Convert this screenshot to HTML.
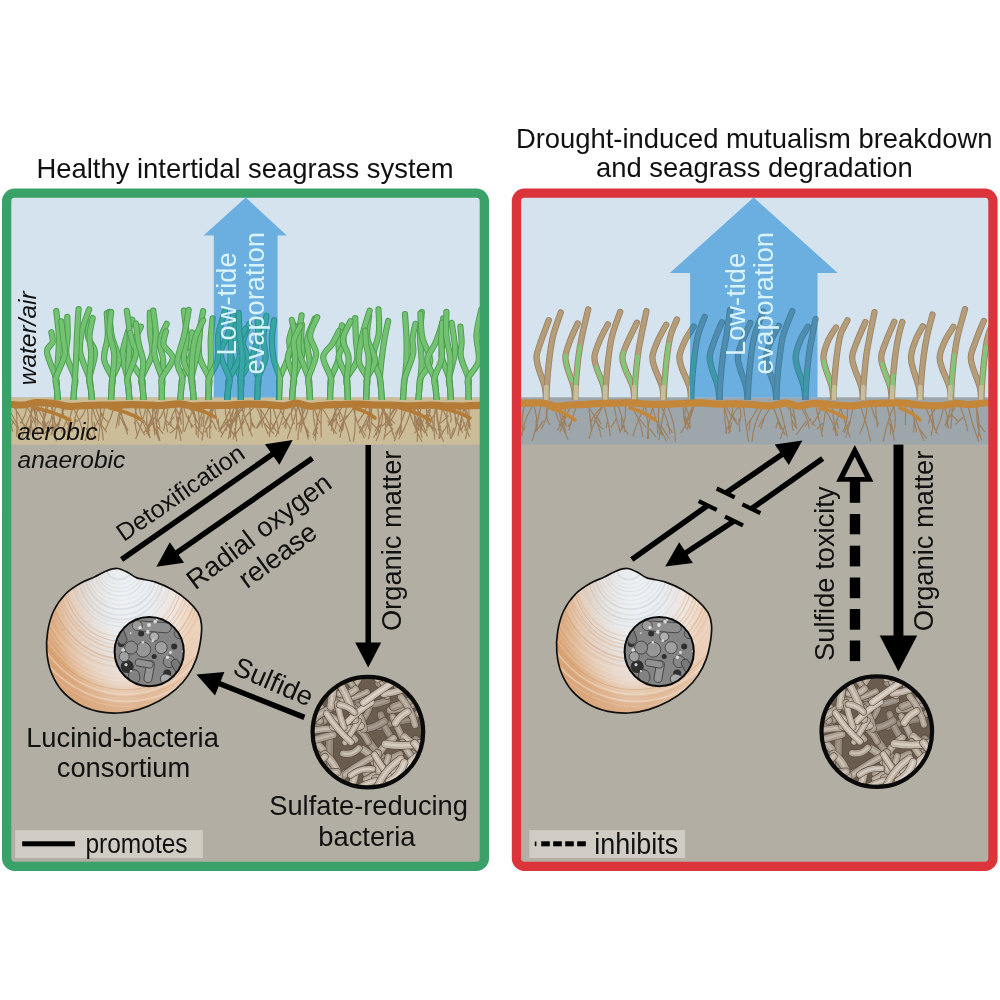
<!DOCTYPE html><html><head><meta charset="utf-8"><style>html,body{margin:0;padding:0;background:#fff;width:1000px;height:1000px;overflow:hidden}svg{display:block;will-change:transform}text{font-family:"Liberation Sans",sans-serif}</style></head><body>
<svg width="1000" height="1000" viewBox="0 0 1000 1000">
<defs>
<clipPath id="clipL"><rect x="6.65" y="193.15" width="477.7" height="673.2" rx="6"/></clipPath>
<clipPath id="clipR"><rect x="516.45" y="193.15" width="476.5" height="673.2" rx="6"/></clipPath>
</defs>
<text x="36.50" y="177.7" style="font-size:27.4px;" fill="#111">Healthy intertidal seagrass system</text>
<text x="515.90" y="147.7" style="font-size:27.4px;" fill="#111">Drought-induced mutualism breakdown</text>
<text x="596.05" y="177.3" style="font-size:27.4px;" fill="#111">and seagrass degradation</text>
<g clip-path="url(#clipL)">
<rect x="2.0" y="188.5" width="487.0" height="682.5" fill="#d5e3ef"/>
<rect x="2.0" y="397.5" width="487.0" height="473.5" fill="#b2aea3"/>
<rect x="2.0" y="397.5" width="487.0" height="47.0" fill="#cbbd97"/>
</g>
<g clip-path="url(#clipR)">
<rect x="511.8" y="188.5" width="485.8" height="682.5" fill="#d5e3ef"/>
<rect x="511.8" y="397.5" width="485.8" height="473.5" fill="#b2aea3"/>
<rect x="511.8" y="397.5" width="485.8" height="47.0" fill="#9ca6ab"/>
</g>
<polygon points="245.7,197.5 286.8,235.5 277.6,235.5 277.6,397.5 213.8,397.5 213.8,235.5 203.6,235.5" fill="#6aafdf"/>
<polygon points="753.6,197.5 837.7,272.9 817.5,272.9 817.5,397.5 690.1,397.5 690.1,272.9 669.9,272.9" fill="#6aafdf"/>
<clipPath id="lout"><rect x="0" y="190" width="213.8" height="210"/><rect x="277.6" y="190" width="220" height="210"/></clipPath>
<clipPath id="lin"><rect x="213.8" y="190" width="63.8" height="210"/></clipPath>
<g clip-path="url(#clipL)"><g clip-path="url(#lout)">
<path d="M310.1,402.0 C310.0,399.7 309.6,392.0 309.3,388.0 C309.1,384.0 308.5,382.4 308.5,378.0 C308.6,373.6 309.9,367.7 309.6,361.3 C309.4,355.0 306.3,347.0 307.2,339.8 C308.1,332.7 313.6,321.9 314.9,318.4" fill="none" stroke="#4c9d4f" stroke-width="6.199999999999999" stroke-linecap="round"/>
<path d="M310.1,402.0 C310.0,399.7 309.6,392.0 309.3,388.0 C309.1,384.0 308.5,382.4 308.5,378.0 C308.6,373.6 309.9,367.7 309.6,361.3 C309.4,355.0 306.3,347.0 307.2,339.8 C308.1,332.7 313.6,321.9 314.9,318.4" fill="none" stroke="#78c676" stroke-width="4.3" stroke-linecap="round" opacity="0.9"/>
<path d="M279.0,402.0 C279.0,399.7 279.2,392.0 279.4,388.0 C279.5,384.0 278.1,383.7 279.8,378.0 C281.5,372.3 288.0,360.4 289.6,354.0 C291.2,347.6 288.6,344.2 289.3,339.4 C290.0,334.5 293.0,327.2 293.8,324.7" fill="none" stroke="#4c9d4f" stroke-width="6.199999999999999" stroke-linecap="round"/>
<path d="M279.0,402.0 C279.0,399.7 279.2,392.0 279.4,388.0 C279.5,384.0 278.1,383.7 279.8,378.0 C281.5,372.3 288.0,360.4 289.6,354.0 C291.2,347.6 288.6,344.2 289.3,339.4 C290.0,334.5 293.0,327.2 293.8,324.7" fill="none" stroke="#78c676" stroke-width="4.3" stroke-linecap="round" opacity="0.9"/>
<path d="M291.9,402.0 C292.0,399.7 292.5,392.0 292.9,388.0 C293.2,384.0 294.8,383.1 293.9,378.0 C293.1,372.9 287.6,364.1 287.8,357.5 C287.9,350.9 294.1,344.9 294.7,338.7 C295.4,332.4 292.3,323.0 291.8,319.8" fill="none" stroke="#4c9d4f" stroke-width="6.199999999999999" stroke-linecap="round"/>
<path d="M291.9,402.0 C292.0,399.7 292.5,392.0 292.9,388.0 C293.2,384.0 294.8,383.1 293.9,378.0 C293.1,372.9 287.6,364.1 287.8,357.5 C287.9,350.9 294.1,344.9 294.7,338.7 C295.4,332.4 292.3,323.0 291.8,319.8" fill="none" stroke="#78c676" stroke-width="4.3" stroke-linecap="round" opacity="0.9"/>
<path d="M291.9,402.0 C292.0,399.7 292.5,392.0 292.9,388.0 C293.2,384.0 292.4,383.5 293.9,378.0 C295.5,372.5 300.8,361.6 302.0,355.3 C303.2,348.9 301.2,345.1 301.1,340.0 C301.1,334.9 301.8,327.2 301.9,324.7" fill="none" stroke="#4c9d4f" stroke-width="6.199999999999999" stroke-linecap="round"/>
<path d="M291.9,402.0 C292.0,399.7 292.5,392.0 292.9,388.0 C293.2,384.0 292.4,383.5 293.9,378.0 C295.5,372.5 300.8,361.6 302.0,355.3 C303.2,348.9 301.2,345.1 301.1,340.0 C301.1,334.9 301.8,327.2 301.9,324.7" fill="none" stroke="#78c676" stroke-width="4.3" stroke-linecap="round" opacity="0.9"/>
<path d="M240.9,402.0 C240.9,399.7 240.9,392.0 240.9,388.0 C240.9,384.0 239.6,382.4 240.9,378.0 C242.2,373.6 248.5,367.7 248.9,361.8 C249.2,356.0 243.0,349.2 243.0,342.9 C243.1,336.6 248.2,327.2 249.3,324.0" fill="none" stroke="#4c9d4f" stroke-width="6.199999999999999" stroke-linecap="round"/>
<path d="M240.9,402.0 C240.9,399.7 240.9,392.0 240.9,388.0 C240.9,384.0 239.6,382.4 240.9,378.0 C242.2,373.6 248.5,367.7 248.9,361.8 C249.2,356.0 243.0,349.2 243.0,342.9 C243.1,336.6 248.2,327.2 249.3,324.0" fill="none" stroke="#78c676" stroke-width="4.3" stroke-linecap="round" opacity="0.9"/>
<path d="M402.8,402.0 C403.0,399.7 403.5,392.0 403.8,388.0 C404.1,384.0 404.3,382.5 404.8,378.0 C405.2,373.5 406.1,367.9 406.4,361.1 C406.7,354.4 406.7,345.5 406.5,337.7 C406.2,329.8 405.2,318.1 405.0,314.2" fill="none" stroke="#4c9d4f" stroke-width="6.199999999999999" stroke-linecap="round"/>
<path d="M402.8,402.0 C403.0,399.7 403.5,392.0 403.8,388.0 C404.1,384.0 404.3,382.5 404.8,378.0 C405.2,373.5 406.1,367.9 406.4,361.1 C406.7,354.4 406.7,345.5 406.5,337.7 C406.2,329.8 405.2,318.1 405.0,314.2" fill="none" stroke="#78c676" stroke-width="4.3" stroke-linecap="round" opacity="0.9"/>
<path d="M180.1,402.0 C180.3,399.7 180.9,392.0 181.3,388.0 C181.6,384.0 180.7,383.8 182.4,378.0 C184.1,372.2 190.3,359.2 191.4,353.4 C192.4,347.6 188.7,346.4 188.8,343.0 C189.0,339.5 191.7,334.3 192.2,332.5" fill="none" stroke="#4c9d4f" stroke-width="6.199999999999999" stroke-linecap="round"/>
<path d="M180.1,402.0 C180.3,399.7 180.9,392.0 181.3,388.0 C181.6,384.0 180.7,383.8 182.4,378.0 C184.1,372.2 190.3,359.2 191.4,353.4 C192.4,347.6 188.7,346.4 188.8,343.0 C189.0,339.5 191.7,334.3 192.2,332.5" fill="none" stroke="#78c676" stroke-width="4.3" stroke-linecap="round" opacity="0.9"/>
<path d="M310.1,402.0 C310.0,399.7 309.6,392.0 309.3,388.0 C309.1,384.0 310.2,383.9 308.5,378.0 C306.9,372.1 300.8,359.7 299.2,352.4 C297.6,345.0 298.6,340.0 299.0,333.8 C299.4,327.6 301.2,318.4 301.6,315.3" fill="none" stroke="#4c9d4f" stroke-width="6.199999999999999" stroke-linecap="round"/>
<path d="M310.1,402.0 C310.0,399.7 309.6,392.0 309.3,388.0 C309.1,384.0 310.2,383.9 308.5,378.0 C306.9,372.1 300.8,359.7 299.2,352.4 C297.6,345.0 298.6,340.0 299.0,333.8 C299.4,327.6 301.2,318.4 301.6,315.3" fill="none" stroke="#78c676" stroke-width="4.3" stroke-linecap="round" opacity="0.9"/>
<path d="M347.9,402.0 C347.9,399.7 347.6,392.0 347.4,388.0 C347.2,384.0 345.2,382.6 346.8,378.0 C348.4,373.4 355.4,367.0 356.9,360.5 C358.4,354.1 356.2,346.4 355.9,339.3 C355.6,332.3 355.3,321.7 355.2,318.1" fill="none" stroke="#4c9d4f" stroke-width="6.199999999999999" stroke-linecap="round"/>
<path d="M347.9,402.0 C347.9,399.7 347.6,392.0 347.4,388.0 C347.2,384.0 345.2,382.6 346.8,378.0 C348.4,373.4 355.4,367.0 356.9,360.5 C358.4,354.1 356.2,346.4 355.9,339.3 C355.6,332.3 355.3,321.7 355.2,318.1" fill="none" stroke="#78c676" stroke-width="4.3" stroke-linecap="round" opacity="0.9"/>
<path d="M240.9,402.0 C240.9,399.7 240.9,392.0 240.9,388.0 C240.9,384.0 242.6,383.5 240.9,378.0 C239.2,372.5 231.3,360.8 230.8,354.8 C230.3,348.8 235.5,346.2 238.0,341.9 C240.4,337.6 244.2,331.2 245.4,329.1" fill="none" stroke="#4c9d4f" stroke-width="6.199999999999999" stroke-linecap="round"/>
<path d="M240.9,402.0 C240.9,399.7 240.9,392.0 240.9,388.0 C240.9,384.0 242.6,383.5 240.9,378.0 C239.2,372.5 231.3,360.8 230.8,354.8 C230.3,348.8 235.5,346.2 238.0,341.9 C240.4,337.6 244.2,331.2 245.4,329.1" fill="none" stroke="#78c676" stroke-width="4.3" stroke-linecap="round" opacity="0.9"/>
<path d="M57.8,402.0 C57.7,399.7 57.2,392.0 56.9,388.0 C56.5,384.0 55.7,382.4 55.9,378.0 C56.1,373.6 57.4,368.7 57.9,361.8 C58.4,354.9 59.1,344.9 58.8,336.5 C58.6,328.1 56.7,315.4 56.3,311.2" fill="none" stroke="#4c9d4f" stroke-width="6.199999999999999" stroke-linecap="round"/>
<path d="M57.8,402.0 C57.7,399.7 57.2,392.0 56.9,388.0 C56.5,384.0 55.7,382.4 55.9,378.0 C56.1,373.6 57.4,368.7 57.9,361.8 C58.4,354.9 59.1,344.9 58.8,336.5 C58.6,328.1 56.7,315.4 56.3,311.2" fill="none" stroke="#78c676" stroke-width="4.3" stroke-linecap="round" opacity="0.9"/>
<path d="M382.0,402.0 C381.8,399.7 381.3,392.0 381.0,388.0 C380.6,384.0 379.8,382.8 379.9,378.0 C380.1,373.2 380.9,365.5 381.6,359.2 C382.4,352.9 383.2,346.4 384.3,340.1 C385.4,333.7 387.5,324.2 388.2,321.0" fill="none" stroke="#4c9d4f" stroke-width="6.199999999999999" stroke-linecap="round"/>
<path d="M382.0,402.0 C381.8,399.7 381.3,392.0 381.0,388.0 C380.6,384.0 379.8,382.8 379.9,378.0 C380.1,373.2 380.9,365.5 381.6,359.2 C382.4,352.9 383.2,346.4 384.3,340.1 C385.4,333.7 387.5,324.2 388.2,321.0" fill="none" stroke="#78c676" stroke-width="4.3" stroke-linecap="round" opacity="0.9"/>
<path d="M227.0,402.0 C227.2,399.7 227.8,392.0 228.2,388.0 C228.6,384.0 229.0,382.7 229.4,378.0 C229.8,373.3 230.3,366.1 230.5,359.5 C230.8,353.0 230.5,345.6 231.1,338.7 C231.6,331.7 233.3,321.3 233.8,317.8" fill="none" stroke="#4c9d4f" stroke-width="6.199999999999999" stroke-linecap="round"/>
<path d="M227.0,402.0 C227.2,399.7 227.8,392.0 228.2,388.0 C228.6,384.0 229.0,382.7 229.4,378.0 C229.8,373.3 230.3,366.1 230.5,359.5 C230.8,353.0 230.5,345.6 231.1,338.7 C231.6,331.7 233.3,321.3 233.8,317.8" fill="none" stroke="#78c676" stroke-width="4.3" stroke-linecap="round" opacity="0.9"/>
<path d="M329.9,402.0 C330.0,399.7 330.2,392.0 330.4,388.0 C330.6,384.0 329.6,382.9 331.0,378.0 C332.4,373.1 337.4,364.9 338.6,358.9 C339.9,352.9 338.1,347.7 338.6,342.1 C339.2,336.5 341.4,328.1 342.0,325.3" fill="none" stroke="#4c9d4f" stroke-width="6.199999999999999" stroke-linecap="round"/>
<path d="M329.9,402.0 C330.0,399.7 330.2,392.0 330.4,388.0 C330.6,384.0 329.6,382.9 331.0,378.0 C332.4,373.1 337.4,364.9 338.6,358.9 C339.9,352.9 338.1,347.7 338.6,342.1 C339.2,336.5 341.4,328.1 342.0,325.3" fill="none" stroke="#78c676" stroke-width="4.3" stroke-linecap="round" opacity="0.9"/>
<path d="M451.0,402.0 C450.9,399.7 450.4,392.0 450.1,388.0 C449.8,384.0 448.3,383.8 449.1,378.0 C450.0,372.2 454.2,359.6 455.0,353.0 C455.7,346.3 454.4,342.9 453.9,337.9 C453.3,332.9 452.1,325.4 451.7,322.9" fill="none" stroke="#4c9d4f" stroke-width="6.199999999999999" stroke-linecap="round"/>
<path d="M451.0,402.0 C450.9,399.7 450.4,392.0 450.1,388.0 C449.8,384.0 448.3,383.8 449.1,378.0 C450.0,372.2 454.2,359.6 455.0,353.0 C455.7,346.3 454.4,342.9 453.9,337.9 C453.3,332.9 452.1,325.4 451.7,322.9" fill="none" stroke="#78c676" stroke-width="4.3" stroke-linecap="round" opacity="0.9"/>
<path d="M451.0,402.0 C450.9,399.7 450.4,392.0 450.1,388.0 C449.8,384.0 450.6,383.4 449.1,378.0 C447.7,372.6 442.5,362.6 441.6,355.7 C440.7,348.9 443.6,343.3 443.9,337.1 C444.2,330.8 443.3,321.5 443.2,318.4" fill="none" stroke="#4c9d4f" stroke-width="6.199999999999999" stroke-linecap="round"/>
<path d="M451.0,402.0 C450.9,399.7 450.4,392.0 450.1,388.0 C449.8,384.0 450.6,383.4 449.1,378.0 C447.7,372.6 442.5,362.6 441.6,355.7 C440.7,348.9 443.6,343.3 443.9,337.1 C444.2,330.8 443.3,321.5 443.2,318.4" fill="none" stroke="#78c676" stroke-width="4.3" stroke-linecap="round" opacity="0.9"/>
<path d="M208.3,402.0 C208.4,399.7 208.5,392.0 208.7,388.0 C208.8,384.0 208.6,382.6 209.0,378.0 C209.3,373.4 210.6,366.8 210.9,360.4 C211.2,353.9 210.4,346.4 210.7,339.4 C211.0,332.3 212.3,321.8 212.6,318.3" fill="none" stroke="#4c9d4f" stroke-width="6.199999999999999" stroke-linecap="round"/>
<path d="M208.3,402.0 C208.4,399.7 208.5,392.0 208.7,388.0 C208.8,384.0 208.6,382.6 209.0,378.0 C209.3,373.4 210.6,366.8 210.9,360.4 C211.2,353.9 210.4,346.4 210.7,339.4 C211.0,332.3 212.3,321.8 212.6,318.3" fill="none" stroke="#78c676" stroke-width="4.3" stroke-linecap="round" opacity="0.9"/>
<path d="M143.6,402.0 C143.5,399.7 143.0,392.0 142.7,388.0 C142.3,384.0 143.6,382.5 141.7,378.0 C139.8,373.5 132.5,366.5 131.1,360.8 C129.7,355.1 131.7,349.5 133.4,343.8 C135.0,338.1 139.6,329.6 140.8,326.7" fill="none" stroke="#4c9d4f" stroke-width="6.199999999999999" stroke-linecap="round"/>
<path d="M143.6,402.0 C143.5,399.7 143.0,392.0 142.7,388.0 C142.3,384.0 143.6,382.5 141.7,378.0 C139.8,373.5 132.5,366.5 131.1,360.8 C129.7,355.1 131.7,349.5 133.4,343.8 C135.0,338.1 139.6,329.6 140.8,326.7" fill="none" stroke="#78c676" stroke-width="4.3" stroke-linecap="round" opacity="0.9"/>
<path d="M418.2,402.0 C418.4,399.7 419.0,392.0 419.4,388.0 C419.8,384.0 420.2,382.4 420.5,378.0 C420.9,373.6 421.7,368.3 421.7,361.4 C421.6,354.5 420.0,345.0 420.0,336.8 C420.0,328.6 421.5,316.3 421.8,312.2" fill="none" stroke="#4c9d4f" stroke-width="6.199999999999999" stroke-linecap="round"/>
<path d="M418.2,402.0 C418.4,399.7 419.0,392.0 419.4,388.0 C419.8,384.0 420.2,382.4 420.5,378.0 C420.9,373.6 421.7,368.3 421.7,361.4 C421.6,354.5 420.0,345.0 420.0,336.8 C420.0,328.6 421.5,316.3 421.8,312.2" fill="none" stroke="#78c676" stroke-width="4.3" stroke-linecap="round" opacity="0.9"/>
<path d="M468.6,402.0 C468.6,399.7 468.5,392.0 468.5,388.0 C468.4,384.0 469.6,383.1 468.3,378.0 C467.1,372.9 462.0,363.1 460.9,357.1 C459.8,351.1 461.7,347.0 461.6,341.9 C461.5,336.9 460.6,329.3 460.4,326.7" fill="none" stroke="#4c9d4f" stroke-width="6.199999999999999" stroke-linecap="round"/>
<path d="M468.6,402.0 C468.6,399.7 468.5,392.0 468.5,388.0 C468.4,384.0 469.6,383.1 468.3,378.0 C467.1,372.9 462.0,363.1 460.9,357.1 C459.8,351.1 461.7,347.0 461.6,341.9 C461.5,336.9 460.6,329.3 460.4,326.7" fill="none" stroke="#78c676" stroke-width="4.3" stroke-linecap="round" opacity="0.9"/>
<path d="M57.8,402.0 C57.7,399.7 57.2,392.0 56.9,388.0 C56.5,384.0 57.6,384.0 55.9,378.0 C54.3,372.0 47.5,358.1 47.0,352.2 C46.4,346.2 51.9,345.5 52.6,342.2 C53.3,338.8 51.6,333.8 51.3,332.2" fill="none" stroke="#4c9d4f" stroke-width="6.199999999999999" stroke-linecap="round"/>
<path d="M57.8,402.0 C57.7,399.7 57.2,392.0 56.9,388.0 C56.5,384.0 57.6,384.0 55.9,378.0 C54.3,372.0 47.5,358.1 47.0,352.2 C46.4,346.2 51.9,345.5 52.6,342.2 C53.3,338.8 51.6,333.8 51.3,332.2" fill="none" stroke="#78c676" stroke-width="4.3" stroke-linecap="round" opacity="0.9"/>
<path d="M418.2,402.0 C418.4,399.7 419.0,392.0 419.4,388.0 C419.8,384.0 418.7,382.5 420.5,378.0 C422.4,373.5 429.9,367.7 430.2,360.9 C430.5,354.1 424.0,345.2 422.3,337.3 C420.7,329.4 420.7,317.6 420.4,313.7" fill="none" stroke="#4c9d4f" stroke-width="6.199999999999999" stroke-linecap="round"/>
<path d="M418.2,402.0 C418.4,399.7 419.0,392.0 419.4,388.0 C419.8,384.0 418.7,382.5 420.5,378.0 C422.4,373.5 429.9,367.7 430.2,360.9 C430.5,354.1 424.0,345.2 422.3,337.3 C420.7,329.4 420.7,317.6 420.4,313.7" fill="none" stroke="#78c676" stroke-width="4.3" stroke-linecap="round" opacity="0.9"/>
<path d="M92.2,402.0 C91.9,399.7 91.2,392.0 90.8,388.0 C90.3,384.0 88.6,383.9 89.4,378.0 C90.1,372.1 95.2,359.4 95.0,352.7 C94.8,345.9 89.3,342.6 88.3,337.6 C87.2,332.6 88.4,325.0 88.5,322.5" fill="none" stroke="#4c9d4f" stroke-width="6.199999999999999" stroke-linecap="round"/>
<path d="M92.2,402.0 C91.9,399.7 91.2,392.0 90.8,388.0 C90.3,384.0 88.6,383.9 89.4,378.0 C90.1,372.1 95.2,359.4 95.0,352.7 C94.8,345.9 89.3,342.6 88.3,337.6 C87.2,332.6 88.4,325.0 88.5,322.5" fill="none" stroke="#78c676" stroke-width="4.3" stroke-linecap="round" opacity="0.9"/>
<path d="M161.9,402.0 C161.9,399.7 161.9,392.0 161.9,388.0 C162.0,384.0 161.8,382.8 162.0,378.0 C162.2,373.2 163.5,365.6 163.1,359.5 C162.7,353.4 159.1,347.6 159.7,341.6 C160.3,335.7 165.6,326.8 166.7,323.8" fill="none" stroke="#4c9d4f" stroke-width="6.199999999999999" stroke-linecap="round"/>
<path d="M161.9,402.0 C161.9,399.7 161.9,392.0 161.9,388.0 C162.0,384.0 161.8,382.8 162.0,378.0 C162.2,373.2 163.5,365.6 163.1,359.5 C162.7,353.4 159.1,347.6 159.7,341.6 C160.3,335.7 165.6,326.8 166.7,323.8" fill="none" stroke="#78c676" stroke-width="4.3" stroke-linecap="round" opacity="0.9"/>
<path d="M129.5,402.0 C129.3,399.7 128.9,392.0 128.6,388.0 C128.3,384.0 128.6,383.4 127.6,378.0 C126.6,372.6 122.8,362.6 122.6,355.9 C122.3,349.1 124.6,343.8 126.2,337.7 C127.8,331.7 131.3,322.6 132.3,319.6" fill="none" stroke="#4c9d4f" stroke-width="6.199999999999999" stroke-linecap="round"/>
<path d="M129.5,402.0 C129.3,399.7 128.9,392.0 128.6,388.0 C128.3,384.0 128.6,383.4 127.6,378.0 C126.6,372.6 122.8,362.6 122.6,355.9 C122.3,349.1 124.6,343.8 126.2,337.7 C127.8,331.7 131.3,322.6 132.3,319.6" fill="none" stroke="#78c676" stroke-width="4.3" stroke-linecap="round" opacity="0.9"/>
<path d="M227.0,402.0 C227.2,399.7 227.8,392.0 228.2,388.0 C228.6,384.0 227.4,383.3 229.4,378.0 C231.3,372.7 239.1,362.9 239.9,356.0 C240.8,349.2 235.6,343.1 234.6,336.6 C233.7,330.2 234.4,320.5 234.3,317.2" fill="none" stroke="#4c9d4f" stroke-width="6.199999999999999" stroke-linecap="round"/>
<path d="M227.0,402.0 C227.2,399.7 227.8,392.0 228.2,388.0 C228.6,384.0 227.4,383.3 229.4,378.0 C231.3,372.7 239.1,362.9 239.9,356.0 C240.8,349.2 235.6,343.1 234.6,336.6 C233.7,330.2 234.4,320.5 234.3,317.2" fill="none" stroke="#78c676" stroke-width="4.3" stroke-linecap="round" opacity="0.9"/>
<path d="M257.2,402.0 C257.2,399.7 257.5,392.0 257.7,388.0 C257.9,384.0 259.2,382.7 258.2,378.0 C257.3,373.3 252.1,366.2 252.1,359.8 C252.0,353.3 256.9,346.1 257.8,339.3 C258.8,332.4 257.8,322.1 257.8,318.7" fill="none" stroke="#4c9d4f" stroke-width="6.199999999999999" stroke-linecap="round"/>
<path d="M257.2,402.0 C257.2,399.7 257.5,392.0 257.7,388.0 C257.9,384.0 259.2,382.7 258.2,378.0 C257.3,373.3 252.1,366.2 252.1,359.8 C252.0,353.3 256.9,346.1 257.8,339.3 C258.8,332.4 257.8,322.1 257.8,318.7" fill="none" stroke="#78c676" stroke-width="4.3" stroke-linecap="round" opacity="0.9"/>
<path d="M436.8,402.0 C436.6,399.7 436.0,392.0 435.6,388.0 C435.2,384.0 435.8,382.7 434.4,378.0 C433.0,373.3 427.1,366.0 427.3,360.0 C427.6,354.1 433.4,348.1 435.8,342.1 C438.3,336.2 441.0,327.2 442.0,324.2" fill="none" stroke="#4c9d4f" stroke-width="6.199999999999999" stroke-linecap="round"/>
<path d="M436.8,402.0 C436.6,399.7 436.0,392.0 435.6,388.0 C435.2,384.0 435.8,382.7 434.4,378.0 C433.0,373.3 427.1,366.0 427.3,360.0 C427.6,354.1 433.4,348.1 435.8,342.1 C438.3,336.2 441.0,327.2 442.0,324.2" fill="none" stroke="#78c676" stroke-width="4.3" stroke-linecap="round" opacity="0.9"/>
<path d="M110.9,402.0 C111.0,399.7 111.4,392.0 111.7,388.0 C111.9,384.0 113.7,382.8 112.4,378.0 C111.2,373.2 104.9,366.3 104.1,359.3 C103.3,352.4 107.3,344.0 107.7,336.3 C108.2,328.6 107.0,317.1 106.8,313.3" fill="none" stroke="#4c9d4f" stroke-width="6.199999999999999" stroke-linecap="round"/>
<path d="M110.9,402.0 C111.0,399.7 111.4,392.0 111.7,388.0 C111.9,384.0 113.7,382.8 112.4,378.0 C111.2,373.2 104.9,366.3 104.1,359.3 C103.3,352.4 107.3,344.0 107.7,336.3 C108.2,328.6 107.0,317.1 106.8,313.3" fill="none" stroke="#78c676" stroke-width="4.3" stroke-linecap="round" opacity="0.9"/>
<path d="M291.9,402.0 C292.0,399.7 292.5,392.0 292.9,388.0 C293.2,384.0 293.6,383.4 293.9,378.0 C294.3,372.6 295.3,362.1 295.2,355.9 C295.2,349.7 292.8,345.9 293.7,340.8 C294.6,335.8 299.4,328.3 300.5,325.8" fill="none" stroke="#4c9d4f" stroke-width="6.199999999999999" stroke-linecap="round"/>
<path d="M291.9,402.0 C292.0,399.7 292.5,392.0 292.9,388.0 C293.2,384.0 293.6,383.4 293.9,378.0 C294.3,372.6 295.3,362.1 295.2,355.9 C295.2,349.7 292.8,345.9 293.7,340.8 C294.6,335.8 299.4,328.3 300.5,325.8" fill="none" stroke="#78c676" stroke-width="4.3" stroke-linecap="round" opacity="0.9"/>
<path d="M382.0,402.0 C381.8,399.7 381.3,392.0 381.0,388.0 C380.6,384.0 381.2,383.2 379.9,378.0 C378.7,372.8 373.4,364.5 373.2,357.0 C373.1,349.5 378.0,341.1 378.8,333.1 C379.7,325.2 378.6,313.3 378.5,309.3" fill="none" stroke="#4c9d4f" stroke-width="6.199999999999999" stroke-linecap="round"/>
<path d="M382.0,402.0 C381.8,399.7 381.3,392.0 381.0,388.0 C380.6,384.0 381.2,383.2 379.9,378.0 C378.7,372.8 373.4,364.5 373.2,357.0 C373.1,349.5 378.0,341.1 378.8,333.1 C379.7,325.2 378.6,313.3 378.5,309.3" fill="none" stroke="#78c676" stroke-width="4.3" stroke-linecap="round" opacity="0.9"/>
<path d="M143.6,402.0 C143.5,399.7 143.0,392.0 142.7,388.0 C142.3,384.0 140.1,383.7 141.7,378.0 C143.3,372.3 150.8,361.3 152.2,353.9 C153.6,346.4 150.5,340.2 150.1,333.3 C149.7,326.4 149.9,316.1 149.9,312.7" fill="none" stroke="#4c9d4f" stroke-width="6.199999999999999" stroke-linecap="round"/>
<path d="M143.6,402.0 C143.5,399.7 143.0,392.0 142.7,388.0 C142.3,384.0 140.1,383.7 141.7,378.0 C143.3,372.3 150.8,361.3 152.2,353.9 C153.6,346.4 150.5,340.2 150.1,333.3 C149.7,326.4 149.9,316.1 149.9,312.7" fill="none" stroke="#78c676" stroke-width="4.3" stroke-linecap="round" opacity="0.9"/>
<path d="M73.4,402.0 C73.5,399.7 73.9,392.0 74.2,388.0 C74.5,384.0 76.3,383.5 75.0,378.0 C73.7,372.5 67.7,362.0 66.5,354.9 C65.3,347.9 67.6,342.2 67.7,335.9 C67.8,329.5 67.3,320.0 67.3,316.8" fill="none" stroke="#4c9d4f" stroke-width="6.199999999999999" stroke-linecap="round"/>
<path d="M73.4,402.0 C73.5,399.7 73.9,392.0 74.2,388.0 C74.5,384.0 76.3,383.5 75.0,378.0 C73.7,372.5 67.7,362.0 66.5,354.9 C65.3,347.9 67.6,342.2 67.7,335.9 C67.8,329.5 67.3,320.0 67.3,316.8" fill="none" stroke="#78c676" stroke-width="4.3" stroke-linecap="round" opacity="0.9"/>
<path d="M193.8,402.0 C193.6,399.7 193.1,392.0 192.7,388.0 C192.4,384.0 193.1,382.4 191.6,378.0 C190.2,373.6 184.8,368.4 183.9,361.4 C183.1,354.4 186.4,344.5 186.5,336.1 C186.5,327.6 184.4,315.0 183.9,310.7" fill="none" stroke="#4c9d4f" stroke-width="6.199999999999999" stroke-linecap="round"/>
<path d="M193.8,402.0 C193.6,399.7 193.1,392.0 192.7,388.0 C192.4,384.0 193.1,382.4 191.6,378.0 C190.2,373.6 184.8,368.4 183.9,361.4 C183.1,354.4 186.4,344.5 186.5,336.1 C186.5,327.6 184.4,315.0 183.9,310.7" fill="none" stroke="#78c676" stroke-width="4.3" stroke-linecap="round" opacity="0.9"/>
<path d="M57.8,402.0 C57.7,399.7 57.2,392.0 56.9,388.0 C56.5,384.0 54.6,383.5 55.9,378.0 C57.2,372.5 63.5,361.7 64.7,355.0 C65.9,348.4 63.8,343.8 63.2,338.2 C62.7,332.5 61.6,324.1 61.3,321.3" fill="none" stroke="#4c9d4f" stroke-width="6.199999999999999" stroke-linecap="round"/>
<path d="M57.8,402.0 C57.7,399.7 57.2,392.0 56.9,388.0 C56.5,384.0 54.6,383.5 55.9,378.0 C57.2,372.5 63.5,361.7 64.7,355.0 C65.9,348.4 63.8,343.8 63.2,338.2 C62.7,332.5 61.6,324.1 61.3,321.3" fill="none" stroke="#78c676" stroke-width="4.3" stroke-linecap="round" opacity="0.9"/>
<path d="M92.2,402.0 C91.9,399.7 91.2,392.0 90.8,388.0 C90.3,384.0 91.1,383.9 89.4,378.0 C87.6,372.1 81.5,360.4 80.2,352.5 C79.0,344.7 80.5,338.2 81.9,331.0 C83.4,323.8 87.9,313.0 89.1,309.4" fill="none" stroke="#4c9d4f" stroke-width="6.199999999999999" stroke-linecap="round"/>
<path d="M92.2,402.0 C91.9,399.7 91.2,392.0 90.8,388.0 C90.3,384.0 91.1,383.9 89.4,378.0 C87.6,372.1 81.5,360.4 80.2,352.5 C79.0,344.7 80.5,338.2 81.9,331.0 C83.4,323.8 87.9,313.0 89.1,309.4" fill="none" stroke="#78c676" stroke-width="4.3" stroke-linecap="round" opacity="0.9"/>
<path d="M227.0,402.0 C227.2,399.7 227.8,392.0 228.2,388.0 C228.6,384.0 230.6,383.7 229.4,378.0 C228.1,372.3 220.8,361.3 220.6,354.0 C220.3,346.8 225.9,341.0 228.0,334.5 C230.1,328.0 232.4,318.3 233.3,315.0" fill="none" stroke="#4c9d4f" stroke-width="6.199999999999999" stroke-linecap="round"/>
<path d="M227.0,402.0 C227.2,399.7 227.8,392.0 228.2,388.0 C228.6,384.0 230.6,383.7 229.4,378.0 C228.1,372.3 220.8,361.3 220.6,354.0 C220.3,346.8 225.9,341.0 228.0,334.5 C230.1,328.0 232.4,318.3 233.3,315.0" fill="none" stroke="#78c676" stroke-width="4.3" stroke-linecap="round" opacity="0.9"/>
<path d="M161.9,402.0 C161.9,399.7 161.9,392.0 161.9,388.0 C162.0,384.0 163.2,383.5 162.0,378.0 C160.8,372.5 155.6,362.4 154.5,354.8 C153.5,347.3 156.0,340.1 155.8,332.7 C155.5,325.4 153.7,314.3 153.3,310.7" fill="none" stroke="#4c9d4f" stroke-width="6.199999999999999" stroke-linecap="round"/>
<path d="M161.9,402.0 C161.9,399.7 161.9,392.0 161.9,388.0 C162.0,384.0 163.2,383.5 162.0,378.0 C160.8,372.5 155.6,362.4 154.5,354.8 C153.5,347.3 156.0,340.1 155.8,332.7 C155.5,325.4 153.7,314.3 153.3,310.7" fill="none" stroke="#78c676" stroke-width="4.3" stroke-linecap="round" opacity="0.9"/>
<path d="M436.8,402.0 C436.6,399.7 436.0,392.0 435.6,388.0 C435.2,384.0 433.4,382.8 434.4,378.0 C435.4,373.2 440.4,365.2 441.5,359.0 C442.7,352.9 441.1,346.9 441.2,340.9 C441.3,334.8 442.0,325.7 442.1,322.7" fill="none" stroke="#4c9d4f" stroke-width="6.199999999999999" stroke-linecap="round"/>
<path d="M436.8,402.0 C436.6,399.7 436.0,392.0 435.6,388.0 C435.2,384.0 433.4,382.8 434.4,378.0 C435.4,373.2 440.4,365.2 441.5,359.0 C442.7,352.9 441.1,346.9 441.2,340.9 C441.3,334.8 442.0,325.7 442.1,322.7" fill="none" stroke="#78c676" stroke-width="4.3" stroke-linecap="round" opacity="0.9"/>
<path d="M73.4,402.0 C73.5,399.7 73.9,392.0 74.2,388.0 C74.5,384.0 74.7,383.1 75.0,378.0 C75.3,372.9 75.8,365.0 76.1,357.5 C76.5,350.1 76.7,341.4 77.1,333.3 C77.5,325.2 78.3,313.1 78.6,309.1" fill="none" stroke="#4c9d4f" stroke-width="6.199999999999999" stroke-linecap="round"/>
<path d="M73.4,402.0 C73.5,399.7 73.9,392.0 74.2,388.0 C74.5,384.0 74.7,383.1 75.0,378.0 C75.3,372.9 75.8,365.0 76.1,357.5 C76.5,350.1 76.7,341.4 77.1,333.3 C77.5,325.2 78.3,313.1 78.6,309.1" fill="none" stroke="#78c676" stroke-width="4.3" stroke-linecap="round" opacity="0.9"/>
<path d="M310.1,402.0 C310.0,399.7 309.6,392.0 309.3,388.0 C309.1,384.0 307.4,383.6 308.5,378.0 C309.7,372.4 315.8,361.2 316.1,354.2 C316.3,347.1 309.9,341.9 310.1,335.7 C310.2,329.5 316.0,320.3 317.2,317.2" fill="none" stroke="#4c9d4f" stroke-width="6.199999999999999" stroke-linecap="round"/>
<path d="M310.1,402.0 C310.0,399.7 309.6,392.0 309.3,388.0 C309.1,384.0 307.4,383.6 308.5,378.0 C309.7,372.4 315.8,361.2 316.1,354.2 C316.3,347.1 309.9,341.9 310.1,335.7 C310.2,329.5 316.0,320.3 317.2,317.2" fill="none" stroke="#78c676" stroke-width="4.3" stroke-linecap="round" opacity="0.9"/>
<path d="M129.5,402.0 C129.3,399.7 128.9,392.0 128.6,388.0 C128.3,384.0 127.6,383.4 127.6,378.0 C127.7,372.6 128.5,363.1 128.9,355.7 C129.2,348.2 130.0,340.7 129.6,333.2 C129.3,325.8 127.3,314.5 126.8,310.8" fill="none" stroke="#4c9d4f" stroke-width="6.199999999999999" stroke-linecap="round"/>
<path d="M129.5,402.0 C129.3,399.7 128.9,392.0 128.6,388.0 C128.3,384.0 127.6,383.4 127.6,378.0 C127.7,372.6 128.5,363.1 128.9,355.7 C129.2,348.2 130.0,340.7 129.6,333.2 C129.3,325.8 127.3,314.5 126.8,310.8" fill="none" stroke="#78c676" stroke-width="4.3" stroke-linecap="round" opacity="0.9"/>
<path d="M366.0,402.0 C366.1,399.7 366.4,392.0 366.6,388.0 C366.8,384.0 365.7,382.6 367.1,378.0 C368.5,373.4 375.0,366.9 375.0,360.2 C375.0,353.5 368.3,345.3 367.3,337.8 C366.4,330.4 368.8,319.2 369.1,315.5" fill="none" stroke="#4c9d4f" stroke-width="6.199999999999999" stroke-linecap="round"/>
<path d="M366.0,402.0 C366.1,399.7 366.4,392.0 366.6,388.0 C366.8,384.0 365.7,382.6 367.1,378.0 C368.5,373.4 375.0,366.9 375.0,360.2 C375.0,353.5 368.3,345.3 367.3,337.8 C366.4,330.4 368.8,319.2 369.1,315.5" fill="none" stroke="#78c676" stroke-width="4.3" stroke-linecap="round" opacity="0.9"/>
<path d="M129.5,402.0 C129.3,399.7 128.9,392.0 128.6,388.0 C128.3,384.0 126.3,383.8 127.6,378.0 C128.9,372.2 135.4,359.3 136.2,353.5 C137.1,347.7 133.7,346.6 132.7,343.2 C131.7,339.8 130.6,334.6 130.2,332.9" fill="none" stroke="#4c9d4f" stroke-width="6.199999999999999" stroke-linecap="round"/>
<path d="M129.5,402.0 C129.3,399.7 128.9,392.0 128.6,388.0 C128.3,384.0 126.3,383.8 127.6,378.0 C128.9,372.2 135.4,359.3 136.2,353.5 C137.1,347.7 133.7,346.6 132.7,343.2 C131.7,339.8 130.6,334.6 130.2,332.9" fill="none" stroke="#78c676" stroke-width="4.3" stroke-linecap="round" opacity="0.9"/>
<path d="M208.3,402.0 C208.4,399.7 208.5,392.0 208.7,388.0 C208.8,384.0 210.5,383.2 209.0,378.0 C207.5,372.8 201.1,364.2 199.5,356.8 C197.9,349.5 198.9,341.5 199.5,333.9 C200.1,326.3 202.5,314.8 203.1,311.0" fill="none" stroke="#4c9d4f" stroke-width="6.199999999999999" stroke-linecap="round"/>
<path d="M208.3,402.0 C208.4,399.7 208.5,392.0 208.7,388.0 C208.8,384.0 210.5,383.2 209.0,378.0 C207.5,372.8 201.1,364.2 199.5,356.8 C197.9,349.5 198.9,341.5 199.5,333.9 C200.1,326.3 202.5,314.8 203.1,311.0" fill="none" stroke="#78c676" stroke-width="4.3" stroke-linecap="round" opacity="0.9"/>
<path d="M193.8,402.0 C193.6,399.7 193.1,392.0 192.7,388.0 C192.4,384.0 190.9,383.9 191.6,378.0 C192.4,372.1 196.2,359.2 197.4,352.8 C198.7,346.5 198.7,344.1 199.2,339.8 C199.6,335.4 199.8,328.9 199.9,326.7" fill="none" stroke="#4c9d4f" stroke-width="6.199999999999999" stroke-linecap="round"/>
<path d="M193.8,402.0 C193.6,399.7 193.1,392.0 192.7,388.0 C192.4,384.0 190.9,383.9 191.6,378.0 C192.4,372.1 196.2,359.2 197.4,352.8 C198.7,346.5 198.7,344.1 199.2,339.8 C199.6,335.4 199.8,328.9 199.9,326.7" fill="none" stroke="#78c676" stroke-width="4.3" stroke-linecap="round" opacity="0.9"/>
<path d="M329.9,402.0 C330.0,399.7 330.2,392.0 330.4,388.0 C330.6,384.0 332.2,383.1 331.0,378.0 C329.8,372.9 323.0,362.8 323.2,357.2 C323.4,351.5 329.4,348.4 332.1,344.1 C334.7,339.7 337.8,333.2 339.0,331.0" fill="none" stroke="#4c9d4f" stroke-width="6.199999999999999" stroke-linecap="round"/>
<path d="M329.9,402.0 C330.0,399.7 330.2,392.0 330.4,388.0 C330.6,384.0 332.2,383.1 331.0,378.0 C329.8,372.9 323.0,362.8 323.2,357.2 C323.4,351.5 329.4,348.4 332.1,344.1 C334.7,339.7 337.8,333.2 339.0,331.0" fill="none" stroke="#78c676" stroke-width="4.3" stroke-linecap="round" opacity="0.9"/>
<path d="M257.2,402.0 C257.2,399.7 257.5,392.0 257.7,388.0 C257.9,384.0 256.9,382.9 258.2,378.0 C259.5,373.1 264.5,365.2 265.4,358.4 C266.2,351.6 263.1,344.2 263.3,337.1 C263.5,330.0 266.0,319.3 266.5,315.7" fill="none" stroke="#4c9d4f" stroke-width="6.199999999999999" stroke-linecap="round"/>
<path d="M257.2,402.0 C257.2,399.7 257.5,392.0 257.7,388.0 C257.9,384.0 256.9,382.9 258.2,378.0 C259.5,373.1 264.5,365.2 265.4,358.4 C266.2,351.6 263.1,344.2 263.3,337.1 C263.5,330.0 266.0,319.3 266.5,315.7" fill="none" stroke="#78c676" stroke-width="4.3" stroke-linecap="round" opacity="0.9"/>
<path d="M451.0,402.0 C450.9,399.7 450.4,392.0 450.1,388.0 C449.8,384.0 449.1,382.9 449.1,378.0 C449.2,373.1 450.8,365.9 450.4,358.7 C449.9,351.6 447.0,343.1 446.3,335.2 C445.7,327.4 446.4,315.7 446.4,311.8" fill="none" stroke="#4c9d4f" stroke-width="6.199999999999999" stroke-linecap="round"/>
<path d="M451.0,402.0 C450.9,399.7 450.4,392.0 450.1,388.0 C449.8,384.0 449.1,382.9 449.1,378.0 C449.2,373.1 450.8,365.9 450.4,358.7 C449.9,351.6 447.0,343.1 446.3,335.2 C445.7,327.4 446.4,315.7 446.4,311.8" fill="none" stroke="#78c676" stroke-width="4.3" stroke-linecap="round" opacity="0.9"/>
<path d="M110.9,402.0 C111.0,399.7 111.4,392.0 111.7,388.0 C111.9,384.0 111.2,382.7 112.4,378.0 C113.6,373.3 119.0,367.0 118.9,360.0 C118.8,353.0 113.3,343.9 111.7,335.9 C110.1,327.9 109.7,315.8 109.3,311.8" fill="none" stroke="#4c9d4f" stroke-width="6.199999999999999" stroke-linecap="round"/>
<path d="M110.9,402.0 C111.0,399.7 111.4,392.0 111.7,388.0 C111.9,384.0 111.2,382.7 112.4,378.0 C113.6,373.3 119.0,367.0 118.9,360.0 C118.8,353.0 113.3,343.9 111.7,335.9 C110.1,327.9 109.7,315.8 109.3,311.8" fill="none" stroke="#78c676" stroke-width="4.3" stroke-linecap="round" opacity="0.9"/>
<path d="M208.3,402.0 C208.4,399.7 208.5,392.0 208.7,388.0 C208.8,384.0 207.5,382.8 209.0,378.0 C210.5,373.2 216.3,366.4 217.8,359.3 C219.4,352.1 217.1,343.2 218.3,335.1 C219.5,327.0 223.9,315.0 225.0,310.9" fill="none" stroke="#4c9d4f" stroke-width="6.199999999999999" stroke-linecap="round"/>
<path d="M208.3,402.0 C208.4,399.7 208.5,392.0 208.7,388.0 C208.8,384.0 207.5,382.8 209.0,378.0 C210.5,373.2 216.3,366.4 217.8,359.3 C219.4,352.1 217.1,343.2 218.3,335.1 C219.5,327.0 223.9,315.0 225.0,310.9" fill="none" stroke="#78c676" stroke-width="4.3" stroke-linecap="round" opacity="0.9"/>
<path d="M110.9,402.0 C111.0,399.7 111.4,392.0 111.7,388.0 C111.9,384.0 112.0,383.6 112.4,378.0 C112.9,372.4 114.7,361.6 114.2,354.1 C113.7,346.7 110.0,340.1 109.5,333.1 C109.0,326.1 110.8,315.6 111.1,312.1" fill="none" stroke="#4c9d4f" stroke-width="6.199999999999999" stroke-linecap="round"/>
<path d="M110.9,402.0 C111.0,399.7 111.4,392.0 111.7,388.0 C111.9,384.0 112.0,383.6 112.4,378.0 C112.9,372.4 114.7,361.6 114.2,354.1 C113.7,346.7 110.0,340.1 109.5,333.1 C109.0,326.1 110.8,315.6 111.1,312.1" fill="none" stroke="#78c676" stroke-width="4.3" stroke-linecap="round" opacity="0.9"/>
<path d="M366.0,402.0 C366.1,399.7 366.4,392.0 366.6,388.0 C366.8,384.0 368.4,382.5 367.1,378.0 C365.9,373.5 359.7,368.2 358.9,361.2 C358.1,354.2 360.4,344.3 362.2,335.9 C364.0,327.5 368.4,314.8 369.7,310.6" fill="none" stroke="#4c9d4f" stroke-width="6.199999999999999" stroke-linecap="round"/>
<path d="M366.0,402.0 C366.1,399.7 366.4,392.0 366.6,388.0 C366.8,384.0 368.4,382.5 367.1,378.0 C365.9,373.5 359.7,368.2 358.9,361.2 C358.1,354.2 360.4,344.3 362.2,335.9 C364.0,327.5 368.4,314.8 369.7,310.6" fill="none" stroke="#78c676" stroke-width="4.3" stroke-linecap="round" opacity="0.9"/>
<path d="M402.8,402.0 C403.0,399.7 403.5,392.0 403.8,388.0 C404.1,384.0 403.2,383.6 404.8,378.0 C406.3,372.4 411.7,360.7 413.0,354.2 C414.3,347.7 412.1,344.0 412.5,339.0 C412.9,333.9 414.9,326.3 415.4,323.8" fill="none" stroke="#4c9d4f" stroke-width="6.199999999999999" stroke-linecap="round"/>
<path d="M402.8,402.0 C403.0,399.7 403.5,392.0 403.8,388.0 C404.1,384.0 403.2,383.6 404.8,378.0 C406.3,372.4 411.7,360.7 413.0,354.2 C414.3,347.7 412.1,344.0 412.5,339.0 C412.9,333.9 414.9,326.3 415.4,323.8" fill="none" stroke="#78c676" stroke-width="4.3" stroke-linecap="round" opacity="0.9"/>
<path d="M347.9,402.0 C347.9,399.7 347.6,392.0 347.4,388.0 C347.2,384.0 348.3,383.1 346.8,378.0 C345.4,372.9 339.2,362.9 338.7,357.4 C338.1,351.8 342.8,349.0 343.5,344.8 C344.1,340.6 342.8,334.3 342.7,332.2" fill="none" stroke="#4c9d4f" stroke-width="6.199999999999999" stroke-linecap="round"/>
<path d="M347.9,402.0 C347.9,399.7 347.6,392.0 347.4,388.0 C347.2,384.0 348.3,383.1 346.8,378.0 C345.4,372.9 339.2,362.9 338.7,357.4 C338.1,351.8 342.8,349.0 343.5,344.8 C344.1,340.6 342.8,334.3 342.7,332.2" fill="none" stroke="#78c676" stroke-width="4.3" stroke-linecap="round" opacity="0.9"/>
<path d="M92.2,402.0 C91.9,399.7 91.2,392.0 90.8,388.0 C90.3,384.0 89.3,383.7 89.4,378.0 C89.4,372.3 91.2,361.0 91.2,354.0 C91.2,347.0 89.2,342.0 89.5,336.0 C89.7,330.0 92.2,321.0 92.7,318.0" fill="none" stroke="#4c9d4f" stroke-width="6.199999999999999" stroke-linecap="round"/>
<path d="M92.2,402.0 C91.9,399.7 91.2,392.0 90.8,388.0 C90.3,384.0 89.3,383.7 89.4,378.0 C89.4,372.3 91.2,361.0 91.2,354.0 C91.2,347.0 89.2,342.0 89.5,336.0 C89.7,330.0 92.2,321.0 92.7,318.0" fill="none" stroke="#78c676" stroke-width="4.3" stroke-linecap="round" opacity="0.9"/>
<path d="M161.9,402.0 C161.9,399.7 161.9,392.0 161.9,388.0 C162.0,384.0 160.2,382.9 162.0,378.0 C163.8,373.1 172.6,364.0 172.9,358.5 C173.1,353.0 164.8,349.5 163.7,344.9 C162.5,340.4 165.6,333.6 166.0,331.3" fill="none" stroke="#4c9d4f" stroke-width="6.199999999999999" stroke-linecap="round"/>
<path d="M161.9,402.0 C161.9,399.7 161.9,392.0 161.9,388.0 C162.0,384.0 160.2,382.9 162.0,378.0 C163.8,373.1 172.6,364.0 172.9,358.5 C173.1,353.0 164.8,349.5 163.7,344.9 C162.5,340.4 165.6,333.6 166.0,331.3" fill="none" stroke="#78c676" stroke-width="4.3" stroke-linecap="round" opacity="0.9"/>
<path d="M143.6,402.0 C143.5,399.7 143.0,392.0 142.7,388.0 C142.3,384.0 141.6,382.4 141.7,378.0 C141.8,373.6 143.8,367.5 143.2,361.6 C142.7,355.7 139.7,348.9 138.5,342.6 C137.3,336.2 136.4,326.7 135.9,323.5" fill="none" stroke="#4c9d4f" stroke-width="6.199999999999999" stroke-linecap="round"/>
<path d="M143.6,402.0 C143.5,399.7 143.0,392.0 142.7,388.0 C142.3,384.0 141.6,382.4 141.7,378.0 C141.8,373.6 143.8,367.5 143.2,361.6 C142.7,355.7 139.7,348.9 138.5,342.6 C137.3,336.2 136.4,326.7 135.9,323.5" fill="none" stroke="#78c676" stroke-width="4.3" stroke-linecap="round" opacity="0.9"/>
<path d="M347.9,402.0 C347.9,399.7 347.6,392.0 347.4,388.0 C347.2,384.0 346.6,383.1 346.8,378.0 C347.0,372.9 349.2,363.6 348.5,357.2 C347.9,350.7 342.6,345.1 343.0,339.1 C343.3,333.1 349.3,324.1 350.6,321.1" fill="none" stroke="#4c9d4f" stroke-width="6.199999999999999" stroke-linecap="round"/>
<path d="M347.9,402.0 C347.9,399.7 347.6,392.0 347.4,388.0 C347.2,384.0 346.6,383.1 346.8,378.0 C347.0,372.9 349.2,363.6 348.5,357.2 C347.9,350.7 342.6,345.1 343.0,339.1 C343.3,333.1 349.3,324.1 350.6,321.1" fill="none" stroke="#78c676" stroke-width="4.3" stroke-linecap="round" opacity="0.9"/>
<path d="M468.6,402.0 C468.6,399.7 468.5,392.0 468.5,388.0 C468.4,384.0 466.6,382.6 468.3,378.0 C470.0,373.4 477.3,367.8 478.7,360.6 C480.1,353.4 476.1,343.5 476.5,335.0 C477.0,326.4 480.5,313.6 481.3,309.4" fill="none" stroke="#4c9d4f" stroke-width="6.199999999999999" stroke-linecap="round"/>
<path d="M468.6,402.0 C468.6,399.7 468.5,392.0 468.5,388.0 C468.4,384.0 466.6,382.6 468.3,378.0 C470.0,373.4 477.3,367.8 478.7,360.6 C480.1,353.4 476.1,343.5 476.5,335.0 C477.0,326.4 480.5,313.6 481.3,309.4" fill="none" stroke="#78c676" stroke-width="4.3" stroke-linecap="round" opacity="0.9"/>
<path d="M180.1,402.0 C180.3,399.7 180.9,392.0 181.3,388.0 C181.6,384.0 183.1,382.4 182.4,378.0 C181.8,373.6 177.1,368.7 177.3,361.6 C177.6,354.6 182.1,344.4 184.0,335.7 C185.9,327.1 187.9,314.2 188.7,309.8" fill="none" stroke="#4c9d4f" stroke-width="6.199999999999999" stroke-linecap="round"/>
<path d="M180.1,402.0 C180.3,399.7 180.9,392.0 181.3,388.0 C181.6,384.0 183.1,382.4 182.4,378.0 C181.8,373.6 177.1,368.7 177.3,361.6 C177.6,354.6 182.1,344.4 184.0,335.7 C185.9,327.1 187.9,314.2 188.7,309.8" fill="none" stroke="#78c676" stroke-width="4.3" stroke-linecap="round" opacity="0.9"/>
<path d="M279.0,402.0 C279.0,399.7 279.2,392.0 279.4,388.0 C279.5,384.0 280.7,382.8 279.8,378.0 C278.8,373.2 275.0,365.5 273.7,359.1 C272.4,352.8 271.8,346.2 271.8,339.8 C271.9,333.3 273.7,323.6 274.0,320.4" fill="none" stroke="#4c9d4f" stroke-width="6.199999999999999" stroke-linecap="round"/>
<path d="M279.0,402.0 C279.0,399.7 279.2,392.0 279.4,388.0 C279.5,384.0 280.7,382.8 279.8,378.0 C278.8,373.2 275.0,365.5 273.7,359.1 C272.4,352.8 271.8,346.2 271.8,339.8 C271.9,333.3 273.7,323.6 274.0,320.4" fill="none" stroke="#78c676" stroke-width="4.3" stroke-linecap="round" opacity="0.9"/>
<path d="M240.9,402.0 C240.9,399.7 240.9,392.0 240.9,388.0 C240.9,384.0 240.6,383.3 240.9,378.0 C241.2,372.7 242.7,363.4 242.4,356.1 C242.2,348.9 240.0,341.8 239.4,334.6 C238.8,327.4 238.9,316.6 238.8,313.1" fill="none" stroke="#4c9d4f" stroke-width="6.199999999999999" stroke-linecap="round"/>
<path d="M240.9,402.0 C240.9,399.7 240.9,392.0 240.9,388.0 C240.9,384.0 240.6,383.3 240.9,378.0 C241.2,372.7 242.7,363.4 242.4,356.1 C242.2,348.9 240.0,341.8 239.4,334.6 C238.8,327.4 238.9,316.6 238.8,313.1" fill="none" stroke="#78c676" stroke-width="4.3" stroke-linecap="round" opacity="0.9"/>
<path d="M193.8,402.0 C193.6,399.7 193.1,392.0 192.7,388.0 C192.4,384.0 191.6,383.9 191.6,378.0 C191.6,372.1 192.0,359.2 192.7,352.3 C193.4,345.4 194.0,341.7 195.8,336.3 C197.5,331.0 201.9,323.0 203.1,320.4" fill="none" stroke="#4c9d4f" stroke-width="6.199999999999999" stroke-linecap="round"/>
<path d="M193.8,402.0 C193.6,399.7 193.1,392.0 192.7,388.0 C192.4,384.0 191.6,383.9 191.6,378.0 C191.6,372.1 192.0,359.2 192.7,352.3 C193.4,345.4 194.0,341.7 195.8,336.3 C197.5,331.0 201.9,323.0 203.1,320.4" fill="none" stroke="#78c676" stroke-width="4.3" stroke-linecap="round" opacity="0.9"/>
<path d="M366.0,402.0 C366.1,399.7 366.4,392.0 366.6,388.0 C366.8,384.0 366.8,383.0 367.1,378.0 C367.5,373.0 368.9,363.8 368.7,358.2 C368.5,352.6 366.7,349.0 366.1,344.4 C365.5,339.8 365.4,332.9 365.2,330.6" fill="none" stroke="#4c9d4f" stroke-width="6.199999999999999" stroke-linecap="round"/>
<path d="M366.0,402.0 C366.1,399.7 366.4,392.0 366.6,388.0 C366.8,384.0 366.8,383.0 367.1,378.0 C367.5,373.0 368.9,363.8 368.7,358.2 C368.5,352.6 366.7,349.0 366.1,344.4 C365.5,339.8 365.4,332.9 365.2,330.6" fill="none" stroke="#78c676" stroke-width="4.3" stroke-linecap="round" opacity="0.9"/>
</g>
<g clip-path="url(#lin)">
<path d="M310.1,402.0 C310.0,399.7 309.6,392.0 309.3,388.0 C309.1,384.0 308.5,382.4 308.5,378.0 C308.6,373.6 309.9,367.7 309.6,361.3 C309.4,355.0 306.3,347.0 307.2,339.8 C308.1,332.7 313.6,321.9 314.9,318.4" fill="none" stroke="#2a8b92" stroke-width="6.199999999999999" stroke-linecap="round"/>
<path d="M310.1,402.0 C310.0,399.7 309.6,392.0 309.3,388.0 C309.1,384.0 308.5,382.4 308.5,378.0 C308.6,373.6 309.9,367.7 309.6,361.3 C309.4,355.0 306.3,347.0 307.2,339.8 C308.1,332.7 313.6,321.9 314.9,318.4" fill="none" stroke="#3aa8a4" stroke-width="4.3" stroke-linecap="round" opacity="0.9"/>
<path d="M279.0,402.0 C279.0,399.7 279.2,392.0 279.4,388.0 C279.5,384.0 278.1,383.7 279.8,378.0 C281.5,372.3 288.0,360.4 289.6,354.0 C291.2,347.6 288.6,344.2 289.3,339.4 C290.0,334.5 293.0,327.2 293.8,324.7" fill="none" stroke="#2a8b92" stroke-width="6.199999999999999" stroke-linecap="round"/>
<path d="M279.0,402.0 C279.0,399.7 279.2,392.0 279.4,388.0 C279.5,384.0 278.1,383.7 279.8,378.0 C281.5,372.3 288.0,360.4 289.6,354.0 C291.2,347.6 288.6,344.2 289.3,339.4 C290.0,334.5 293.0,327.2 293.8,324.7" fill="none" stroke="#3aa8a4" stroke-width="4.3" stroke-linecap="round" opacity="0.9"/>
<path d="M291.9,402.0 C292.0,399.7 292.5,392.0 292.9,388.0 C293.2,384.0 294.8,383.1 293.9,378.0 C293.1,372.9 287.6,364.1 287.8,357.5 C287.9,350.9 294.1,344.9 294.7,338.7 C295.4,332.4 292.3,323.0 291.8,319.8" fill="none" stroke="#2a8b92" stroke-width="6.199999999999999" stroke-linecap="round"/>
<path d="M291.9,402.0 C292.0,399.7 292.5,392.0 292.9,388.0 C293.2,384.0 294.8,383.1 293.9,378.0 C293.1,372.9 287.6,364.1 287.8,357.5 C287.9,350.9 294.1,344.9 294.7,338.7 C295.4,332.4 292.3,323.0 291.8,319.8" fill="none" stroke="#3aa8a4" stroke-width="4.3" stroke-linecap="round" opacity="0.9"/>
<path d="M291.9,402.0 C292.0,399.7 292.5,392.0 292.9,388.0 C293.2,384.0 292.4,383.5 293.9,378.0 C295.5,372.5 300.8,361.6 302.0,355.3 C303.2,348.9 301.2,345.1 301.1,340.0 C301.1,334.9 301.8,327.2 301.9,324.7" fill="none" stroke="#2a8b92" stroke-width="6.199999999999999" stroke-linecap="round"/>
<path d="M291.9,402.0 C292.0,399.7 292.5,392.0 292.9,388.0 C293.2,384.0 292.4,383.5 293.9,378.0 C295.5,372.5 300.8,361.6 302.0,355.3 C303.2,348.9 301.2,345.1 301.1,340.0 C301.1,334.9 301.8,327.2 301.9,324.7" fill="none" stroke="#3aa8a4" stroke-width="4.3" stroke-linecap="round" opacity="0.9"/>
<path d="M240.9,402.0 C240.9,399.7 240.9,392.0 240.9,388.0 C240.9,384.0 239.6,382.4 240.9,378.0 C242.2,373.6 248.5,367.7 248.9,361.8 C249.2,356.0 243.0,349.2 243.0,342.9 C243.1,336.6 248.2,327.2 249.3,324.0" fill="none" stroke="#2a8b92" stroke-width="6.199999999999999" stroke-linecap="round"/>
<path d="M240.9,402.0 C240.9,399.7 240.9,392.0 240.9,388.0 C240.9,384.0 239.6,382.4 240.9,378.0 C242.2,373.6 248.5,367.7 248.9,361.8 C249.2,356.0 243.0,349.2 243.0,342.9 C243.1,336.6 248.2,327.2 249.3,324.0" fill="none" stroke="#3aa8a4" stroke-width="4.3" stroke-linecap="round" opacity="0.9"/>
<path d="M402.8,402.0 C403.0,399.7 403.5,392.0 403.8,388.0 C404.1,384.0 404.3,382.5 404.8,378.0 C405.2,373.5 406.1,367.9 406.4,361.1 C406.7,354.4 406.7,345.5 406.5,337.7 C406.2,329.8 405.2,318.1 405.0,314.2" fill="none" stroke="#2a8b92" stroke-width="6.199999999999999" stroke-linecap="round"/>
<path d="M402.8,402.0 C403.0,399.7 403.5,392.0 403.8,388.0 C404.1,384.0 404.3,382.5 404.8,378.0 C405.2,373.5 406.1,367.9 406.4,361.1 C406.7,354.4 406.7,345.5 406.5,337.7 C406.2,329.8 405.2,318.1 405.0,314.2" fill="none" stroke="#3aa8a4" stroke-width="4.3" stroke-linecap="round" opacity="0.9"/>
<path d="M180.1,402.0 C180.3,399.7 180.9,392.0 181.3,388.0 C181.6,384.0 180.7,383.8 182.4,378.0 C184.1,372.2 190.3,359.2 191.4,353.4 C192.4,347.6 188.7,346.4 188.8,343.0 C189.0,339.5 191.7,334.3 192.2,332.5" fill="none" stroke="#2a8b92" stroke-width="6.199999999999999" stroke-linecap="round"/>
<path d="M180.1,402.0 C180.3,399.7 180.9,392.0 181.3,388.0 C181.6,384.0 180.7,383.8 182.4,378.0 C184.1,372.2 190.3,359.2 191.4,353.4 C192.4,347.6 188.7,346.4 188.8,343.0 C189.0,339.5 191.7,334.3 192.2,332.5" fill="none" stroke="#3aa8a4" stroke-width="4.3" stroke-linecap="round" opacity="0.9"/>
<path d="M310.1,402.0 C310.0,399.7 309.6,392.0 309.3,388.0 C309.1,384.0 310.2,383.9 308.5,378.0 C306.9,372.1 300.8,359.7 299.2,352.4 C297.6,345.0 298.6,340.0 299.0,333.8 C299.4,327.6 301.2,318.4 301.6,315.3" fill="none" stroke="#2a8b92" stroke-width="6.199999999999999" stroke-linecap="round"/>
<path d="M310.1,402.0 C310.0,399.7 309.6,392.0 309.3,388.0 C309.1,384.0 310.2,383.9 308.5,378.0 C306.9,372.1 300.8,359.7 299.2,352.4 C297.6,345.0 298.6,340.0 299.0,333.8 C299.4,327.6 301.2,318.4 301.6,315.3" fill="none" stroke="#3aa8a4" stroke-width="4.3" stroke-linecap="round" opacity="0.9"/>
<path d="M347.9,402.0 C347.9,399.7 347.6,392.0 347.4,388.0 C347.2,384.0 345.2,382.6 346.8,378.0 C348.4,373.4 355.4,367.0 356.9,360.5 C358.4,354.1 356.2,346.4 355.9,339.3 C355.6,332.3 355.3,321.7 355.2,318.1" fill="none" stroke="#2a8b92" stroke-width="6.199999999999999" stroke-linecap="round"/>
<path d="M347.9,402.0 C347.9,399.7 347.6,392.0 347.4,388.0 C347.2,384.0 345.2,382.6 346.8,378.0 C348.4,373.4 355.4,367.0 356.9,360.5 C358.4,354.1 356.2,346.4 355.9,339.3 C355.6,332.3 355.3,321.7 355.2,318.1" fill="none" stroke="#3aa8a4" stroke-width="4.3" stroke-linecap="round" opacity="0.9"/>
<path d="M240.9,402.0 C240.9,399.7 240.9,392.0 240.9,388.0 C240.9,384.0 242.6,383.5 240.9,378.0 C239.2,372.5 231.3,360.8 230.8,354.8 C230.3,348.8 235.5,346.2 238.0,341.9 C240.4,337.6 244.2,331.2 245.4,329.1" fill="none" stroke="#2a8b92" stroke-width="6.199999999999999" stroke-linecap="round"/>
<path d="M240.9,402.0 C240.9,399.7 240.9,392.0 240.9,388.0 C240.9,384.0 242.6,383.5 240.9,378.0 C239.2,372.5 231.3,360.8 230.8,354.8 C230.3,348.8 235.5,346.2 238.0,341.9 C240.4,337.6 244.2,331.2 245.4,329.1" fill="none" stroke="#3aa8a4" stroke-width="4.3" stroke-linecap="round" opacity="0.9"/>
<path d="M57.8,402.0 C57.7,399.7 57.2,392.0 56.9,388.0 C56.5,384.0 55.7,382.4 55.9,378.0 C56.1,373.6 57.4,368.7 57.9,361.8 C58.4,354.9 59.1,344.9 58.8,336.5 C58.6,328.1 56.7,315.4 56.3,311.2" fill="none" stroke="#2a8b92" stroke-width="6.199999999999999" stroke-linecap="round"/>
<path d="M57.8,402.0 C57.7,399.7 57.2,392.0 56.9,388.0 C56.5,384.0 55.7,382.4 55.9,378.0 C56.1,373.6 57.4,368.7 57.9,361.8 C58.4,354.9 59.1,344.9 58.8,336.5 C58.6,328.1 56.7,315.4 56.3,311.2" fill="none" stroke="#3aa8a4" stroke-width="4.3" stroke-linecap="round" opacity="0.9"/>
<path d="M382.0,402.0 C381.8,399.7 381.3,392.0 381.0,388.0 C380.6,384.0 379.8,382.8 379.9,378.0 C380.1,373.2 380.9,365.5 381.6,359.2 C382.4,352.9 383.2,346.4 384.3,340.1 C385.4,333.7 387.5,324.2 388.2,321.0" fill="none" stroke="#2a8b92" stroke-width="6.199999999999999" stroke-linecap="round"/>
<path d="M382.0,402.0 C381.8,399.7 381.3,392.0 381.0,388.0 C380.6,384.0 379.8,382.8 379.9,378.0 C380.1,373.2 380.9,365.5 381.6,359.2 C382.4,352.9 383.2,346.4 384.3,340.1 C385.4,333.7 387.5,324.2 388.2,321.0" fill="none" stroke="#3aa8a4" stroke-width="4.3" stroke-linecap="round" opacity="0.9"/>
<path d="M227.0,402.0 C227.2,399.7 227.8,392.0 228.2,388.0 C228.6,384.0 229.0,382.7 229.4,378.0 C229.8,373.3 230.3,366.1 230.5,359.5 C230.8,353.0 230.5,345.6 231.1,338.7 C231.6,331.7 233.3,321.3 233.8,317.8" fill="none" stroke="#2a8b92" stroke-width="6.199999999999999" stroke-linecap="round"/>
<path d="M227.0,402.0 C227.2,399.7 227.8,392.0 228.2,388.0 C228.6,384.0 229.0,382.7 229.4,378.0 C229.8,373.3 230.3,366.1 230.5,359.5 C230.8,353.0 230.5,345.6 231.1,338.7 C231.6,331.7 233.3,321.3 233.8,317.8" fill="none" stroke="#3aa8a4" stroke-width="4.3" stroke-linecap="round" opacity="0.9"/>
<path d="M329.9,402.0 C330.0,399.7 330.2,392.0 330.4,388.0 C330.6,384.0 329.6,382.9 331.0,378.0 C332.4,373.1 337.4,364.9 338.6,358.9 C339.9,352.9 338.1,347.7 338.6,342.1 C339.2,336.5 341.4,328.1 342.0,325.3" fill="none" stroke="#2a8b92" stroke-width="6.199999999999999" stroke-linecap="round"/>
<path d="M329.9,402.0 C330.0,399.7 330.2,392.0 330.4,388.0 C330.6,384.0 329.6,382.9 331.0,378.0 C332.4,373.1 337.4,364.9 338.6,358.9 C339.9,352.9 338.1,347.7 338.6,342.1 C339.2,336.5 341.4,328.1 342.0,325.3" fill="none" stroke="#3aa8a4" stroke-width="4.3" stroke-linecap="round" opacity="0.9"/>
<path d="M451.0,402.0 C450.9,399.7 450.4,392.0 450.1,388.0 C449.8,384.0 448.3,383.8 449.1,378.0 C450.0,372.2 454.2,359.6 455.0,353.0 C455.7,346.3 454.4,342.9 453.9,337.9 C453.3,332.9 452.1,325.4 451.7,322.9" fill="none" stroke="#2a8b92" stroke-width="6.199999999999999" stroke-linecap="round"/>
<path d="M451.0,402.0 C450.9,399.7 450.4,392.0 450.1,388.0 C449.8,384.0 448.3,383.8 449.1,378.0 C450.0,372.2 454.2,359.6 455.0,353.0 C455.7,346.3 454.4,342.9 453.9,337.9 C453.3,332.9 452.1,325.4 451.7,322.9" fill="none" stroke="#3aa8a4" stroke-width="4.3" stroke-linecap="round" opacity="0.9"/>
<path d="M451.0,402.0 C450.9,399.7 450.4,392.0 450.1,388.0 C449.8,384.0 450.6,383.4 449.1,378.0 C447.7,372.6 442.5,362.6 441.6,355.7 C440.7,348.9 443.6,343.3 443.9,337.1 C444.2,330.8 443.3,321.5 443.2,318.4" fill="none" stroke="#2a8b92" stroke-width="6.199999999999999" stroke-linecap="round"/>
<path d="M451.0,402.0 C450.9,399.7 450.4,392.0 450.1,388.0 C449.8,384.0 450.6,383.4 449.1,378.0 C447.7,372.6 442.5,362.6 441.6,355.7 C440.7,348.9 443.6,343.3 443.9,337.1 C444.2,330.8 443.3,321.5 443.2,318.4" fill="none" stroke="#3aa8a4" stroke-width="4.3" stroke-linecap="round" opacity="0.9"/>
<path d="M208.3,402.0 C208.4,399.7 208.5,392.0 208.7,388.0 C208.8,384.0 208.6,382.6 209.0,378.0 C209.3,373.4 210.6,366.8 210.9,360.4 C211.2,353.9 210.4,346.4 210.7,339.4 C211.0,332.3 212.3,321.8 212.6,318.3" fill="none" stroke="#2a8b92" stroke-width="6.199999999999999" stroke-linecap="round"/>
<path d="M208.3,402.0 C208.4,399.7 208.5,392.0 208.7,388.0 C208.8,384.0 208.6,382.6 209.0,378.0 C209.3,373.4 210.6,366.8 210.9,360.4 C211.2,353.9 210.4,346.4 210.7,339.4 C211.0,332.3 212.3,321.8 212.6,318.3" fill="none" stroke="#3aa8a4" stroke-width="4.3" stroke-linecap="round" opacity="0.9"/>
<path d="M143.6,402.0 C143.5,399.7 143.0,392.0 142.7,388.0 C142.3,384.0 143.6,382.5 141.7,378.0 C139.8,373.5 132.5,366.5 131.1,360.8 C129.7,355.1 131.7,349.5 133.4,343.8 C135.0,338.1 139.6,329.6 140.8,326.7" fill="none" stroke="#2a8b92" stroke-width="6.199999999999999" stroke-linecap="round"/>
<path d="M143.6,402.0 C143.5,399.7 143.0,392.0 142.7,388.0 C142.3,384.0 143.6,382.5 141.7,378.0 C139.8,373.5 132.5,366.5 131.1,360.8 C129.7,355.1 131.7,349.5 133.4,343.8 C135.0,338.1 139.6,329.6 140.8,326.7" fill="none" stroke="#3aa8a4" stroke-width="4.3" stroke-linecap="round" opacity="0.9"/>
<path d="M418.2,402.0 C418.4,399.7 419.0,392.0 419.4,388.0 C419.8,384.0 420.2,382.4 420.5,378.0 C420.9,373.6 421.7,368.3 421.7,361.4 C421.6,354.5 420.0,345.0 420.0,336.8 C420.0,328.6 421.5,316.3 421.8,312.2" fill="none" stroke="#2a8b92" stroke-width="6.199999999999999" stroke-linecap="round"/>
<path d="M418.2,402.0 C418.4,399.7 419.0,392.0 419.4,388.0 C419.8,384.0 420.2,382.4 420.5,378.0 C420.9,373.6 421.7,368.3 421.7,361.4 C421.6,354.5 420.0,345.0 420.0,336.8 C420.0,328.6 421.5,316.3 421.8,312.2" fill="none" stroke="#3aa8a4" stroke-width="4.3" stroke-linecap="round" opacity="0.9"/>
<path d="M468.6,402.0 C468.6,399.7 468.5,392.0 468.5,388.0 C468.4,384.0 469.6,383.1 468.3,378.0 C467.1,372.9 462.0,363.1 460.9,357.1 C459.8,351.1 461.7,347.0 461.6,341.9 C461.5,336.9 460.6,329.3 460.4,326.7" fill="none" stroke="#2a8b92" stroke-width="6.199999999999999" stroke-linecap="round"/>
<path d="M468.6,402.0 C468.6,399.7 468.5,392.0 468.5,388.0 C468.4,384.0 469.6,383.1 468.3,378.0 C467.1,372.9 462.0,363.1 460.9,357.1 C459.8,351.1 461.7,347.0 461.6,341.9 C461.5,336.9 460.6,329.3 460.4,326.7" fill="none" stroke="#3aa8a4" stroke-width="4.3" stroke-linecap="round" opacity="0.9"/>
<path d="M57.8,402.0 C57.7,399.7 57.2,392.0 56.9,388.0 C56.5,384.0 57.6,384.0 55.9,378.0 C54.3,372.0 47.5,358.1 47.0,352.2 C46.4,346.2 51.9,345.5 52.6,342.2 C53.3,338.8 51.6,333.8 51.3,332.2" fill="none" stroke="#2a8b92" stroke-width="6.199999999999999" stroke-linecap="round"/>
<path d="M57.8,402.0 C57.7,399.7 57.2,392.0 56.9,388.0 C56.5,384.0 57.6,384.0 55.9,378.0 C54.3,372.0 47.5,358.1 47.0,352.2 C46.4,346.2 51.9,345.5 52.6,342.2 C53.3,338.8 51.6,333.8 51.3,332.2" fill="none" stroke="#3aa8a4" stroke-width="4.3" stroke-linecap="round" opacity="0.9"/>
<path d="M418.2,402.0 C418.4,399.7 419.0,392.0 419.4,388.0 C419.8,384.0 418.7,382.5 420.5,378.0 C422.4,373.5 429.9,367.7 430.2,360.9 C430.5,354.1 424.0,345.2 422.3,337.3 C420.7,329.4 420.7,317.6 420.4,313.7" fill="none" stroke="#2a8b92" stroke-width="6.199999999999999" stroke-linecap="round"/>
<path d="M418.2,402.0 C418.4,399.7 419.0,392.0 419.4,388.0 C419.8,384.0 418.7,382.5 420.5,378.0 C422.4,373.5 429.9,367.7 430.2,360.9 C430.5,354.1 424.0,345.2 422.3,337.3 C420.7,329.4 420.7,317.6 420.4,313.7" fill="none" stroke="#3aa8a4" stroke-width="4.3" stroke-linecap="round" opacity="0.9"/>
<path d="M92.2,402.0 C91.9,399.7 91.2,392.0 90.8,388.0 C90.3,384.0 88.6,383.9 89.4,378.0 C90.1,372.1 95.2,359.4 95.0,352.7 C94.8,345.9 89.3,342.6 88.3,337.6 C87.2,332.6 88.4,325.0 88.5,322.5" fill="none" stroke="#2a8b92" stroke-width="6.199999999999999" stroke-linecap="round"/>
<path d="M92.2,402.0 C91.9,399.7 91.2,392.0 90.8,388.0 C90.3,384.0 88.6,383.9 89.4,378.0 C90.1,372.1 95.2,359.4 95.0,352.7 C94.8,345.9 89.3,342.6 88.3,337.6 C87.2,332.6 88.4,325.0 88.5,322.5" fill="none" stroke="#3aa8a4" stroke-width="4.3" stroke-linecap="round" opacity="0.9"/>
<path d="M161.9,402.0 C161.9,399.7 161.9,392.0 161.9,388.0 C162.0,384.0 161.8,382.8 162.0,378.0 C162.2,373.2 163.5,365.6 163.1,359.5 C162.7,353.4 159.1,347.6 159.7,341.6 C160.3,335.7 165.6,326.8 166.7,323.8" fill="none" stroke="#2a8b92" stroke-width="6.199999999999999" stroke-linecap="round"/>
<path d="M161.9,402.0 C161.9,399.7 161.9,392.0 161.9,388.0 C162.0,384.0 161.8,382.8 162.0,378.0 C162.2,373.2 163.5,365.6 163.1,359.5 C162.7,353.4 159.1,347.6 159.7,341.6 C160.3,335.7 165.6,326.8 166.7,323.8" fill="none" stroke="#3aa8a4" stroke-width="4.3" stroke-linecap="round" opacity="0.9"/>
<path d="M129.5,402.0 C129.3,399.7 128.9,392.0 128.6,388.0 C128.3,384.0 128.6,383.4 127.6,378.0 C126.6,372.6 122.8,362.6 122.6,355.9 C122.3,349.1 124.6,343.8 126.2,337.7 C127.8,331.7 131.3,322.6 132.3,319.6" fill="none" stroke="#2a8b92" stroke-width="6.199999999999999" stroke-linecap="round"/>
<path d="M129.5,402.0 C129.3,399.7 128.9,392.0 128.6,388.0 C128.3,384.0 128.6,383.4 127.6,378.0 C126.6,372.6 122.8,362.6 122.6,355.9 C122.3,349.1 124.6,343.8 126.2,337.7 C127.8,331.7 131.3,322.6 132.3,319.6" fill="none" stroke="#3aa8a4" stroke-width="4.3" stroke-linecap="round" opacity="0.9"/>
<path d="M227.0,402.0 C227.2,399.7 227.8,392.0 228.2,388.0 C228.6,384.0 227.4,383.3 229.4,378.0 C231.3,372.7 239.1,362.9 239.9,356.0 C240.8,349.2 235.6,343.1 234.6,336.6 C233.7,330.2 234.4,320.5 234.3,317.2" fill="none" stroke="#2a8b92" stroke-width="6.199999999999999" stroke-linecap="round"/>
<path d="M227.0,402.0 C227.2,399.7 227.8,392.0 228.2,388.0 C228.6,384.0 227.4,383.3 229.4,378.0 C231.3,372.7 239.1,362.9 239.9,356.0 C240.8,349.2 235.6,343.1 234.6,336.6 C233.7,330.2 234.4,320.5 234.3,317.2" fill="none" stroke="#3aa8a4" stroke-width="4.3" stroke-linecap="round" opacity="0.9"/>
<path d="M257.2,402.0 C257.2,399.7 257.5,392.0 257.7,388.0 C257.9,384.0 259.2,382.7 258.2,378.0 C257.3,373.3 252.1,366.2 252.1,359.8 C252.0,353.3 256.9,346.1 257.8,339.3 C258.8,332.4 257.8,322.1 257.8,318.7" fill="none" stroke="#2a8b92" stroke-width="6.199999999999999" stroke-linecap="round"/>
<path d="M257.2,402.0 C257.2,399.7 257.5,392.0 257.7,388.0 C257.9,384.0 259.2,382.7 258.2,378.0 C257.3,373.3 252.1,366.2 252.1,359.8 C252.0,353.3 256.9,346.1 257.8,339.3 C258.8,332.4 257.8,322.1 257.8,318.7" fill="none" stroke="#3aa8a4" stroke-width="4.3" stroke-linecap="round" opacity="0.9"/>
<path d="M436.8,402.0 C436.6,399.7 436.0,392.0 435.6,388.0 C435.2,384.0 435.8,382.7 434.4,378.0 C433.0,373.3 427.1,366.0 427.3,360.0 C427.6,354.1 433.4,348.1 435.8,342.1 C438.3,336.2 441.0,327.2 442.0,324.2" fill="none" stroke="#2a8b92" stroke-width="6.199999999999999" stroke-linecap="round"/>
<path d="M436.8,402.0 C436.6,399.7 436.0,392.0 435.6,388.0 C435.2,384.0 435.8,382.7 434.4,378.0 C433.0,373.3 427.1,366.0 427.3,360.0 C427.6,354.1 433.4,348.1 435.8,342.1 C438.3,336.2 441.0,327.2 442.0,324.2" fill="none" stroke="#3aa8a4" stroke-width="4.3" stroke-linecap="round" opacity="0.9"/>
<path d="M110.9,402.0 C111.0,399.7 111.4,392.0 111.7,388.0 C111.9,384.0 113.7,382.8 112.4,378.0 C111.2,373.2 104.9,366.3 104.1,359.3 C103.3,352.4 107.3,344.0 107.7,336.3 C108.2,328.6 107.0,317.1 106.8,313.3" fill="none" stroke="#2a8b92" stroke-width="6.199999999999999" stroke-linecap="round"/>
<path d="M110.9,402.0 C111.0,399.7 111.4,392.0 111.7,388.0 C111.9,384.0 113.7,382.8 112.4,378.0 C111.2,373.2 104.9,366.3 104.1,359.3 C103.3,352.4 107.3,344.0 107.7,336.3 C108.2,328.6 107.0,317.1 106.8,313.3" fill="none" stroke="#3aa8a4" stroke-width="4.3" stroke-linecap="round" opacity="0.9"/>
<path d="M291.9,402.0 C292.0,399.7 292.5,392.0 292.9,388.0 C293.2,384.0 293.6,383.4 293.9,378.0 C294.3,372.6 295.3,362.1 295.2,355.9 C295.2,349.7 292.8,345.9 293.7,340.8 C294.6,335.8 299.4,328.3 300.5,325.8" fill="none" stroke="#2a8b92" stroke-width="6.199999999999999" stroke-linecap="round"/>
<path d="M291.9,402.0 C292.0,399.7 292.5,392.0 292.9,388.0 C293.2,384.0 293.6,383.4 293.9,378.0 C294.3,372.6 295.3,362.1 295.2,355.9 C295.2,349.7 292.8,345.9 293.7,340.8 C294.6,335.8 299.4,328.3 300.5,325.8" fill="none" stroke="#3aa8a4" stroke-width="4.3" stroke-linecap="round" opacity="0.9"/>
<path d="M382.0,402.0 C381.8,399.7 381.3,392.0 381.0,388.0 C380.6,384.0 381.2,383.2 379.9,378.0 C378.7,372.8 373.4,364.5 373.2,357.0 C373.1,349.5 378.0,341.1 378.8,333.1 C379.7,325.2 378.6,313.3 378.5,309.3" fill="none" stroke="#2a8b92" stroke-width="6.199999999999999" stroke-linecap="round"/>
<path d="M382.0,402.0 C381.8,399.7 381.3,392.0 381.0,388.0 C380.6,384.0 381.2,383.2 379.9,378.0 C378.7,372.8 373.4,364.5 373.2,357.0 C373.1,349.5 378.0,341.1 378.8,333.1 C379.7,325.2 378.6,313.3 378.5,309.3" fill="none" stroke="#3aa8a4" stroke-width="4.3" stroke-linecap="round" opacity="0.9"/>
<path d="M143.6,402.0 C143.5,399.7 143.0,392.0 142.7,388.0 C142.3,384.0 140.1,383.7 141.7,378.0 C143.3,372.3 150.8,361.3 152.2,353.9 C153.6,346.4 150.5,340.2 150.1,333.3 C149.7,326.4 149.9,316.1 149.9,312.7" fill="none" stroke="#2a8b92" stroke-width="6.199999999999999" stroke-linecap="round"/>
<path d="M143.6,402.0 C143.5,399.7 143.0,392.0 142.7,388.0 C142.3,384.0 140.1,383.7 141.7,378.0 C143.3,372.3 150.8,361.3 152.2,353.9 C153.6,346.4 150.5,340.2 150.1,333.3 C149.7,326.4 149.9,316.1 149.9,312.7" fill="none" stroke="#3aa8a4" stroke-width="4.3" stroke-linecap="round" opacity="0.9"/>
<path d="M73.4,402.0 C73.5,399.7 73.9,392.0 74.2,388.0 C74.5,384.0 76.3,383.5 75.0,378.0 C73.7,372.5 67.7,362.0 66.5,354.9 C65.3,347.9 67.6,342.2 67.7,335.9 C67.8,329.5 67.3,320.0 67.3,316.8" fill="none" stroke="#2a8b92" stroke-width="6.199999999999999" stroke-linecap="round"/>
<path d="M73.4,402.0 C73.5,399.7 73.9,392.0 74.2,388.0 C74.5,384.0 76.3,383.5 75.0,378.0 C73.7,372.5 67.7,362.0 66.5,354.9 C65.3,347.9 67.6,342.2 67.7,335.9 C67.8,329.5 67.3,320.0 67.3,316.8" fill="none" stroke="#3aa8a4" stroke-width="4.3" stroke-linecap="round" opacity="0.9"/>
<path d="M193.8,402.0 C193.6,399.7 193.1,392.0 192.7,388.0 C192.4,384.0 193.1,382.4 191.6,378.0 C190.2,373.6 184.8,368.4 183.9,361.4 C183.1,354.4 186.4,344.5 186.5,336.1 C186.5,327.6 184.4,315.0 183.9,310.7" fill="none" stroke="#2a8b92" stroke-width="6.199999999999999" stroke-linecap="round"/>
<path d="M193.8,402.0 C193.6,399.7 193.1,392.0 192.7,388.0 C192.4,384.0 193.1,382.4 191.6,378.0 C190.2,373.6 184.8,368.4 183.9,361.4 C183.1,354.4 186.4,344.5 186.5,336.1 C186.5,327.6 184.4,315.0 183.9,310.7" fill="none" stroke="#3aa8a4" stroke-width="4.3" stroke-linecap="round" opacity="0.9"/>
<path d="M57.8,402.0 C57.7,399.7 57.2,392.0 56.9,388.0 C56.5,384.0 54.6,383.5 55.9,378.0 C57.2,372.5 63.5,361.7 64.7,355.0 C65.9,348.4 63.8,343.8 63.2,338.2 C62.7,332.5 61.6,324.1 61.3,321.3" fill="none" stroke="#2a8b92" stroke-width="6.199999999999999" stroke-linecap="round"/>
<path d="M57.8,402.0 C57.7,399.7 57.2,392.0 56.9,388.0 C56.5,384.0 54.6,383.5 55.9,378.0 C57.2,372.5 63.5,361.7 64.7,355.0 C65.9,348.4 63.8,343.8 63.2,338.2 C62.7,332.5 61.6,324.1 61.3,321.3" fill="none" stroke="#3aa8a4" stroke-width="4.3" stroke-linecap="round" opacity="0.9"/>
<path d="M92.2,402.0 C91.9,399.7 91.2,392.0 90.8,388.0 C90.3,384.0 91.1,383.9 89.4,378.0 C87.6,372.1 81.5,360.4 80.2,352.5 C79.0,344.7 80.5,338.2 81.9,331.0 C83.4,323.8 87.9,313.0 89.1,309.4" fill="none" stroke="#2a8b92" stroke-width="6.199999999999999" stroke-linecap="round"/>
<path d="M92.2,402.0 C91.9,399.7 91.2,392.0 90.8,388.0 C90.3,384.0 91.1,383.9 89.4,378.0 C87.6,372.1 81.5,360.4 80.2,352.5 C79.0,344.7 80.5,338.2 81.9,331.0 C83.4,323.8 87.9,313.0 89.1,309.4" fill="none" stroke="#3aa8a4" stroke-width="4.3" stroke-linecap="round" opacity="0.9"/>
<path d="M227.0,402.0 C227.2,399.7 227.8,392.0 228.2,388.0 C228.6,384.0 230.6,383.7 229.4,378.0 C228.1,372.3 220.8,361.3 220.6,354.0 C220.3,346.8 225.9,341.0 228.0,334.5 C230.1,328.0 232.4,318.3 233.3,315.0" fill="none" stroke="#2a8b92" stroke-width="6.199999999999999" stroke-linecap="round"/>
<path d="M227.0,402.0 C227.2,399.7 227.8,392.0 228.2,388.0 C228.6,384.0 230.6,383.7 229.4,378.0 C228.1,372.3 220.8,361.3 220.6,354.0 C220.3,346.8 225.9,341.0 228.0,334.5 C230.1,328.0 232.4,318.3 233.3,315.0" fill="none" stroke="#3aa8a4" stroke-width="4.3" stroke-linecap="round" opacity="0.9"/>
<path d="M161.9,402.0 C161.9,399.7 161.9,392.0 161.9,388.0 C162.0,384.0 163.2,383.5 162.0,378.0 C160.8,372.5 155.6,362.4 154.5,354.8 C153.5,347.3 156.0,340.1 155.8,332.7 C155.5,325.4 153.7,314.3 153.3,310.7" fill="none" stroke="#2a8b92" stroke-width="6.199999999999999" stroke-linecap="round"/>
<path d="M161.9,402.0 C161.9,399.7 161.9,392.0 161.9,388.0 C162.0,384.0 163.2,383.5 162.0,378.0 C160.8,372.5 155.6,362.4 154.5,354.8 C153.5,347.3 156.0,340.1 155.8,332.7 C155.5,325.4 153.7,314.3 153.3,310.7" fill="none" stroke="#3aa8a4" stroke-width="4.3" stroke-linecap="round" opacity="0.9"/>
<path d="M436.8,402.0 C436.6,399.7 436.0,392.0 435.6,388.0 C435.2,384.0 433.4,382.8 434.4,378.0 C435.4,373.2 440.4,365.2 441.5,359.0 C442.7,352.9 441.1,346.9 441.2,340.9 C441.3,334.8 442.0,325.7 442.1,322.7" fill="none" stroke="#2a8b92" stroke-width="6.199999999999999" stroke-linecap="round"/>
<path d="M436.8,402.0 C436.6,399.7 436.0,392.0 435.6,388.0 C435.2,384.0 433.4,382.8 434.4,378.0 C435.4,373.2 440.4,365.2 441.5,359.0 C442.7,352.9 441.1,346.9 441.2,340.9 C441.3,334.8 442.0,325.7 442.1,322.7" fill="none" stroke="#3aa8a4" stroke-width="4.3" stroke-linecap="round" opacity="0.9"/>
<path d="M73.4,402.0 C73.5,399.7 73.9,392.0 74.2,388.0 C74.5,384.0 74.7,383.1 75.0,378.0 C75.3,372.9 75.8,365.0 76.1,357.5 C76.5,350.1 76.7,341.4 77.1,333.3 C77.5,325.2 78.3,313.1 78.6,309.1" fill="none" stroke="#2a8b92" stroke-width="6.199999999999999" stroke-linecap="round"/>
<path d="M73.4,402.0 C73.5,399.7 73.9,392.0 74.2,388.0 C74.5,384.0 74.7,383.1 75.0,378.0 C75.3,372.9 75.8,365.0 76.1,357.5 C76.5,350.1 76.7,341.4 77.1,333.3 C77.5,325.2 78.3,313.1 78.6,309.1" fill="none" stroke="#3aa8a4" stroke-width="4.3" stroke-linecap="round" opacity="0.9"/>
<path d="M310.1,402.0 C310.0,399.7 309.6,392.0 309.3,388.0 C309.1,384.0 307.4,383.6 308.5,378.0 C309.7,372.4 315.8,361.2 316.1,354.2 C316.3,347.1 309.9,341.9 310.1,335.7 C310.2,329.5 316.0,320.3 317.2,317.2" fill="none" stroke="#2a8b92" stroke-width="6.199999999999999" stroke-linecap="round"/>
<path d="M310.1,402.0 C310.0,399.7 309.6,392.0 309.3,388.0 C309.1,384.0 307.4,383.6 308.5,378.0 C309.7,372.4 315.8,361.2 316.1,354.2 C316.3,347.1 309.9,341.9 310.1,335.7 C310.2,329.5 316.0,320.3 317.2,317.2" fill="none" stroke="#3aa8a4" stroke-width="4.3" stroke-linecap="round" opacity="0.9"/>
<path d="M129.5,402.0 C129.3,399.7 128.9,392.0 128.6,388.0 C128.3,384.0 127.6,383.4 127.6,378.0 C127.7,372.6 128.5,363.1 128.9,355.7 C129.2,348.2 130.0,340.7 129.6,333.2 C129.3,325.8 127.3,314.5 126.8,310.8" fill="none" stroke="#2a8b92" stroke-width="6.199999999999999" stroke-linecap="round"/>
<path d="M129.5,402.0 C129.3,399.7 128.9,392.0 128.6,388.0 C128.3,384.0 127.6,383.4 127.6,378.0 C127.7,372.6 128.5,363.1 128.9,355.7 C129.2,348.2 130.0,340.7 129.6,333.2 C129.3,325.8 127.3,314.5 126.8,310.8" fill="none" stroke="#3aa8a4" stroke-width="4.3" stroke-linecap="round" opacity="0.9"/>
<path d="M366.0,402.0 C366.1,399.7 366.4,392.0 366.6,388.0 C366.8,384.0 365.7,382.6 367.1,378.0 C368.5,373.4 375.0,366.9 375.0,360.2 C375.0,353.5 368.3,345.3 367.3,337.8 C366.4,330.4 368.8,319.2 369.1,315.5" fill="none" stroke="#2a8b92" stroke-width="6.199999999999999" stroke-linecap="round"/>
<path d="M366.0,402.0 C366.1,399.7 366.4,392.0 366.6,388.0 C366.8,384.0 365.7,382.6 367.1,378.0 C368.5,373.4 375.0,366.9 375.0,360.2 C375.0,353.5 368.3,345.3 367.3,337.8 C366.4,330.4 368.8,319.2 369.1,315.5" fill="none" stroke="#3aa8a4" stroke-width="4.3" stroke-linecap="round" opacity="0.9"/>
<path d="M129.5,402.0 C129.3,399.7 128.9,392.0 128.6,388.0 C128.3,384.0 126.3,383.8 127.6,378.0 C128.9,372.2 135.4,359.3 136.2,353.5 C137.1,347.7 133.7,346.6 132.7,343.2 C131.7,339.8 130.6,334.6 130.2,332.9" fill="none" stroke="#2a8b92" stroke-width="6.199999999999999" stroke-linecap="round"/>
<path d="M129.5,402.0 C129.3,399.7 128.9,392.0 128.6,388.0 C128.3,384.0 126.3,383.8 127.6,378.0 C128.9,372.2 135.4,359.3 136.2,353.5 C137.1,347.7 133.7,346.6 132.7,343.2 C131.7,339.8 130.6,334.6 130.2,332.9" fill="none" stroke="#3aa8a4" stroke-width="4.3" stroke-linecap="round" opacity="0.9"/>
<path d="M208.3,402.0 C208.4,399.7 208.5,392.0 208.7,388.0 C208.8,384.0 210.5,383.2 209.0,378.0 C207.5,372.8 201.1,364.2 199.5,356.8 C197.9,349.5 198.9,341.5 199.5,333.9 C200.1,326.3 202.5,314.8 203.1,311.0" fill="none" stroke="#2a8b92" stroke-width="6.199999999999999" stroke-linecap="round"/>
<path d="M208.3,402.0 C208.4,399.7 208.5,392.0 208.7,388.0 C208.8,384.0 210.5,383.2 209.0,378.0 C207.5,372.8 201.1,364.2 199.5,356.8 C197.9,349.5 198.9,341.5 199.5,333.9 C200.1,326.3 202.5,314.8 203.1,311.0" fill="none" stroke="#3aa8a4" stroke-width="4.3" stroke-linecap="round" opacity="0.9"/>
<path d="M193.8,402.0 C193.6,399.7 193.1,392.0 192.7,388.0 C192.4,384.0 190.9,383.9 191.6,378.0 C192.4,372.1 196.2,359.2 197.4,352.8 C198.7,346.5 198.7,344.1 199.2,339.8 C199.6,335.4 199.8,328.9 199.9,326.7" fill="none" stroke="#2a8b92" stroke-width="6.199999999999999" stroke-linecap="round"/>
<path d="M193.8,402.0 C193.6,399.7 193.1,392.0 192.7,388.0 C192.4,384.0 190.9,383.9 191.6,378.0 C192.4,372.1 196.2,359.2 197.4,352.8 C198.7,346.5 198.7,344.1 199.2,339.8 C199.6,335.4 199.8,328.9 199.9,326.7" fill="none" stroke="#3aa8a4" stroke-width="4.3" stroke-linecap="round" opacity="0.9"/>
<path d="M329.9,402.0 C330.0,399.7 330.2,392.0 330.4,388.0 C330.6,384.0 332.2,383.1 331.0,378.0 C329.8,372.9 323.0,362.8 323.2,357.2 C323.4,351.5 329.4,348.4 332.1,344.1 C334.7,339.7 337.8,333.2 339.0,331.0" fill="none" stroke="#2a8b92" stroke-width="6.199999999999999" stroke-linecap="round"/>
<path d="M329.9,402.0 C330.0,399.7 330.2,392.0 330.4,388.0 C330.6,384.0 332.2,383.1 331.0,378.0 C329.8,372.9 323.0,362.8 323.2,357.2 C323.4,351.5 329.4,348.4 332.1,344.1 C334.7,339.7 337.8,333.2 339.0,331.0" fill="none" stroke="#3aa8a4" stroke-width="4.3" stroke-linecap="round" opacity="0.9"/>
<path d="M257.2,402.0 C257.2,399.7 257.5,392.0 257.7,388.0 C257.9,384.0 256.9,382.9 258.2,378.0 C259.5,373.1 264.5,365.2 265.4,358.4 C266.2,351.6 263.1,344.2 263.3,337.1 C263.5,330.0 266.0,319.3 266.5,315.7" fill="none" stroke="#2a8b92" stroke-width="6.199999999999999" stroke-linecap="round"/>
<path d="M257.2,402.0 C257.2,399.7 257.5,392.0 257.7,388.0 C257.9,384.0 256.9,382.9 258.2,378.0 C259.5,373.1 264.5,365.2 265.4,358.4 C266.2,351.6 263.1,344.2 263.3,337.1 C263.5,330.0 266.0,319.3 266.5,315.7" fill="none" stroke="#3aa8a4" stroke-width="4.3" stroke-linecap="round" opacity="0.9"/>
<path d="M451.0,402.0 C450.9,399.7 450.4,392.0 450.1,388.0 C449.8,384.0 449.1,382.9 449.1,378.0 C449.2,373.1 450.8,365.9 450.4,358.7 C449.9,351.6 447.0,343.1 446.3,335.2 C445.7,327.4 446.4,315.7 446.4,311.8" fill="none" stroke="#2a8b92" stroke-width="6.199999999999999" stroke-linecap="round"/>
<path d="M451.0,402.0 C450.9,399.7 450.4,392.0 450.1,388.0 C449.8,384.0 449.1,382.9 449.1,378.0 C449.2,373.1 450.8,365.9 450.4,358.7 C449.9,351.6 447.0,343.1 446.3,335.2 C445.7,327.4 446.4,315.7 446.4,311.8" fill="none" stroke="#3aa8a4" stroke-width="4.3" stroke-linecap="round" opacity="0.9"/>
<path d="M110.9,402.0 C111.0,399.7 111.4,392.0 111.7,388.0 C111.9,384.0 111.2,382.7 112.4,378.0 C113.6,373.3 119.0,367.0 118.9,360.0 C118.8,353.0 113.3,343.9 111.7,335.9 C110.1,327.9 109.7,315.8 109.3,311.8" fill="none" stroke="#2a8b92" stroke-width="6.199999999999999" stroke-linecap="round"/>
<path d="M110.9,402.0 C111.0,399.7 111.4,392.0 111.7,388.0 C111.9,384.0 111.2,382.7 112.4,378.0 C113.6,373.3 119.0,367.0 118.9,360.0 C118.8,353.0 113.3,343.9 111.7,335.9 C110.1,327.9 109.7,315.8 109.3,311.8" fill="none" stroke="#3aa8a4" stroke-width="4.3" stroke-linecap="round" opacity="0.9"/>
<path d="M208.3,402.0 C208.4,399.7 208.5,392.0 208.7,388.0 C208.8,384.0 207.5,382.8 209.0,378.0 C210.5,373.2 216.3,366.4 217.8,359.3 C219.4,352.1 217.1,343.2 218.3,335.1 C219.5,327.0 223.9,315.0 225.0,310.9" fill="none" stroke="#2a8b92" stroke-width="6.199999999999999" stroke-linecap="round"/>
<path d="M208.3,402.0 C208.4,399.7 208.5,392.0 208.7,388.0 C208.8,384.0 207.5,382.8 209.0,378.0 C210.5,373.2 216.3,366.4 217.8,359.3 C219.4,352.1 217.1,343.2 218.3,335.1 C219.5,327.0 223.9,315.0 225.0,310.9" fill="none" stroke="#3aa8a4" stroke-width="4.3" stroke-linecap="round" opacity="0.9"/>
<path d="M110.9,402.0 C111.0,399.7 111.4,392.0 111.7,388.0 C111.9,384.0 112.0,383.6 112.4,378.0 C112.9,372.4 114.7,361.6 114.2,354.1 C113.7,346.7 110.0,340.1 109.5,333.1 C109.0,326.1 110.8,315.6 111.1,312.1" fill="none" stroke="#2a8b92" stroke-width="6.199999999999999" stroke-linecap="round"/>
<path d="M110.9,402.0 C111.0,399.7 111.4,392.0 111.7,388.0 C111.9,384.0 112.0,383.6 112.4,378.0 C112.9,372.4 114.7,361.6 114.2,354.1 C113.7,346.7 110.0,340.1 109.5,333.1 C109.0,326.1 110.8,315.6 111.1,312.1" fill="none" stroke="#3aa8a4" stroke-width="4.3" stroke-linecap="round" opacity="0.9"/>
<path d="M366.0,402.0 C366.1,399.7 366.4,392.0 366.6,388.0 C366.8,384.0 368.4,382.5 367.1,378.0 C365.9,373.5 359.7,368.2 358.9,361.2 C358.1,354.2 360.4,344.3 362.2,335.9 C364.0,327.5 368.4,314.8 369.7,310.6" fill="none" stroke="#2a8b92" stroke-width="6.199999999999999" stroke-linecap="round"/>
<path d="M366.0,402.0 C366.1,399.7 366.4,392.0 366.6,388.0 C366.8,384.0 368.4,382.5 367.1,378.0 C365.9,373.5 359.7,368.2 358.9,361.2 C358.1,354.2 360.4,344.3 362.2,335.9 C364.0,327.5 368.4,314.8 369.7,310.6" fill="none" stroke="#3aa8a4" stroke-width="4.3" stroke-linecap="round" opacity="0.9"/>
<path d="M402.8,402.0 C403.0,399.7 403.5,392.0 403.8,388.0 C404.1,384.0 403.2,383.6 404.8,378.0 C406.3,372.4 411.7,360.7 413.0,354.2 C414.3,347.7 412.1,344.0 412.5,339.0 C412.9,333.9 414.9,326.3 415.4,323.8" fill="none" stroke="#2a8b92" stroke-width="6.199999999999999" stroke-linecap="round"/>
<path d="M402.8,402.0 C403.0,399.7 403.5,392.0 403.8,388.0 C404.1,384.0 403.2,383.6 404.8,378.0 C406.3,372.4 411.7,360.7 413.0,354.2 C414.3,347.7 412.1,344.0 412.5,339.0 C412.9,333.9 414.9,326.3 415.4,323.8" fill="none" stroke="#3aa8a4" stroke-width="4.3" stroke-linecap="round" opacity="0.9"/>
<path d="M347.9,402.0 C347.9,399.7 347.6,392.0 347.4,388.0 C347.2,384.0 348.3,383.1 346.8,378.0 C345.4,372.9 339.2,362.9 338.7,357.4 C338.1,351.8 342.8,349.0 343.5,344.8 C344.1,340.6 342.8,334.3 342.7,332.2" fill="none" stroke="#2a8b92" stroke-width="6.199999999999999" stroke-linecap="round"/>
<path d="M347.9,402.0 C347.9,399.7 347.6,392.0 347.4,388.0 C347.2,384.0 348.3,383.1 346.8,378.0 C345.4,372.9 339.2,362.9 338.7,357.4 C338.1,351.8 342.8,349.0 343.5,344.8 C344.1,340.6 342.8,334.3 342.7,332.2" fill="none" stroke="#3aa8a4" stroke-width="4.3" stroke-linecap="round" opacity="0.9"/>
<path d="M92.2,402.0 C91.9,399.7 91.2,392.0 90.8,388.0 C90.3,384.0 89.3,383.7 89.4,378.0 C89.4,372.3 91.2,361.0 91.2,354.0 C91.2,347.0 89.2,342.0 89.5,336.0 C89.7,330.0 92.2,321.0 92.7,318.0" fill="none" stroke="#2a8b92" stroke-width="6.199999999999999" stroke-linecap="round"/>
<path d="M92.2,402.0 C91.9,399.7 91.2,392.0 90.8,388.0 C90.3,384.0 89.3,383.7 89.4,378.0 C89.4,372.3 91.2,361.0 91.2,354.0 C91.2,347.0 89.2,342.0 89.5,336.0 C89.7,330.0 92.2,321.0 92.7,318.0" fill="none" stroke="#3aa8a4" stroke-width="4.3" stroke-linecap="round" opacity="0.9"/>
<path d="M161.9,402.0 C161.9,399.7 161.9,392.0 161.9,388.0 C162.0,384.0 160.2,382.9 162.0,378.0 C163.8,373.1 172.6,364.0 172.9,358.5 C173.1,353.0 164.8,349.5 163.7,344.9 C162.5,340.4 165.6,333.6 166.0,331.3" fill="none" stroke="#2a8b92" stroke-width="6.199999999999999" stroke-linecap="round"/>
<path d="M161.9,402.0 C161.9,399.7 161.9,392.0 161.9,388.0 C162.0,384.0 160.2,382.9 162.0,378.0 C163.8,373.1 172.6,364.0 172.9,358.5 C173.1,353.0 164.8,349.5 163.7,344.9 C162.5,340.4 165.6,333.6 166.0,331.3" fill="none" stroke="#3aa8a4" stroke-width="4.3" stroke-linecap="round" opacity="0.9"/>
<path d="M143.6,402.0 C143.5,399.7 143.0,392.0 142.7,388.0 C142.3,384.0 141.6,382.4 141.7,378.0 C141.8,373.6 143.8,367.5 143.2,361.6 C142.7,355.7 139.7,348.9 138.5,342.6 C137.3,336.2 136.4,326.7 135.9,323.5" fill="none" stroke="#2a8b92" stroke-width="6.199999999999999" stroke-linecap="round"/>
<path d="M143.6,402.0 C143.5,399.7 143.0,392.0 142.7,388.0 C142.3,384.0 141.6,382.4 141.7,378.0 C141.8,373.6 143.8,367.5 143.2,361.6 C142.7,355.7 139.7,348.9 138.5,342.6 C137.3,336.2 136.4,326.7 135.9,323.5" fill="none" stroke="#3aa8a4" stroke-width="4.3" stroke-linecap="round" opacity="0.9"/>
<path d="M347.9,402.0 C347.9,399.7 347.6,392.0 347.4,388.0 C347.2,384.0 346.6,383.1 346.8,378.0 C347.0,372.9 349.2,363.6 348.5,357.2 C347.9,350.7 342.6,345.1 343.0,339.1 C343.3,333.1 349.3,324.1 350.6,321.1" fill="none" stroke="#2a8b92" stroke-width="6.199999999999999" stroke-linecap="round"/>
<path d="M347.9,402.0 C347.9,399.7 347.6,392.0 347.4,388.0 C347.2,384.0 346.6,383.1 346.8,378.0 C347.0,372.9 349.2,363.6 348.5,357.2 C347.9,350.7 342.6,345.1 343.0,339.1 C343.3,333.1 349.3,324.1 350.6,321.1" fill="none" stroke="#3aa8a4" stroke-width="4.3" stroke-linecap="round" opacity="0.9"/>
<path d="M468.6,402.0 C468.6,399.7 468.5,392.0 468.5,388.0 C468.4,384.0 466.6,382.6 468.3,378.0 C470.0,373.4 477.3,367.8 478.7,360.6 C480.1,353.4 476.1,343.5 476.5,335.0 C477.0,326.4 480.5,313.6 481.3,309.4" fill="none" stroke="#2a8b92" stroke-width="6.199999999999999" stroke-linecap="round"/>
<path d="M468.6,402.0 C468.6,399.7 468.5,392.0 468.5,388.0 C468.4,384.0 466.6,382.6 468.3,378.0 C470.0,373.4 477.3,367.8 478.7,360.6 C480.1,353.4 476.1,343.5 476.5,335.0 C477.0,326.4 480.5,313.6 481.3,309.4" fill="none" stroke="#3aa8a4" stroke-width="4.3" stroke-linecap="round" opacity="0.9"/>
<path d="M180.1,402.0 C180.3,399.7 180.9,392.0 181.3,388.0 C181.6,384.0 183.1,382.4 182.4,378.0 C181.8,373.6 177.1,368.7 177.3,361.6 C177.6,354.6 182.1,344.4 184.0,335.7 C185.9,327.1 187.9,314.2 188.7,309.8" fill="none" stroke="#2a8b92" stroke-width="6.199999999999999" stroke-linecap="round"/>
<path d="M180.1,402.0 C180.3,399.7 180.9,392.0 181.3,388.0 C181.6,384.0 183.1,382.4 182.4,378.0 C181.8,373.6 177.1,368.7 177.3,361.6 C177.6,354.6 182.1,344.4 184.0,335.7 C185.9,327.1 187.9,314.2 188.7,309.8" fill="none" stroke="#3aa8a4" stroke-width="4.3" stroke-linecap="round" opacity="0.9"/>
<path d="M279.0,402.0 C279.0,399.7 279.2,392.0 279.4,388.0 C279.5,384.0 280.7,382.8 279.8,378.0 C278.8,373.2 275.0,365.5 273.7,359.1 C272.4,352.8 271.8,346.2 271.8,339.8 C271.9,333.3 273.7,323.6 274.0,320.4" fill="none" stroke="#2a8b92" stroke-width="6.199999999999999" stroke-linecap="round"/>
<path d="M279.0,402.0 C279.0,399.7 279.2,392.0 279.4,388.0 C279.5,384.0 280.7,382.8 279.8,378.0 C278.8,373.2 275.0,365.5 273.7,359.1 C272.4,352.8 271.8,346.2 271.8,339.8 C271.9,333.3 273.7,323.6 274.0,320.4" fill="none" stroke="#3aa8a4" stroke-width="4.3" stroke-linecap="round" opacity="0.9"/>
<path d="M240.9,402.0 C240.9,399.7 240.9,392.0 240.9,388.0 C240.9,384.0 240.6,383.3 240.9,378.0 C241.2,372.7 242.7,363.4 242.4,356.1 C242.2,348.9 240.0,341.8 239.4,334.6 C238.8,327.4 238.9,316.6 238.8,313.1" fill="none" stroke="#2a8b92" stroke-width="6.199999999999999" stroke-linecap="round"/>
<path d="M240.9,402.0 C240.9,399.7 240.9,392.0 240.9,388.0 C240.9,384.0 240.6,383.3 240.9,378.0 C241.2,372.7 242.7,363.4 242.4,356.1 C242.2,348.9 240.0,341.8 239.4,334.6 C238.8,327.4 238.9,316.6 238.8,313.1" fill="none" stroke="#3aa8a4" stroke-width="4.3" stroke-linecap="round" opacity="0.9"/>
<path d="M193.8,402.0 C193.6,399.7 193.1,392.0 192.7,388.0 C192.4,384.0 191.6,383.9 191.6,378.0 C191.6,372.1 192.0,359.2 192.7,352.3 C193.4,345.4 194.0,341.7 195.8,336.3 C197.5,331.0 201.9,323.0 203.1,320.4" fill="none" stroke="#2a8b92" stroke-width="6.199999999999999" stroke-linecap="round"/>
<path d="M193.8,402.0 C193.6,399.7 193.1,392.0 192.7,388.0 C192.4,384.0 191.6,383.9 191.6,378.0 C191.6,372.1 192.0,359.2 192.7,352.3 C193.4,345.4 194.0,341.7 195.8,336.3 C197.5,331.0 201.9,323.0 203.1,320.4" fill="none" stroke="#3aa8a4" stroke-width="4.3" stroke-linecap="round" opacity="0.9"/>
<path d="M366.0,402.0 C366.1,399.7 366.4,392.0 366.6,388.0 C366.8,384.0 366.8,383.0 367.1,378.0 C367.5,373.0 368.9,363.8 368.7,358.2 C368.5,352.6 366.7,349.0 366.1,344.4 C365.5,339.8 365.4,332.9 365.2,330.6" fill="none" stroke="#2a8b92" stroke-width="6.199999999999999" stroke-linecap="round"/>
<path d="M366.0,402.0 C366.1,399.7 366.4,392.0 366.6,388.0 C366.8,384.0 366.8,383.0 367.1,378.0 C367.5,373.0 368.9,363.8 368.7,358.2 C368.5,352.6 366.7,349.0 366.1,344.4 C365.5,339.8 365.4,332.9 365.2,330.6" fill="none" stroke="#3aa8a4" stroke-width="4.3" stroke-linecap="round" opacity="0.9"/>
</g></g>
<g clip-path="url(#clipL)">
<path d="M10.7,406 Q10.1,420.5 7.1,434.1 M9.2,417.3 l6.7,8.1 M5.7,406 Q16.1,419.2 19.6,431.4 M14.0,421.0 l-7.0,11.1 M15.9,406 Q17.9,421.9 16.5,436.8 M16.3,425.3 l1.8,8.4 M2.5,406 Q9.8,419.2 12.7,431.5 M13.4,406 Q22.3,418.4 25.2,429.9 M21.5,422.3 l7.6,6.8 M32.5,406 Q29.7,420.8 30.7,434.5 M31.6,420.7 l-3.0,10.7 M26.4,406 Q36.4,421.3 37.8,435.6 M32.9,406 Q38.9,416.1 37.7,425.3 M31.6,406 Q29.6,421.6 33.5,436.3 M26.3,406 Q26.8,415.1 20.2,423.3 M38.4,406 Q36.2,417.4 28.6,427.9 M32.5,406 Q36.3,414.9 35.7,422.9 M34.6,417.2 l9.6,10.0 M47.8,406 Q46.1,415.3 42.4,423.5 M45.3,414.1 l-1.8,10.9 M34.3,406 Q26.0,423.2 21.5,439.4 M46.1,406 Q44.6,419.1 42.7,431.2 M41.3,406 Q46.6,420.7 43.0,434.4 M42.2,421.0 l4.4,7.9 M36.6,406 Q43.8,419.7 50.0,432.4 M43.6,419.9 l1.6,6.2 M51.7,406 Q55.3,419.2 55.2,431.3 M53.9,421.5 l4.8,6.2 M51.7,406 Q51.7,424.1 56.6,441.3 M54.5,426.4 l-3.6,8.9 M55.7,406 Q51.9,420.5 52.1,433.9 M53.4,423.6 l-9.5,10.6 M62.5,406 Q62.9,416.7 57.2,426.5 M60.1,415.3 l-1.3,11.6 M52.4,406 Q53.2,417.8 47.4,428.7 M49.1,420.9 l-6.6,8.7 M61.1,406 Q63.8,419.0 71.9,431.0 M67.1,420.0 l-6.2,12.5 M64.1,406 Q62.8,417.3 55.3,427.6 M73.2,406 Q68.0,422.4 67.4,437.9 M70.2,422.7 l-1.6,9.3 M85.9,406 Q85.5,414.5 76.3,422.1 M87.0,406 Q90.3,424.0 85.1,441.0 M85.8,427.8 l6.7,11.3 M79.5,406 Q73.8,417.9 73.6,428.8 M76.1,419.2 l-4.3,12.5 M71.9,406 Q81.8,421.4 83.2,435.9 M92.6,406 Q94.0,416.2 99.4,425.4 M100.8,406 Q100.7,423.9 98.4,440.8 M99.6,422.5 l7.2,9.8 M104.9,406 Q103.2,416.5 100.7,425.9 M95.1,406 Q102.3,423.7 103.3,440.4 M92.5,406 Q89.8,423.1 96.1,439.3 M94.2,422.0 l0.5,9.4 M99.9,406 Q99.4,414.5 107.7,422.0 M103.3,413.0 l-8.6,13.8 M121.2,406 Q117.2,417.6 116.1,428.3 M122.6,406 Q118.9,416.4 118.7,425.8 M120.4,417.2 l4.3,9.0 M114.5,406 Q111.0,418.2 105.5,429.5 M119.3,406 Q122.8,420.7 127.7,434.5 M123.9,421.6 l4.1,9.4 M136.7,406 Q132.9,421.5 137.7,435.9 M137.2,421.8 l7.6,13.5 M138.7,406 Q141.9,422.4 149.9,437.8 M143.6,419.9 l6.3,11.3 M147.0,406 Q153.4,421.2 155.1,435.4 M150.5,418.6 l1.8,6.0 M135.1,406 Q134.8,414.9 142.7,422.9 M140.2,417.2 l-6.4,6.2 M146.2,406 Q142.7,422.9 135.6,438.9 M148.0,406 Q144.5,422.5 150.2,438.0 M152.6,406 Q151.7,423.8 159.5,440.7 M156.5,425.7 l6.6,7.9 M153.7,406 Q152.8,420.7 146.7,434.3 M150.2,420.4 l-2.1,8.8 M157.5,406 Q156.4,419.5 145.9,432.0 M150.3,422.2 l-6.8,11.5 M162.9,406 Q165.2,419.7 167.8,432.3 M165.2,406 Q162.8,415.5 155.4,423.9 M159.1,406 Q155.2,421.7 157.5,436.4 M158.4,420.0 l1.7,8.5 M154.6,406 Q155.2,424.0 159.9,441.1 M177.5,406 Q169.5,416.7 171.0,426.4 M174.2,416.5 l-6.6,8.9 M173.3,406 Q182.1,415.9 181.0,424.9 M177.8,416.9 l-0.6,12.7 M181.3,406 Q184.3,419.3 182.9,431.6 M174.6,406 Q177.5,424.1 181.1,441.2 M177.6,422.6 l4.4,11.4 M183.5,406 Q185.3,416.9 193.4,426.8 M188.0,415.5 l4.1,12.9 M182.6,406 Q177.3,423.2 175.7,439.3 M178.3,426.6 l-8.3,6.7 M181.5,406 Q179.4,418.1 175.7,429.1 M168.3,406 Q165.8,418.9 163.6,430.7 M165.6,420.2 l9.1,9.1 M190.9,406 Q197.1,415.6 195.5,424.3 M188.1,406 Q197.0,418.2 200.4,429.5 M191.2,406 Q196.8,421.0 196.2,435.1 M194.3,424.2 l9.2,11.4 M195.1,406 Q188.2,419.4 184.3,431.9 M197.4,406 Q199.8,416.3 199.2,425.6 M212.4,406 Q203.6,423.8 201.9,440.6 M205.9,427.3 l1.9,10.4 M212.3,406 Q208.5,417.6 211.1,428.2 M211.6,419.7 l5.1,10.3 M213.8,406 Q210.6,417.2 209.8,427.3 M202.6,406 Q205.4,417.0 202.7,426.9 M202.7,416.5 l-1.9,10.3 M214.3,406 Q208.4,423.0 210.2,438.9 M212.5,420.2 l-7.7,12.2 M213.6,406 Q208.3,416.4 204.8,425.8 M215.0,406 Q214.9,420.4 222.0,433.8 M218.2,418.8 l0.6,10.5 M205.2,406 Q197.0,422.3 198.2,437.6 M229.2,406 Q231.3,420.3 230.7,433.7 M234.1,406 Q231.1,423.1 228.4,439.2 M234.7,406 Q229.4,422.2 220.8,437.4 M226.9,423.5 l-0.8,7.5 M231.5,406 Q226.5,419.5 218.6,432.0 M224.2,420.8 l9.2,13.1 M225.2,406 Q224.8,420.7 233.4,434.5 M229.1,419.4 l-8.4,10.3 M237.9,406 Q237.4,423.2 233.0,439.4 M234.7,428.0 l2.0,13.4 M234.5,406 Q240.9,417.9 241.2,428.9 M236.9,406 Q235.8,422.1 235.1,437.1 M236.1,418.9 l-8.4,7.6 M249.5,406 Q251.6,418.7 250.6,430.4 M250.1,419.2 l5.1,9.2 M241.2,406 Q245.5,421.7 252.4,436.4 M247.5,423.0 l1.9,7.8 M238.4,406 Q230.8,422.3 230.3,437.7 M234.7,420.5 l-5.8,7.4 M244.8,406 Q236.3,414.8 235.5,422.5 M239.7,415.1 l-8.8,6.2 M245.5,406 Q239.7,421.5 242.9,436.1 M244.2,421.6 l-9.5,13.7 M241.9,406 Q232.8,419.2 230.5,431.5 M256.0,406 Q262.0,417.3 262.3,427.5 M260.3,420.6 l-4.0,8.0 M259.4,406 Q262.2,420.8 268.2,434.6 M264.7,423.3 l9.4,10.7 M255.2,406 Q245.3,415.4 242.0,423.8 M249.7,413.4 l3.1,13.2 M258.3,406 Q268.0,419.3 271.6,431.5 M270.2,406 Q264.7,417.5 257.1,428.1 M283.4,406 Q276.4,418.4 272.6,429.8 M284.7,406 Q282.5,421.9 275.6,436.8 M278.7,406 Q283.8,418.1 290.5,429.3 M286.2,420.7 l-0.4,8.2 M272.5,406 Q277.7,420.6 278.7,434.1 M275.9,421.4 l-6.9,11.7 M270.2,406 Q271.5,422.1 269.3,437.2 M269.8,420.7 l6.9,11.1 M298.1,406 Q302.0,421.8 309.2,436.7 M302.7,418.9 l-2.0,13.6 M292.5,406 Q289.3,415.6 294.5,424.2 M294.7,406 Q289.8,416.0 282.1,425.1 M289.6,413.7 l-5.4,13.7 M294.4,406 Q298.1,418.7 296.1,430.4 M303.5,406 Q300.7,416.4 304.5,425.8 M304.1,418.8 l-7.7,6.2 M306.3,406 Q298.0,423.4 297.9,439.9 M302.4,421.8 l6.6,10.9 M301.1,406 Q303.2,423.2 308.4,439.4 M298.0,406 Q293.5,422.9 287.1,438.7 M313.9,406 Q315.6,415.3 320.3,423.5 M316.6,413.4 l1.1,11.9 M313.3,406 Q312.5,420.6 317.4,434.1 M316.2,425.6 l-3.3,9.4 M307.9,406 Q308.2,416.2 300.0,425.3 M320.5,406 Q331.6,420.6 334.1,434.2 M327.7,420.8 l9.0,13.2 M321.7,406 Q320.5,422.2 321.3,437.5 M321.2,406 Q315.2,423.8 315.4,440.7 M317.6,427.4 l-4.1,10.2 M337.5,406 Q332.9,418.8 331.3,430.6 M337.6,406 Q332.6,415.5 331.6,424.1 M335.0,413.6 l-6.9,12.1 M336.8,406 Q347.3,424.3 350.2,441.6 M342.8,422.0 l-3.8,9.7 M334.0,406 Q338.2,418.1 335.2,429.2 M334.7,418.5 l7.7,12.5 M354.9,406 Q348.4,415.8 341.2,424.6 M348.7,414.4 l-9.0,7.6 M354.3,406 Q356.7,424.3 353.4,441.6 M342.6,406 Q337.5,414.6 333.7,422.3 M338.9,412.8 l0.9,6.8 M347.0,406 Q342.6,422.5 339.9,438.0 M344.1,419.2 l-1.4,11.0 M352.8,406 Q356.1,422.6 364.4,438.2 M360.1,426.2 l5.8,10.1 M367.1,406 Q363.9,414.7 357.8,422.3 M377.1,406 Q381.0,421.2 376.2,435.3 M372.3,406 Q367.8,419.7 369.9,432.4 M370.8,422.0 l9.8,10.4 M369.2,406 Q370.1,419.0 365.0,431.1 M366.3,423.3 l-6.9,8.5 M371.0,406 Q373.0,423.0 368.5,439.0 M372.4,406 Q366.4,420.2 359.3,433.5 M366.1,419.3 l4.2,13.3 M383.4,406 Q388.2,423.5 383.8,439.9 M380.6,406 Q385.3,416.3 392.4,425.6 M382.5,406 Q383.8,424.0 376.1,441.0 M379.2,424.1 l-4.4,7.1 M381.5,406 Q385.5,415.3 394.9,423.6 M387.2,413.5 l0.5,11.9 M390.9,406 Q387.8,422.7 394.6,438.4 M393.4,428.3 l-8.6,8.1 M385.2,406 Q377.4,420.0 378.7,432.9 M380.7,424.5 l-7.1,13.2 M380.3,406 Q388.7,421.2 394.1,435.5 M386.1,418.3 l5.2,7.4 M407.0,406 Q401.0,424.1 394.3,441.2 M401.5,421.2 l-2.2,13.9 M397.5,406 Q388.6,416.0 387.2,424.9 M390.5,418.8 l-8.5,7.5 M408.0,406 Q412.4,424.3 421.9,441.6 M417.5,430.4 l-0.3,11.6 M398.0,406 Q393.8,418.0 384.6,428.9 M402.1,406 Q401.0,419.9 401.1,432.8 M401.4,423.4 l-6.0,10.8 M407.9,406 Q417.4,416.3 417.7,425.6 M395.7,406 Q387.9,416.5 389.1,426.0 M412.1,406 Q408.2,423.2 398.5,439.4 M421.2,406 Q417.5,422.2 421.9,437.3 M421.6,422.7 l-7.1,10.8 M415.4,406 Q413.7,418.2 415.6,429.5 M415.5,419.6 l9.6,13.5 M424.1,406 Q433.5,417.4 433.4,427.7 M428.2,415.5 l0.0,11.9 M415.7,406 Q422.4,417.3 419.8,427.6 M417.9,417.8 l0.6,13.0 M426.0,406 Q427.6,418.9 426.8,430.8 M426.5,419.1 l6.9,12.2 M411.2,406 Q421.0,418.3 421.1,429.7 M415.8,417.0 l1.0,13.1 M417.2,406 Q420.9,421.6 427.4,436.2 M422.8,422.7 l-2.0,9.0 M438.8,406 Q432.6,416.7 428.9,426.4 M431.7,406 Q423.7,417.7 420.0,428.4 M425.1,418.6 l8.4,10.3 M441.3,406 Q450.0,422.9 450.5,438.8 M446.8,425.8 l-7.6,13.0 M435.5,406 Q433.0,423.4 434.8,439.8 M435.1,427.9 l2.0,6.7 M429.9,406 Q431.2,414.6 425.8,422.1 M427.9,413.8 l-2.2,10.1 M436.4,406 Q437.6,421.1 440.0,435.2 M438.9,426.3 l3.8,6.7 M436.5,406 Q435.8,424.4 443.6,441.8 M440.4,425.5 l-1.6,13.2 M442.7,406 Q441.2,418.7 438.0,430.4 M446.5,406 Q452.8,414.8 450.5,422.5 M448.8,415.5 l-8.3,7.9 M452.6,406 Q455.4,419.9 462.6,432.8 M455.7,406 Q454.1,416.5 456.5,426.0 M447.2,406 Q446.2,420.7 448.1,434.4 M459.6,406 Q461.7,421.9 469.7,436.8 M465.0,422.3 l-3.8,7.6 M459.0,406 Q459.4,422.7 451.1,438.5 M453.7,427.9 l-2.1,7.7 M468.6,406 Q470.3,423.0 465.3,439.0 M466.9,423.2 l-2.2,7.4 M464.6,406 Q459.7,421.4 458.0,435.9 M461.5,419.9 l-1.2,10.5 M464.5,406 Q469.0,416.7 470.1,426.3 M463.4,406 Q467.3,418.4 470.4,429.9 M467.5,420.1 l-1.2,6.4" fill="none" stroke="#9c7a55" stroke-width="1.15" opacity="0.95"/>
<path d="M35,408 Q54.5,412.0 70,420" fill="none" stroke="#b47b36" stroke-width="3.6" stroke-linecap="round"/>
<path d="M110,408 Q127.0,411.5 140,419" fill="none" stroke="#b47b36" stroke-width="3.6" stroke-linecap="round"/>
<path d="M190,408 Q204.5,410.5 215,417" fill="none" stroke="#b47b36" stroke-width="3.6" stroke-linecap="round"/>
<path d="M354,408 Q366.5,411.0 375,418" fill="none" stroke="#b47b36" stroke-width="3.6" stroke-linecap="round"/>
<path d="M400,408 Q417.0,412.0 430,420" fill="none" stroke="#b47b36" stroke-width="3.6" stroke-linecap="round"/>
<path d="M440,408 Q457.0,411.0 470,418" fill="none" stroke="#b47b36" stroke-width="3.6" stroke-linecap="round"/>
<path d="M-10.0,403.6 C-7.3,403.6 0.8,403.8 6.4,404.0 C11.9,404.3 18.3,405.2 23.2,405.0 C28.1,404.7 30.5,403.0 35.7,402.7 C40.9,402.5 49.0,403.0 54.4,403.6 C59.8,404.2 63.3,405.9 68.3,406.3 C73.2,406.6 78.8,405.9 84.0,405.7 C89.3,405.5 95.0,405.1 99.9,405.0 C104.7,404.9 107.7,405.1 113.1,405.0 C118.4,404.9 125.9,404.6 132.0,404.6 C138.2,404.6 144.9,405.0 149.9,405.1 C155.0,405.3 157.6,405.7 162.4,405.4 C167.3,405.2 174.3,403.7 179.2,403.8 C184.0,403.8 186.8,405.6 191.4,405.8 C196.1,406.1 201.4,405.4 207.2,405.3 C213.0,405.2 219.8,405.5 226.2,405.3 C232.6,405.1 239.3,404.3 245.6,404.1 C251.9,404.0 257.7,404.0 264.0,404.3 C270.3,404.6 278.1,406.0 283.5,405.9 C288.9,405.7 291.9,403.1 296.3,403.2 C300.7,403.2 305.1,405.9 310.0,406.2 C314.9,406.5 320.5,405.2 325.5,405.0 C330.5,404.7 335.0,404.7 339.9,404.5 C344.8,404.4 349.7,403.9 355.0,404.0 C360.3,404.0 365.7,404.6 371.7,404.8 C377.7,405.0 384.5,405.0 390.9,405.2 C397.4,405.3 403.8,405.8 410.3,405.8 C416.9,405.8 424.7,405.1 430.3,405.1 C435.8,405.1 438.1,405.7 443.6,405.8 C449.1,405.9 457.2,406.0 463.3,406.0 C469.3,405.9 474.8,405.3 479.8,405.3 C484.9,405.2 491.3,405.6 493.5,405.7" fill="none" stroke="#b47b36" stroke-width="7.2" stroke-linecap="round"/>
</g>
<text transform="translate(36.00 385.30) rotate(-90)" style="font-size:24.5px;font-style:italic;" fill="#111">water/air</text>
<text x="17.30" y="440" style="font-size:24.5px;font-style:italic;" fill="#111">aerobic</text>
<text x="17.60" y="468" style="font-size:24.5px;font-style:italic;" fill="#111">anaerobic</text>
<line x1="121.6" y1="559.6" x2="273.8" y2="453.3" stroke="#000" stroke-width="5.5"/>
<polygon points="292.7,440.1 279.4,464.7 265.0,444.2" fill="#000"/>
<line x1="312.4" y1="458.3" x2="175.3" y2="553.7" stroke="#000" stroke-width="5.5"/>
<polygon points="156.4,566.8 169.8,542.3 184.1,562.8" fill="#000"/>
<line x1="368.2" y1="445.0" x2="368.2" y2="644.5" stroke="#000" stroke-width="5.5"/>
<polygon points="368.2,667.5 355.2,642.5 381.2,642.5" fill="#000"/>
<line x1="304.4" y1="717.4" x2="217.9" y2="683.0" stroke="#000" stroke-width="5.5"/>
<polygon points="196.5,674.5 224.4,671.9 215.0,695.6" fill="#000"/>
<text transform="translate(400.80 631.12) rotate(-90)" style="font-size:27.3px;" fill="#111">Organic matter</text>
<text transform="translate(123.86 542.31) rotate(-34.8)" style="font-size:24.9px;" fill="#111">Detoxification</text>
<text transform="translate(195.26 590.38) rotate(-36.9)" style="font-size:27.3px;" fill="#111">Radial oxygen</text>
<text transform="translate(247.06 589.18) rotate(-36.5)" style="font-size:27.3px;" fill="#111">release</text>
<text transform="translate(231.47 673.61) rotate(23.4)" style="font-size:27.3px;" fill="#111">Sulfide</text>
<text x="26.15" y="746.9" style="font-size:27.3px;" fill="#111">Lucinid-bacteria</text>
<text x="56.75" y="777" style="font-size:27.3px;" fill="#111">consortium</text>
<text x="269.20" y="814.7" style="font-size:27.3px;" fill="#111">Sulfate-reducing</text>
<text x="318.35" y="845.5" style="font-size:27.3px;" fill="#111">bacteria</text>
<radialGradient id="shellg" gradientUnits="userSpaceOnUse" cx="0" cy="0" r="1" gradientTransform="translate(122 598) scale(80 117)"><stop offset="0" stop-color="#eef3f7"/><stop offset="0.35" stop-color="#e9edf0"/><stop offset="0.55" stop-color="#e8e2e0"/><stop offset="0.7" stop-color="#eadbd0"/><stop offset="0.82" stop-color="#e6c8ad"/><stop offset="0.92" stop-color="#dfb38e"/><stop offset="1" stop-color="#dcae88"/></radialGradient>
<linearGradient id="shellside" gradientUnits="userSpaceOnUse" x1="46" y1="0" x2="202" y2="0"><stop offset="0" stop-color="#d08848" stop-opacity="0.3"/><stop offset="0.35" stop-color="#d08848" stop-opacity="0.08"/><stop offset="0.6" stop-color="#ffffff" stop-opacity="0.0"/><stop offset="1" stop-color="#ffffff" stop-opacity="0.45"/></linearGradient>
<g transform="translate(0 0)">
<path d="M117.4,568.5 C121.1,568.8 125.2,571.2 128.4,572.8 C131.7,574.4 132.4,576.3 136.9,577.9 C141.4,579.5 149.7,580.1 155.6,582.1 C161.5,584.1 167.2,586.7 172.6,589.8 C178.0,592.9 183.7,597.0 187.9,600.8 C192.2,604.6 195.8,608.7 198.1,612.7 C200.4,616.7 201.1,620.1 201.5,624.6 C201.9,629.1 201.5,634.2 200.7,639.9 C199.8,645.6 198.5,652.6 196.4,658.6 C194.3,664.6 191.3,670.5 187.9,675.6 C184.5,680.7 180.8,685.0 176.0,689.2 C171.2,693.5 165.2,697.7 159.0,701.1 C152.8,704.5 145.4,707.6 138.6,709.6 C131.8,711.6 125.0,712.7 118.2,713.0 C111.4,713.3 104.3,712.7 97.8,711.3 C91.3,709.9 85.0,707.9 79.1,704.5 C73.1,701.1 66.8,696.3 62.1,690.9 C57.4,685.5 53.7,678.7 51.1,672.2 C48.5,665.7 47.4,658.6 46.8,651.8 C46.2,645.0 46.6,638.2 47.7,631.4 C48.8,624.6 50.6,617.2 53.6,611.0 C56.6,604.8 61.0,598.7 65.5,594.0 C70.0,589.3 76.0,585.8 80.8,583.0 C85.6,580.2 90.2,579.0 94.4,577.0 C98.7,575.0 102.5,572.4 106.3,571.0 C110.1,569.6 113.7,568.2 117.4,568.5Z" fill="url(#shellg)"/>
<path d="M117.4,568.5 C121.1,568.8 125.2,571.2 128.4,572.8 C131.7,574.4 132.4,576.3 136.9,577.9 C141.4,579.5 149.7,580.1 155.6,582.1 C161.5,584.1 167.2,586.7 172.6,589.8 C178.0,592.9 183.7,597.0 187.9,600.8 C192.2,604.6 195.8,608.7 198.1,612.7 C200.4,616.7 201.1,620.1 201.5,624.6 C201.9,629.1 201.5,634.2 200.7,639.9 C199.8,645.6 198.5,652.6 196.4,658.6 C194.3,664.6 191.3,670.5 187.9,675.6 C184.5,680.7 180.8,685.0 176.0,689.2 C171.2,693.5 165.2,697.7 159.0,701.1 C152.8,704.5 145.4,707.6 138.6,709.6 C131.8,711.6 125.0,712.7 118.2,713.0 C111.4,713.3 104.3,712.7 97.8,711.3 C91.3,709.9 85.0,707.9 79.1,704.5 C73.1,701.1 66.8,696.3 62.1,690.9 C57.4,685.5 53.7,678.7 51.1,672.2 C48.5,665.7 47.4,658.6 46.8,651.8 C46.2,645.0 46.6,638.2 47.7,631.4 C48.8,624.6 50.6,617.2 53.6,611.0 C56.6,604.8 61.0,598.7 65.5,594.0 C70.0,589.3 76.0,585.8 80.8,583.0 C85.6,580.2 90.2,579.0 94.4,577.0 C98.7,575.0 102.5,572.4 106.3,571.0 C110.1,569.6 113.7,568.2 117.4,568.5Z" fill="url(#shellside)"/>
<clipPath id="shcL"><path d="M117.4,568.5 C121.1,568.8 125.2,571.2 128.4,572.8 C131.7,574.4 132.4,576.3 136.9,577.9 C141.4,579.5 149.7,580.1 155.6,582.1 C161.5,584.1 167.2,586.7 172.6,589.8 C178.0,592.9 183.7,597.0 187.9,600.8 C192.2,604.6 195.8,608.7 198.1,612.7 C200.4,616.7 201.1,620.1 201.5,624.6 C201.9,629.1 201.5,634.2 200.7,639.9 C199.8,645.6 198.5,652.6 196.4,658.6 C194.3,664.6 191.3,670.5 187.9,675.6 C184.5,680.7 180.8,685.0 176.0,689.2 C171.2,693.5 165.2,697.7 159.0,701.1 C152.8,704.5 145.4,707.6 138.6,709.6 C131.8,711.6 125.0,712.7 118.2,713.0 C111.4,713.3 104.3,712.7 97.8,711.3 C91.3,709.9 85.0,707.9 79.1,704.5 C73.1,701.1 66.8,696.3 62.1,690.9 C57.4,685.5 53.7,678.7 51.1,672.2 C48.5,665.7 47.4,658.6 46.8,651.8 C46.2,645.0 46.6,638.2 47.7,631.4 C48.8,624.6 50.6,617.2 53.6,611.0 C56.6,604.8 61.0,598.7 65.5,594.0 C70.0,589.3 76.0,585.8 80.8,583.0 C85.6,580.2 90.2,579.0 94.4,577.0 C98.7,575.0 102.5,572.4 106.3,571.0 C110.1,569.6 113.7,568.2 117.4,568.5Z"/></clipPath>
<g clip-path="url(#shcL)" fill="none">
<ellipse cx="119.0" cy="570.0" rx="12.2" ry="9.5" stroke="#9aa6b4" stroke-width="1.7" opacity="0.22"/>
<ellipse cx="119.2" cy="570.3" rx="16.0" ry="13.9" stroke="#9aa6b4" stroke-width="1.2" opacity="0.12"/>
<ellipse cx="119.5" cy="570.6" rx="19.9" ry="17.5" stroke="#9aa6b4" stroke-width="0.7" opacity="0.24"/>
<ellipse cx="119.8" cy="570.9" rx="22.4" ry="20.8" stroke="#9aa6b4" stroke-width="1.3" opacity="0.19"/>
<ellipse cx="120.0" cy="571.2" rx="25.0" ry="24.8" stroke="#9aa6b4" stroke-width="1.7" opacity="0.16"/>
<ellipse cx="120.2" cy="571.5" rx="30.0" ry="28.8" stroke="#9aa6b4" stroke-width="0.8" opacity="0.22"/>
<ellipse cx="120.5" cy="571.8" rx="33.2" ry="32.9" stroke="#9aa6b4" stroke-width="1.6" opacity="0.12"/>
<ellipse cx="120.8" cy="572.1" rx="35.9" ry="37.1" stroke="#9aa6b4" stroke-width="1.6" opacity="0.25"/>
<ellipse cx="121.0" cy="572.4" rx="39.6" ry="42.7" stroke="#9aa6b4" stroke-width="1.4" opacity="0.19"/>
<ellipse cx="121.2" cy="572.7" rx="42.9" ry="46.8" stroke="#9aa6b4" stroke-width="1.8" opacity="0.21"/>
<ellipse cx="121.5" cy="573.0" rx="47.8" ry="49.6" stroke="#9aa6b4" stroke-width="0.8" opacity="0.17"/>
<ellipse cx="121.8" cy="573.3" rx="49.8" ry="53.2" stroke="#9aa6b4" stroke-width="1.3" opacity="0.16"/>
<ellipse cx="122.0" cy="573.6" rx="53.0" ry="58.6" stroke="#f2e4d8" stroke-width="1.0" opacity="0.17"/>
<ellipse cx="122.2" cy="573.9" rx="57.1" ry="62.7" stroke="#d9a47a" stroke-width="1.4" opacity="0.29"/>
<ellipse cx="122.5" cy="574.2" rx="60.1" ry="67.4" stroke="#c98a55" stroke-width="1.0" opacity="0.43"/>
<ellipse cx="122.8" cy="574.5" rx="64.3" ry="70.6" stroke="#c78f60" stroke-width="1.3" opacity="0.26"/>
<ellipse cx="123.0" cy="574.8" rx="67.0" ry="73.7" stroke="#d9a47a" stroke-width="1.7" opacity="0.34"/>
<ellipse cx="123.2" cy="575.1" rx="70.7" ry="78.2" stroke="#c78f60" stroke-width="1.0" opacity="0.25"/>
<ellipse cx="123.5" cy="575.4" rx="75.0" ry="83.4" stroke="#c98a55" stroke-width="1.5" opacity="0.33"/>
<ellipse cx="123.8" cy="575.7" rx="78.2" ry="86.5" stroke="#c78f60" stroke-width="0.7" opacity="0.43"/>
<ellipse cx="124.0" cy="576.0" rx="81.7" ry="91.2" stroke="#d9a47a" stroke-width="1.7" opacity="0.25"/>
<ellipse cx="124.2" cy="576.3" rx="85.6" ry="94.7" stroke="#f2e4d8" stroke-width="1.6" opacity="0.24"/>
<ellipse cx="124.5" cy="576.6" rx="89.3" ry="99.6" stroke="#f2e4d8" stroke-width="0.8" opacity="0.45"/>
<ellipse cx="124.8" cy="576.9" rx="91.6" ry="104.3" stroke="#f4ece6" stroke-width="0.6" opacity="0.43"/>
<ellipse cx="125.0" cy="577.2" rx="96.5" ry="107.1" stroke="#f2e4d8" stroke-width="1.1" opacity="0.29"/>
<ellipse cx="125.2" cy="577.5" rx="98.6" ry="112.3" stroke="#c98a55" stroke-width="1.0" opacity="0.39"/>
<ellipse cx="125.5" cy="577.8" rx="102.4" ry="116.6" stroke="#f4ece6" stroke-width="1.4" opacity="0.43"/>
<ellipse cx="125.8" cy="578.1" rx="107.1" ry="118.9" stroke="#c78f60" stroke-width="0.7" opacity="0.26"/>
<ellipse cx="126.0" cy="578.4" rx="109.8" ry="123.1" stroke="#f4ece6" stroke-width="1.8" opacity="0.41"/>
<ellipse cx="126.2" cy="578.7" rx="113.4" ry="127.9" stroke="#f2e4d8" stroke-width="0.9" opacity="0.29"/>
</g>
<path d="M117.4,568.5 C121.1,568.8 125.2,571.2 128.4,572.8 C131.7,574.4 132.4,576.3 136.9,577.9 C141.4,579.5 149.7,580.1 155.6,582.1 C161.5,584.1 167.2,586.7 172.6,589.8 C178.0,592.9 183.7,597.0 187.9,600.8 C192.2,604.6 195.8,608.7 198.1,612.7 C200.4,616.7 201.1,620.1 201.5,624.6 C201.9,629.1 201.5,634.2 200.7,639.9 C199.8,645.6 198.5,652.6 196.4,658.6 C194.3,664.6 191.3,670.5 187.9,675.6 C184.5,680.7 180.8,685.0 176.0,689.2 C171.2,693.5 165.2,697.7 159.0,701.1 C152.8,704.5 145.4,707.6 138.6,709.6 C131.8,711.6 125.0,712.7 118.2,713.0 C111.4,713.3 104.3,712.7 97.8,711.3 C91.3,709.9 85.0,707.9 79.1,704.5 C73.1,701.1 66.8,696.3 62.1,690.9 C57.4,685.5 53.7,678.7 51.1,672.2 C48.5,665.7 47.4,658.6 46.8,651.8 C46.2,645.0 46.6,638.2 47.7,631.4 C48.8,624.6 50.6,617.2 53.6,611.0 C56.6,604.8 61.0,598.7 65.5,594.0 C70.0,589.3 76.0,585.8 80.8,583.0 C85.6,580.2 90.2,579.0 94.4,577.0 C98.7,575.0 102.5,572.4 106.3,571.0 C110.1,569.6 113.7,568.2 117.4,568.5Z" fill="none" stroke="#111" stroke-width="1.7"/>
</g>
<clipPath id="semcL"><circle cx="149.2" cy="651.6" r="34.6"/></clipPath>
<g clip-path="url(#semcL)">
<circle cx="149.2" cy="651.6" r="34.6" fill="#858585"/>
<circle cx="127.19999999999999" cy="666.6" r="6.5" fill="#2e2e2e"/>
<circle cx="141.2" cy="633.6" r="3" fill="#2e2e2e"/>
<circle cx="167.2" cy="673.6" r="4" fill="#2e2e2e"/>
<circle cx="174.2" cy="646.6" r="3" fill="#2e2e2e"/>
<circle cx="121.19999999999999" cy="643.6" r="3.5" fill="#2e2e2e"/>
<circle cx="154.2" cy="656.6" r="2.5" fill="#2e2e2e"/>
<rect x="137.2" y="621.6" width="34" height="10" rx="5" fill="#8e8e8e" stroke="#3a3a3a" stroke-width="0.8" transform="rotate(4 149.2 626.6)"/>
<circle cx="143.2" cy="649.6" r="7.5" fill="rgb(150,150,150)" stroke="#3a3a3a" stroke-width="0.8"/>
<circle cx="161.2" cy="647.6" r="6" fill="rgb(160,160,160)" stroke="#3a3a3a" stroke-width="0.8"/>
<circle cx="131.2" cy="647.6" r="6.5" fill="rgb(140,140,140)" stroke="#3a3a3a" stroke-width="0.8"/>
<circle cx="169.2" cy="661.6" r="6" fill="rgb(135,135,135)" stroke="#3a3a3a" stroke-width="0.8"/>
<rect x="113.19999999999999" y="632.1" width="16" height="9" rx="4.5" fill="rgb(120,120,120)" stroke="#3a3a3a" stroke-width="0.8" transform="rotate(70 121.19999999999999 636.6)"/>
<rect x="138.2" y="667.6" width="22" height="8" rx="4.0" fill="rgb(150,150,150)" stroke="#3a3a3a" stroke-width="0.8" transform="rotate(100 149.2 671.6)"/>
<rect x="160.2" y="674.6" width="14" height="10" rx="5.0" fill="rgb(170,170,170)" stroke="#3a3a3a" stroke-width="0.8" transform="rotate(20 167.2 679.6)"/>
<rect x="127.19999999999999" y="671.1" width="14" height="11" rx="5.5" fill="rgb(130,130,130)" stroke="#3a3a3a" stroke-width="0.8" transform="rotate(80 134.2 676.6)"/>
<circle cx="124.19999999999999" cy="656.6" r="5" fill="rgb(160,160,160)" stroke="#3a3a3a" stroke-width="0.8"/>
<rect x="169.2" y="662.6" width="16" height="8" rx="4.0" fill="rgb(120,120,120)" stroke="#3a3a3a" stroke-width="0.8" transform="rotate(60 177.2 666.6)"/>
<circle cx="154.2" cy="636.6" r="4.5" fill="rgb(175,175,175)" stroke="#3a3a3a" stroke-width="0.8"/>
<rect x="135.2" y="660.1" width="18" height="7" rx="3.5" fill="rgb(145,145,145)" stroke="#3a3a3a" stroke-width="0.8" transform="rotate(10 144.2 663.6)"/>
<circle cx="179.2" cy="633.6" r="5" fill="rgb(130,130,130)" stroke="#3a3a3a" stroke-width="0.8"/>
<circle cx="137.2" cy="625.6" r="5" fill="rgb(155,155,155)" stroke="#3a3a3a" stroke-width="0.8"/>
<circle cx="126.0" cy="664.7" r="1.6" fill="#ececec" opacity="0.85"/>
<circle cx="147.8" cy="631.9" r="1.8" fill="#ececec" opacity="0.85"/>
<circle cx="170.5" cy="652.5" r="1.4" fill="#ececec" opacity="0.85"/>
<circle cx="130.9" cy="617.2" r="1.2" fill="#ececec" opacity="0.85"/>
<circle cx="155.1" cy="621.8" r="1.8" fill="#ececec" opacity="0.85"/>
<circle cx="130.7" cy="633.1" r="0.9" fill="#ececec" opacity="0.85"/>
<circle cx="183.6" cy="668.1" r="1.9" fill="#ececec" opacity="0.85"/>
<circle cx="157.2" cy="619.4" r="1.2" fill="#ececec" opacity="0.85"/>
<circle cx="149.0" cy="625.0" r="1.9" fill="#ececec" opacity="0.85"/>
<circle cx="140.1" cy="627.7" r="1.8" fill="#ececec" opacity="0.85"/>
<circle cx="123.2" cy="681.2" r="1.3" fill="#ececec" opacity="0.85"/>
<circle cx="152.8" cy="640.7" r="1.4" fill="#ececec" opacity="0.85"/>
<circle cx="127.5" cy="619.6" r="1.8" fill="#ececec" opacity="0.85"/>
<circle cx="130.9" cy="671.0" r="1.1" fill="#ececec" opacity="0.85"/>
<circle cx="181.6" cy="678.9" r="1.7" fill="#ececec" opacity="0.85"/>
<circle cx="167.4" cy="657.2" r="1.7" fill="#ececec" opacity="0.85"/>
<circle cx="123.1" cy="650.0" r="1.8" fill="#ececec" opacity="0.85"/>
<circle cx="128.5" cy="680.9" r="1.9" fill="#ececec" opacity="0.85"/>
<circle cx="142.9" cy="642.3" r="1.3" fill="#ececec" opacity="0.85"/>
<circle cx="141.3" cy="685.8" r="1.3" fill="#ececec" opacity="0.85"/>
<circle cx="116.5" cy="623.5" r="1.7" fill="#ececec" opacity="0.85"/>
<circle cx="183.3" cy="651.3" r="1.4" fill="#ececec" opacity="0.85"/>
</g>
<circle cx="149.2" cy="651.6" r="34.6" fill="none" stroke="#0a0a0a" stroke-width="2.0"/>
<clipPath id="sembL"><circle cx="367.9" cy="732.1" r="55.3"/></clipPath>
<g clip-path="url(#sembL)">
<circle cx="367.9" cy="732.1" r="55.3" fill="#6a5c4f"/>
<path d="M365.1,734.7 Q373.5,750.8 388.0,761.9" stroke="#54473b" stroke-width="7.9" stroke-linecap="round" fill="none"/>
<path d="M365.1,734.7 Q373.5,750.8 388.0,761.9" stroke="rgb(156,144,131)" stroke-width="6.7" stroke-linecap="round" fill="none"/>
<path d="M365.1,734.7 Q373.5,750.8 388.0,761.9" stroke="#efe9e2" stroke-width="2.3" stroke-linecap="round" fill="none" opacity="0.15"/>
<path d="M329.6,735.3 Q329.2,750.7 329.3,766.1" stroke="#54473b" stroke-width="8.5" stroke-linecap="round" fill="none"/>
<path d="M329.6,735.3 Q329.2,750.7 329.3,766.1" stroke="rgb(147,135,122)" stroke-width="7.3" stroke-linecap="round" fill="none"/>
<path d="M329.6,735.3 Q329.2,750.7 329.3,766.1" stroke="#efe9e2" stroke-width="2.6" stroke-linecap="round" fill="none" opacity="0.15"/>
<path d="M415.7,739.1 Q426.0,746.2 428.8,758.3" stroke="#54473b" stroke-width="7.6" stroke-linecap="round" fill="none"/>
<path d="M415.7,739.1 Q426.0,746.2 428.8,758.3" stroke="rgb(151,139,126)" stroke-width="6.4" stroke-linecap="round" fill="none"/>
<path d="M415.7,739.1 Q426.0,746.2 428.8,758.3" stroke="#efe9e2" stroke-width="2.2" stroke-linecap="round" fill="none" opacity="0.16"/>
<path d="M414.5,719.0 Q396.4,721.3 379.1,727.1" stroke="#54473b" stroke-width="7.7" stroke-linecap="round" fill="none"/>
<path d="M414.5,719.0 Q396.4,721.3 379.1,727.1" stroke="rgb(141,129,117)" stroke-width="6.5" stroke-linecap="round" fill="none"/>
<path d="M414.5,719.0 Q396.4,721.3 379.1,727.1" stroke="#efe9e2" stroke-width="2.3" stroke-linecap="round" fill="none" opacity="0.16"/>
<path d="M304.5,783.9 Q311.9,792.9 322.4,798.0" stroke="#54473b" stroke-width="8.4" stroke-linecap="round" fill="none"/>
<path d="M304.5,783.9 Q311.9,792.9 322.4,798.0" stroke="rgb(142,130,117)" stroke-width="7.2" stroke-linecap="round" fill="none"/>
<path d="M304.5,783.9 Q311.9,792.9 322.4,798.0" stroke="#efe9e2" stroke-width="2.5" stroke-linecap="round" fill="none" opacity="0.16"/>
<path d="M334.8,700.3 Q346.1,698.6 357.3,700.8" stroke="#54473b" stroke-width="7.6" stroke-linecap="round" fill="none"/>
<path d="M334.8,700.3 Q346.1,698.6 357.3,700.8" stroke="rgb(148,136,123)" stroke-width="6.4" stroke-linecap="round" fill="none"/>
<path d="M334.8,700.3 Q346.1,698.6 357.3,700.8" stroke="#efe9e2" stroke-width="2.3" stroke-linecap="round" fill="none" opacity="0.17"/>
<path d="M337.1,681.0 Q329.1,683.7 321.6,687.6" stroke="#54473b" stroke-width="8.1" stroke-linecap="round" fill="none"/>
<path d="M337.1,681.0 Q329.1,683.7 321.6,687.6" stroke="rgb(143,131,118)" stroke-width="6.9" stroke-linecap="round" fill="none"/>
<path d="M337.1,681.0 Q329.1,683.7 321.6,687.6" stroke="#efe9e2" stroke-width="2.4" stroke-linecap="round" fill="none" opacity="0.17"/>
<path d="M313.3,683.3 Q325.4,682.5 336.5,687.6" stroke="#54473b" stroke-width="7.2" stroke-linecap="round" fill="none"/>
<path d="M313.3,683.3 Q325.4,682.5 336.5,687.6" stroke="rgb(145,133,120)" stroke-width="6.0" stroke-linecap="round" fill="none"/>
<path d="M313.3,683.3 Q325.4,682.5 336.5,687.6" stroke="#efe9e2" stroke-width="2.1" stroke-linecap="round" fill="none" opacity="0.17"/>
<path d="M380.8,714.6 Q384.2,728.2 392.6,739.3" stroke="#54473b" stroke-width="7.7" stroke-linecap="round" fill="none"/>
<path d="M380.8,714.6 Q384.2,728.2 392.6,739.3" stroke="rgb(148,136,123)" stroke-width="6.5" stroke-linecap="round" fill="none"/>
<path d="M380.8,714.6 Q384.2,728.2 392.6,739.3" stroke="#efe9e2" stroke-width="2.3" stroke-linecap="round" fill="none" opacity="0.18"/>
<path d="M324.9,721.8 Q312.8,726.9 305.5,737.8" stroke="#54473b" stroke-width="6.8" stroke-linecap="round" fill="none"/>
<path d="M324.9,721.8 Q312.8,726.9 305.5,737.8" stroke="rgb(142,130,118)" stroke-width="5.6" stroke-linecap="round" fill="none"/>
<path d="M324.9,721.8 Q312.8,726.9 305.5,737.8" stroke="#efe9e2" stroke-width="2.0" stroke-linecap="round" fill="none" opacity="0.18"/>
<path d="M384.2,721.2 Q374.2,728.3 362.0,729.2" stroke="#54473b" stroke-width="8.0" stroke-linecap="round" fill="none"/>
<path d="M384.2,721.2 Q374.2,728.3 362.0,729.2" stroke="rgb(152,140,128)" stroke-width="6.8" stroke-linecap="round" fill="none"/>
<path d="M384.2,721.2 Q374.2,728.3 362.0,729.2" stroke="#efe9e2" stroke-width="2.4" stroke-linecap="round" fill="none" opacity="0.18"/>
<path d="M384.5,666.3 Q382.0,675.0 378.8,683.5" stroke="#54473b" stroke-width="8.1" stroke-linecap="round" fill="none"/>
<path d="M384.5,666.3 Q382.0,675.0 378.8,683.5" stroke="rgb(151,139,127)" stroke-width="6.9" stroke-linecap="round" fill="none"/>
<path d="M384.5,666.3 Q382.0,675.0 378.8,683.5" stroke="#efe9e2" stroke-width="2.4" stroke-linecap="round" fill="none" opacity="0.19"/>
<path d="M387.1,700.5 Q369.3,707.5 350.4,705.0" stroke="#54473b" stroke-width="7.6" stroke-linecap="round" fill="none"/>
<path d="M387.1,700.5 Q369.3,707.5 350.4,705.0" stroke="rgb(151,139,127)" stroke-width="6.4" stroke-linecap="round" fill="none"/>
<path d="M387.1,700.5 Q369.3,707.5 350.4,705.0" stroke="#efe9e2" stroke-width="2.2" stroke-linecap="round" fill="none" opacity="0.19"/>
<path d="M397.3,705.5 Q404.4,711.7 412.8,715.7" stroke="#54473b" stroke-width="8.0" stroke-linecap="round" fill="none"/>
<path d="M397.3,705.5 Q404.4,711.7 412.8,715.7" stroke="rgb(150,138,125)" stroke-width="6.8" stroke-linecap="round" fill="none"/>
<path d="M397.3,705.5 Q404.4,711.7 412.8,715.7" stroke="#efe9e2" stroke-width="2.4" stroke-linecap="round" fill="none" opacity="0.19"/>
<path d="M400.0,754.2 Q381.5,761.4 366.1,774.0" stroke="#54473b" stroke-width="7.5" stroke-linecap="round" fill="none"/>
<path d="M400.0,754.2 Q381.5,761.4 366.1,774.0" stroke="rgb(163,151,138)" stroke-width="6.3" stroke-linecap="round" fill="none"/>
<path d="M400.0,754.2 Q381.5,761.4 366.1,774.0" stroke="#efe9e2" stroke-width="2.2" stroke-linecap="round" fill="none" opacity="0.20"/>
<path d="M413.7,747.8 Q411.9,762.8 412.6,777.8" stroke="#54473b" stroke-width="8.3" stroke-linecap="round" fill="none"/>
<path d="M413.7,747.8 Q411.9,762.8 412.6,777.8" stroke="rgb(159,147,134)" stroke-width="7.1" stroke-linecap="round" fill="none"/>
<path d="M413.7,747.8 Q411.9,762.8 412.6,777.8" stroke="#efe9e2" stroke-width="2.5" stroke-linecap="round" fill="none" opacity="0.20"/>
<path d="M337.5,671.2 Q337.5,682.9 331.6,693.0" stroke="#54473b" stroke-width="7.7" stroke-linecap="round" fill="none"/>
<path d="M337.5,671.2 Q337.5,682.9 331.6,693.0" stroke="rgb(149,137,125)" stroke-width="6.5" stroke-linecap="round" fill="none"/>
<path d="M337.5,671.2 Q337.5,682.9 331.6,693.0" stroke="#efe9e2" stroke-width="2.3" stroke-linecap="round" fill="none" opacity="0.20"/>
<path d="M437.5,667.0 Q419.8,675.8 408.7,692.1" stroke="#54473b" stroke-width="7.7" stroke-linecap="round" fill="none"/>
<path d="M437.5,667.0 Q419.8,675.8 408.7,692.1" stroke="rgb(160,148,135)" stroke-width="6.5" stroke-linecap="round" fill="none"/>
<path d="M437.5,667.0 Q419.8,675.8 408.7,692.1" stroke="#efe9e2" stroke-width="2.3" stroke-linecap="round" fill="none" opacity="0.21"/>
<path d="M320.0,782.6 Q308.4,789.4 294.9,789.3" stroke="#54473b" stroke-width="8.2" stroke-linecap="round" fill="none"/>
<path d="M320.0,782.6 Q308.4,789.4 294.9,789.3" stroke="rgb(147,135,123)" stroke-width="7.0" stroke-linecap="round" fill="none"/>
<path d="M320.0,782.6 Q308.4,789.4 294.9,789.3" stroke="#efe9e2" stroke-width="2.5" stroke-linecap="round" fill="none" opacity="0.21"/>
<path d="M296.0,755.0 Q310.0,765.5 322.3,778.0" stroke="#54473b" stroke-width="6.8" stroke-linecap="round" fill="none"/>
<path d="M296.0,755.0 Q310.0,765.5 322.3,778.0" stroke="rgb(163,151,138)" stroke-width="5.6" stroke-linecap="round" fill="none"/>
<path d="M296.0,755.0 Q310.0,765.5 322.3,778.0" stroke="#efe9e2" stroke-width="2.0" stroke-linecap="round" fill="none" opacity="0.21"/>
<path d="M411.5,763.4 Q400.8,780.6 383.3,790.8" stroke="#54473b" stroke-width="8.3" stroke-linecap="round" fill="none"/>
<path d="M411.5,763.4 Q400.8,780.6 383.3,790.8" stroke="rgb(148,136,123)" stroke-width="7.1" stroke-linecap="round" fill="none"/>
<path d="M411.5,763.4 Q400.8,780.6 383.3,790.8" stroke="#efe9e2" stroke-width="2.5" stroke-linecap="round" fill="none" opacity="0.22"/>
<path d="M401.4,742.0 Q413.0,745.2 423.3,751.3" stroke="#54473b" stroke-width="7.3" stroke-linecap="round" fill="none"/>
<path d="M401.4,742.0 Q413.0,745.2 423.3,751.3" stroke="rgb(158,146,133)" stroke-width="6.1" stroke-linecap="round" fill="none"/>
<path d="M401.4,742.0 Q413.0,745.2 423.3,751.3" stroke="#efe9e2" stroke-width="2.1" stroke-linecap="round" fill="none" opacity="0.22"/>
<path d="M354.5,690.2 Q364.1,692.4 369.0,700.9" stroke="#54473b" stroke-width="6.9" stroke-linecap="round" fill="none"/>
<path d="M354.5,690.2 Q364.1,692.4 369.0,700.9" stroke="rgb(157,145,132)" stroke-width="5.7" stroke-linecap="round" fill="none"/>
<path d="M354.5,690.2 Q364.1,692.4 369.0,700.9" stroke="#efe9e2" stroke-width="2.0" stroke-linecap="round" fill="none" opacity="0.22"/>
<path d="M320.7,754.5 Q325.2,768.6 324.4,783.3" stroke="#54473b" stroke-width="7.9" stroke-linecap="round" fill="none"/>
<path d="M320.7,754.5 Q325.2,768.6 324.4,783.3" stroke="rgb(149,137,125)" stroke-width="6.7" stroke-linecap="round" fill="none"/>
<path d="M320.7,754.5 Q325.2,768.6 324.4,783.3" stroke="#efe9e2" stroke-width="2.3" stroke-linecap="round" fill="none" opacity="0.23"/>
<path d="M307.6,703.3 Q313.9,714.5 324.9,720.9" stroke="#54473b" stroke-width="7.2" stroke-linecap="round" fill="none"/>
<path d="M307.6,703.3 Q313.9,714.5 324.9,720.9" stroke="rgb(150,138,125)" stroke-width="6.0" stroke-linecap="round" fill="none"/>
<path d="M307.6,703.3 Q313.9,714.5 324.9,720.9" stroke="#efe9e2" stroke-width="2.1" stroke-linecap="round" fill="none" opacity="0.23"/>
<path d="M369.0,709.1 Q365.1,720.7 354.3,726.4" stroke="#54473b" stroke-width="7.0" stroke-linecap="round" fill="none"/>
<path d="M369.0,709.1 Q365.1,720.7 354.3,726.4" stroke="rgb(153,141,128)" stroke-width="5.8" stroke-linecap="round" fill="none"/>
<path d="M369.0,709.1 Q365.1,720.7 354.3,726.4" stroke="#efe9e2" stroke-width="2.0" stroke-linecap="round" fill="none" opacity="0.23"/>
<path d="M435.9,712.3 Q426.1,708.6 417.2,714.1" stroke="#54473b" stroke-width="7.9" stroke-linecap="round" fill="none"/>
<path d="M435.9,712.3 Q426.1,708.6 417.2,714.1" stroke="rgb(157,145,132)" stroke-width="6.7" stroke-linecap="round" fill="none"/>
<path d="M435.9,712.3 Q426.1,708.6 417.2,714.1" stroke="#efe9e2" stroke-width="2.3" stroke-linecap="round" fill="none" opacity="0.24"/>
<path d="M414.6,669.3 Q404.2,673.6 397.2,682.4" stroke="#54473b" stroke-width="7.6" stroke-linecap="round" fill="none"/>
<path d="M414.6,669.3 Q404.2,673.6 397.2,682.4" stroke="rgb(159,147,134)" stroke-width="6.4" stroke-linecap="round" fill="none"/>
<path d="M414.6,669.3 Q404.2,673.6 397.2,682.4" stroke="#efe9e2" stroke-width="2.3" stroke-linecap="round" fill="none" opacity="0.24"/>
<path d="M401.2,671.7 Q411.9,683.5 426.9,689.0" stroke="#54473b" stroke-width="7.0" stroke-linecap="round" fill="none"/>
<path d="M401.2,671.7 Q411.9,683.5 426.9,689.0" stroke="rgb(160,148,135)" stroke-width="5.8" stroke-linecap="round" fill="none"/>
<path d="M401.2,671.7 Q411.9,683.5 426.9,689.0" stroke="#efe9e2" stroke-width="2.0" stroke-linecap="round" fill="none" opacity="0.24"/>
<path d="M422.3,700.8 Q407.0,708.2 390.2,710.4" stroke="#54473b" stroke-width="7.9" stroke-linecap="round" fill="none"/>
<path d="M422.3,700.8 Q407.0,708.2 390.2,710.4" stroke="rgb(165,153,140)" stroke-width="6.7" stroke-linecap="round" fill="none"/>
<path d="M422.3,700.8 Q407.0,708.2 390.2,710.4" stroke="#efe9e2" stroke-width="2.3" stroke-linecap="round" fill="none" opacity="0.25"/>
<path d="M419.0,756.4 Q420.6,769.9 427.3,781.7" stroke="#54473b" stroke-width="6.8" stroke-linecap="round" fill="none"/>
<path d="M419.0,756.4 Q420.6,769.9 427.3,781.7" stroke="rgb(156,144,131)" stroke-width="5.6" stroke-linecap="round" fill="none"/>
<path d="M419.0,756.4 Q420.6,769.9 427.3,781.7" stroke="#efe9e2" stroke-width="2.0" stroke-linecap="round" fill="none" opacity="0.25"/>
<path d="M329.8,665.5 Q336.4,673.7 336.9,684.2" stroke="#54473b" stroke-width="7.6" stroke-linecap="round" fill="none"/>
<path d="M329.8,665.5 Q336.4,673.7 336.9,684.2" stroke="rgb(161,149,136)" stroke-width="6.4" stroke-linecap="round" fill="none"/>
<path d="M329.8,665.5 Q336.4,673.7 336.9,684.2" stroke="#efe9e2" stroke-width="2.2" stroke-linecap="round" fill="none" opacity="0.25"/>
<path d="M400.2,673.1 Q395.4,682.4 398.9,692.3" stroke="#54473b" stroke-width="8.4" stroke-linecap="round" fill="none"/>
<path d="M400.2,673.1 Q395.4,682.4 398.9,692.3" stroke="rgb(165,153,140)" stroke-width="7.2" stroke-linecap="round" fill="none"/>
<path d="M400.2,673.1 Q395.4,682.4 398.9,692.3" stroke="#efe9e2" stroke-width="2.5" stroke-linecap="round" fill="none" opacity="0.26"/>
<path d="M336.8,771.7 Q318.2,779.0 298.9,784.1" stroke="#54473b" stroke-width="7.7" stroke-linecap="round" fill="none"/>
<path d="M336.8,771.7 Q318.2,779.0 298.9,784.1" stroke="rgb(166,154,140)" stroke-width="6.5" stroke-linecap="round" fill="none"/>
<path d="M336.8,771.7 Q318.2,779.0 298.9,784.1" stroke="#efe9e2" stroke-width="2.3" stroke-linecap="round" fill="none" opacity="0.26"/>
<path d="M403.8,778.8 Q403.1,792.7 403.2,806.6" stroke="#54473b" stroke-width="7.2" stroke-linecap="round" fill="none"/>
<path d="M403.8,778.8 Q403.1,792.7 403.2,806.6" stroke="rgb(165,153,140)" stroke-width="6.0" stroke-linecap="round" fill="none"/>
<path d="M403.8,778.8 Q403.1,792.7 403.2,806.6" stroke="#efe9e2" stroke-width="2.1" stroke-linecap="round" fill="none" opacity="0.26"/>
<path d="M327.3,714.2 Q342.6,725.5 355.3,739.8" stroke="#54473b" stroke-width="7.1" stroke-linecap="round" fill="none"/>
<path d="M327.3,714.2 Q342.6,725.5 355.3,739.8" stroke="rgb(172,160,147)" stroke-width="5.9" stroke-linecap="round" fill="none"/>
<path d="M327.3,714.2 Q342.6,725.5 355.3,739.8" stroke="#efe9e2" stroke-width="2.1" stroke-linecap="round" fill="none" opacity="0.27"/>
<path d="M361.5,764.9 Q344.9,775.0 326.1,779.5" stroke="#54473b" stroke-width="8.2" stroke-linecap="round" fill="none"/>
<path d="M361.5,764.9 Q344.9,775.0 326.1,779.5" stroke="rgb(164,152,139)" stroke-width="7.0" stroke-linecap="round" fill="none"/>
<path d="M361.5,764.9 Q344.9,775.0 326.1,779.5" stroke="#efe9e2" stroke-width="2.5" stroke-linecap="round" fill="none" opacity="0.27"/>
<path d="M421.5,694.9 Q408.1,702.3 393.5,706.9" stroke="#54473b" stroke-width="8.5" stroke-linecap="round" fill="none"/>
<path d="M421.5,694.9 Q408.1,702.3 393.5,706.9" stroke="rgb(158,146,133)" stroke-width="7.3" stroke-linecap="round" fill="none"/>
<path d="M421.5,694.9 Q408.1,702.3 393.5,706.9" stroke="#efe9e2" stroke-width="2.5" stroke-linecap="round" fill="none" opacity="0.27"/>
<path d="M301.1,698.4 Q309.2,710.6 319.7,720.9" stroke="#54473b" stroke-width="8.2" stroke-linecap="round" fill="none"/>
<path d="M301.1,698.4 Q309.2,710.6 319.7,720.9" stroke="rgb(169,157,144)" stroke-width="7.0" stroke-linecap="round" fill="none"/>
<path d="M301.1,698.4 Q309.2,710.6 319.7,720.9" stroke="#efe9e2" stroke-width="2.5" stroke-linecap="round" fill="none" opacity="0.28"/>
<path d="M400.8,697.0 Q411.4,709.3 415.1,725.2" stroke="#54473b" stroke-width="7.2" stroke-linecap="round" fill="none"/>
<path d="M400.8,697.0 Q411.4,709.3 415.1,725.2" stroke="rgb(173,161,147)" stroke-width="6.0" stroke-linecap="round" fill="none"/>
<path d="M400.8,697.0 Q411.4,709.3 415.1,725.2" stroke="#efe9e2" stroke-width="2.1" stroke-linecap="round" fill="none" opacity="0.28"/>
<path d="M400.7,671.4 Q417.3,672.8 433.3,677.9" stroke="#54473b" stroke-width="7.4" stroke-linecap="round" fill="none"/>
<path d="M400.7,671.4 Q417.3,672.8 433.3,677.9" stroke="rgb(175,163,150)" stroke-width="6.2" stroke-linecap="round" fill="none"/>
<path d="M400.7,671.4 Q417.3,672.8 433.3,677.9" stroke="#efe9e2" stroke-width="2.2" stroke-linecap="round" fill="none" opacity="0.28"/>
<path d="M351.1,724.6 Q362.8,730.4 368.2,742.2" stroke="#54473b" stroke-width="7.1" stroke-linecap="round" fill="none"/>
<path d="M351.1,724.6 Q362.8,730.4 368.2,742.2" stroke="rgb(158,146,133)" stroke-width="5.9" stroke-linecap="round" fill="none"/>
<path d="M351.1,724.6 Q362.8,730.4 368.2,742.2" stroke="#efe9e2" stroke-width="2.1" stroke-linecap="round" fill="none" opacity="0.29"/>
<path d="M363.0,749.7 Q377.1,758.4 385.1,773.0" stroke="#54473b" stroke-width="8.6" stroke-linecap="round" fill="none"/>
<path d="M363.0,749.7 Q377.1,758.4 385.1,773.0" stroke="rgb(167,155,142)" stroke-width="7.4" stroke-linecap="round" fill="none"/>
<path d="M363.0,749.7 Q377.1,758.4 385.1,773.0" stroke="#efe9e2" stroke-width="2.6" stroke-linecap="round" fill="none" opacity="0.29"/>
<path d="M359.7,677.6 Q350.0,694.8 335.3,708.0" stroke="#54473b" stroke-width="6.9" stroke-linecap="round" fill="none"/>
<path d="M359.7,677.6 Q350.0,694.8 335.3,708.0" stroke="rgb(175,163,150)" stroke-width="5.7" stroke-linecap="round" fill="none"/>
<path d="M359.7,677.6 Q350.0,694.8 335.3,708.0" stroke="#efe9e2" stroke-width="2.0" stroke-linecap="round" fill="none" opacity="0.29"/>
<path d="M346.2,697.9 Q353.9,706.8 358.3,717.6" stroke="#54473b" stroke-width="7.8" stroke-linecap="round" fill="none"/>
<path d="M346.2,697.9 Q353.9,706.8 358.3,717.6" stroke="rgb(171,159,146)" stroke-width="6.6" stroke-linecap="round" fill="none"/>
<path d="M346.2,697.9 Q353.9,706.8 358.3,717.6" stroke="#efe9e2" stroke-width="2.3" stroke-linecap="round" fill="none" opacity="0.30"/>
<path d="M306.3,723.8 Q310.8,738.7 322.4,749.1" stroke="#54473b" stroke-width="8.3" stroke-linecap="round" fill="none"/>
<path d="M306.3,723.8 Q310.8,738.7 322.4,749.1" stroke="rgb(173,161,148)" stroke-width="7.1" stroke-linecap="round" fill="none"/>
<path d="M306.3,723.8 Q310.8,738.7 322.4,749.1" stroke="#efe9e2" stroke-width="2.5" stroke-linecap="round" fill="none" opacity="0.30"/>
<path d="M347.5,678.9 Q356.8,691.3 366.6,703.4" stroke="#54473b" stroke-width="6.9" stroke-linecap="round" fill="none"/>
<path d="M347.5,678.9 Q356.8,691.3 366.6,703.4" stroke="rgb(164,152,139)" stroke-width="5.7" stroke-linecap="round" fill="none"/>
<path d="M347.5,678.9 Q356.8,691.3 366.6,703.4" stroke="#efe9e2" stroke-width="2.0" stroke-linecap="round" fill="none" opacity="0.30"/>
<path d="M388.3,756.5 Q386.5,764.6 381.7,771.4" stroke="#54473b" stroke-width="7.0" stroke-linecap="round" fill="none"/>
<path d="M388.3,756.5 Q386.5,764.6 381.7,771.4" stroke="rgb(175,163,150)" stroke-width="5.8" stroke-linecap="round" fill="none"/>
<path d="M388.3,756.5 Q386.5,764.6 381.7,771.4" stroke="#efe9e2" stroke-width="2.0" stroke-linecap="round" fill="none" opacity="0.31"/>
<path d="M417.1,694.2 Q427.8,707.8 432.8,724.4" stroke="#54473b" stroke-width="8.5" stroke-linecap="round" fill="none"/>
<path d="M417.1,694.2 Q427.8,707.8 432.8,724.4" stroke="rgb(175,163,149)" stroke-width="7.3" stroke-linecap="round" fill="none"/>
<path d="M417.1,694.2 Q427.8,707.8 432.8,724.4" stroke="#efe9e2" stroke-width="2.5" stroke-linecap="round" fill="none" opacity="0.31"/>
<path d="M333.1,734.9 Q316.6,739.0 300.5,744.0" stroke="#54473b" stroke-width="8.1" stroke-linecap="round" fill="none"/>
<path d="M333.1,734.9 Q316.6,739.0 300.5,744.0" stroke="rgb(170,158,145)" stroke-width="6.9" stroke-linecap="round" fill="none"/>
<path d="M333.1,734.9 Q316.6,739.0 300.5,744.0" stroke="#efe9e2" stroke-width="2.4" stroke-linecap="round" fill="none" opacity="0.31"/>
<path d="M393.4,738.3 Q380.4,747.6 374.3,762.3" stroke="#54473b" stroke-width="8.1" stroke-linecap="round" fill="none"/>
<path d="M393.4,738.3 Q380.4,747.6 374.3,762.3" stroke="rgb(175,163,149)" stroke-width="6.9" stroke-linecap="round" fill="none"/>
<path d="M393.4,738.3 Q380.4,747.6 374.3,762.3" stroke="#efe9e2" stroke-width="2.4" stroke-linecap="round" fill="none" opacity="0.32"/>
<path d="M424.2,754.3 Q412.1,758.9 403.8,768.9" stroke="#54473b" stroke-width="7.3" stroke-linecap="round" fill="none"/>
<path d="M424.2,754.3 Q412.1,758.9 403.8,768.9" stroke="rgb(180,168,155)" stroke-width="6.1" stroke-linecap="round" fill="none"/>
<path d="M424.2,754.3 Q412.1,758.9 403.8,768.9" stroke="#efe9e2" stroke-width="2.1" stroke-linecap="round" fill="none" opacity="0.32"/>
<path d="M416.5,766.1 Q415.2,782.4 416.6,798.7" stroke="#54473b" stroke-width="7.2" stroke-linecap="round" fill="none"/>
<path d="M416.5,766.1 Q415.2,782.4 416.6,798.7" stroke="rgb(181,169,156)" stroke-width="6.0" stroke-linecap="round" fill="none"/>
<path d="M416.5,766.1 Q415.2,782.4 416.6,798.7" stroke="#efe9e2" stroke-width="2.1" stroke-linecap="round" fill="none" opacity="0.32"/>
<path d="M367.0,691.8 Q351.6,700.1 334.2,701.4" stroke="#54473b" stroke-width="7.0" stroke-linecap="round" fill="none"/>
<path d="M367.0,691.8 Q351.6,700.1 334.2,701.4" stroke="rgb(166,154,141)" stroke-width="5.8" stroke-linecap="round" fill="none"/>
<path d="M367.0,691.8 Q351.6,700.1 334.2,701.4" stroke="#efe9e2" stroke-width="2.0" stroke-linecap="round" fill="none" opacity="0.33"/>
<path d="M383.0,766.1 Q376.0,775.1 365.6,779.5" stroke="#54473b" stroke-width="6.7" stroke-linecap="round" fill="none"/>
<path d="M383.0,766.1 Q376.0,775.1 365.6,779.5" stroke="rgb(175,163,150)" stroke-width="5.5" stroke-linecap="round" fill="none"/>
<path d="M383.0,766.1 Q376.0,775.1 365.6,779.5" stroke="#efe9e2" stroke-width="1.9" stroke-linecap="round" fill="none" opacity="0.33"/>
<path d="M392.6,716.6 Q399.3,731.4 406.5,746.0" stroke="#54473b" stroke-width="7.4" stroke-linecap="round" fill="none"/>
<path d="M392.6,716.6 Q399.3,731.4 406.5,746.0" stroke="rgb(165,153,140)" stroke-width="6.2" stroke-linecap="round" fill="none"/>
<path d="M392.6,716.6 Q399.3,731.4 406.5,746.0" stroke="#efe9e2" stroke-width="2.2" stroke-linecap="round" fill="none" opacity="0.33"/>
<path d="M318.2,704.6 Q328.3,717.8 344.1,723.0" stroke="#54473b" stroke-width="7.1" stroke-linecap="round" fill="none"/>
<path d="M318.2,704.6 Q328.3,717.8 344.1,723.0" stroke="rgb(178,166,153)" stroke-width="5.9" stroke-linecap="round" fill="none"/>
<path d="M318.2,704.6 Q328.3,717.8 344.1,723.0" stroke="#efe9e2" stroke-width="2.1" stroke-linecap="round" fill="none" opacity="0.34"/>
<path d="M370.9,757.8 Q356.3,765.8 343.1,775.8" stroke="#54473b" stroke-width="7.7" stroke-linecap="round" fill="none"/>
<path d="M370.9,757.8 Q356.3,765.8 343.1,775.8" stroke="rgb(168,156,143)" stroke-width="6.5" stroke-linecap="round" fill="none"/>
<path d="M370.9,757.8 Q356.3,765.8 343.1,775.8" stroke="#efe9e2" stroke-width="2.3" stroke-linecap="round" fill="none" opacity="0.34"/>
<path d="M354.6,708.8 Q361.7,717.8 363.7,729.0" stroke="#54473b" stroke-width="8.4" stroke-linecap="round" fill="none"/>
<path d="M354.6,708.8 Q361.7,717.8 363.7,729.0" stroke="rgb(168,156,143)" stroke-width="7.2" stroke-linecap="round" fill="none"/>
<path d="M354.6,708.8 Q361.7,717.8 363.7,729.0" stroke="#efe9e2" stroke-width="2.5" stroke-linecap="round" fill="none" opacity="0.34"/>
<path d="M355.6,689.3 Q348.9,696.1 339.7,693.8" stroke="#54473b" stroke-width="7.7" stroke-linecap="round" fill="none"/>
<path d="M355.6,689.3 Q348.9,696.1 339.7,693.8" stroke="rgb(177,165,152)" stroke-width="6.5" stroke-linecap="round" fill="none"/>
<path d="M355.6,689.3 Q348.9,696.1 339.7,693.8" stroke="#efe9e2" stroke-width="2.3" stroke-linecap="round" fill="none" opacity="0.35"/>
<path d="M347.2,728.7 Q327.8,727.2 308.7,731.4" stroke="#54473b" stroke-width="7.4" stroke-linecap="round" fill="none"/>
<path d="M347.2,728.7 Q327.8,727.2 308.7,731.4" stroke="rgb(177,165,152)" stroke-width="6.2" stroke-linecap="round" fill="none"/>
<path d="M347.2,728.7 Q327.8,727.2 308.7,731.4" stroke="#efe9e2" stroke-width="2.2" stroke-linecap="round" fill="none" opacity="0.35"/>
<path d="M330.0,708.5 Q313.3,716.2 302.9,731.3" stroke="#54473b" stroke-width="8.0" stroke-linecap="round" fill="none"/>
<path d="M330.0,708.5 Q313.3,716.2 302.9,731.3" stroke="rgb(175,163,150)" stroke-width="6.8" stroke-linecap="round" fill="none"/>
<path d="M330.0,708.5 Q313.3,716.2 302.9,731.3" stroke="#efe9e2" stroke-width="2.4" stroke-linecap="round" fill="none" opacity="0.35"/>
<path d="M410.3,763.6 Q393.4,772.6 375.2,778.7" stroke="#54473b" stroke-width="8.3" stroke-linecap="round" fill="none"/>
<path d="M410.3,763.6 Q393.4,772.6 375.2,778.7" stroke="rgb(176,164,150)" stroke-width="7.1" stroke-linecap="round" fill="none"/>
<path d="M410.3,763.6 Q393.4,772.6 375.2,778.7" stroke="#efe9e2" stroke-width="2.5" stroke-linecap="round" fill="none" opacity="0.36"/>
<path d="M377.8,674.8 Q385.4,684.3 387.1,696.2" stroke="#54473b" stroke-width="7.0" stroke-linecap="round" fill="none"/>
<path d="M377.8,674.8 Q385.4,684.3 387.1,696.2" stroke="rgb(182,170,156)" stroke-width="5.8" stroke-linecap="round" fill="none"/>
<path d="M377.8,674.8 Q385.4,684.3 387.1,696.2" stroke="#efe9e2" stroke-width="2.0" stroke-linecap="round" fill="none" opacity="0.36"/>
<path d="M361.9,674.8 Q344.2,676.0 327.2,680.8" stroke="#54473b" stroke-width="7.0" stroke-linecap="round" fill="none"/>
<path d="M361.9,674.8 Q344.2,676.0 327.2,680.8" stroke="rgb(171,159,146)" stroke-width="5.8" stroke-linecap="round" fill="none"/>
<path d="M361.9,674.8 Q344.2,676.0 327.2,680.8" stroke="#efe9e2" stroke-width="2.0" stroke-linecap="round" fill="none" opacity="0.36"/>
<path d="M336.5,675.5 Q332.1,690.7 330.8,706.4" stroke="#54473b" stroke-width="8.2" stroke-linecap="round" fill="none"/>
<path d="M336.5,675.5 Q332.1,690.7 330.8,706.4" stroke="rgb(185,173,159)" stroke-width="7.0" stroke-linecap="round" fill="none"/>
<path d="M336.5,675.5 Q332.1,690.7 330.8,706.4" stroke="#efe9e2" stroke-width="2.5" stroke-linecap="round" fill="none" opacity="0.37"/>
<path d="M404.5,737.1 Q412.3,745.1 423.2,747.6" stroke="#54473b" stroke-width="8.3" stroke-linecap="round" fill="none"/>
<path d="M404.5,737.1 Q412.3,745.1 423.2,747.6" stroke="rgb(183,171,158)" stroke-width="7.1" stroke-linecap="round" fill="none"/>
<path d="M404.5,737.1 Q412.3,745.1 423.2,747.6" stroke="#efe9e2" stroke-width="2.5" stroke-linecap="round" fill="none" opacity="0.37"/>
<path d="M412.6,762.9 Q421.0,773.5 434.0,777.1" stroke="#54473b" stroke-width="7.5" stroke-linecap="round" fill="none"/>
<path d="M412.6,762.9 Q421.0,773.5 434.0,777.1" stroke="rgb(188,176,163)" stroke-width="6.3" stroke-linecap="round" fill="none"/>
<path d="M412.6,762.9 Q421.0,773.5 434.0,777.1" stroke="#efe9e2" stroke-width="2.2" stroke-linecap="round" fill="none" opacity="0.37"/>
<path d="M320.2,668.0 Q306.4,668.5 294.5,675.4" stroke="#54473b" stroke-width="8.4" stroke-linecap="round" fill="none"/>
<path d="M320.2,668.0 Q306.4,668.5 294.5,675.4" stroke="rgb(173,161,147)" stroke-width="7.2" stroke-linecap="round" fill="none"/>
<path d="M320.2,668.0 Q306.4,668.5 294.5,675.4" stroke="#efe9e2" stroke-width="2.5" stroke-linecap="round" fill="none" opacity="0.38"/>
<path d="M324.7,754.5 Q335.9,763.1 339.0,776.9" stroke="#54473b" stroke-width="8.5" stroke-linecap="round" fill="none"/>
<path d="M324.7,754.5 Q335.9,763.1 339.0,776.9" stroke="rgb(181,169,156)" stroke-width="7.3" stroke-linecap="round" fill="none"/>
<path d="M324.7,754.5 Q335.9,763.1 339.0,776.9" stroke="#efe9e2" stroke-width="2.6" stroke-linecap="round" fill="none" opacity="0.38"/>
<path d="M402.5,742.6 Q411.2,759.9 427.0,770.8" stroke="#54473b" stroke-width="7.7" stroke-linecap="round" fill="none"/>
<path d="M402.5,742.6 Q411.2,759.9 427.0,770.8" stroke="rgb(175,163,149)" stroke-width="6.5" stroke-linecap="round" fill="none"/>
<path d="M402.5,742.6 Q411.2,759.9 427.0,770.8" stroke="#efe9e2" stroke-width="2.3" stroke-linecap="round" fill="none" opacity="0.38"/>
<path d="M366.9,785.9 Q360.9,794.2 351.8,798.8" stroke="#54473b" stroke-width="8.1" stroke-linecap="round" fill="none"/>
<path d="M366.9,785.9 Q360.9,794.2 351.8,798.8" stroke="rgb(192,180,167)" stroke-width="6.9" stroke-linecap="round" fill="none"/>
<path d="M366.9,785.9 Q360.9,794.2 351.8,798.8" stroke="#efe9e2" stroke-width="2.4" stroke-linecap="round" fill="none" opacity="0.39"/>
<path d="M420.9,679.8 Q404.0,691.4 383.8,694.1" stroke="#54473b" stroke-width="7.6" stroke-linecap="round" fill="none"/>
<path d="M420.9,679.8 Q404.0,691.4 383.8,694.1" stroke="rgb(189,177,163)" stroke-width="6.4" stroke-linecap="round" fill="none"/>
<path d="M420.9,679.8 Q404.0,691.4 383.8,694.1" stroke="#efe9e2" stroke-width="2.2" stroke-linecap="round" fill="none" opacity="0.39"/>
<path d="M377.7,753.1 Q376.0,762.2 378.9,771.0" stroke="#54473b" stroke-width="8.2" stroke-linecap="round" fill="none"/>
<path d="M377.7,753.1 Q376.0,762.2 378.9,771.0" stroke="rgb(177,165,152)" stroke-width="7.0" stroke-linecap="round" fill="none"/>
<path d="M377.7,753.1 Q376.0,762.2 378.9,771.0" stroke="#efe9e2" stroke-width="2.5" stroke-linecap="round" fill="none" opacity="0.39"/>
<path d="M360.5,726.0 Q347.2,731.5 333.5,726.9" stroke="#54473b" stroke-width="8.5" stroke-linecap="round" fill="none"/>
<path d="M360.5,726.0 Q347.2,731.5 333.5,726.9" stroke="rgb(187,175,161)" stroke-width="7.3" stroke-linecap="round" fill="none"/>
<path d="M360.5,726.0 Q347.2,731.5 333.5,726.9" stroke="#efe9e2" stroke-width="2.5" stroke-linecap="round" fill="none" opacity="0.40"/>
<path d="M337.1,772.3 Q322.1,772.7 309.9,781.3" stroke="#54473b" stroke-width="8.4" stroke-linecap="round" fill="none"/>
<path d="M337.1,772.3 Q322.1,772.7 309.9,781.3" stroke="rgb(178,166,153)" stroke-width="7.2" stroke-linecap="round" fill="none"/>
<path d="M337.1,772.3 Q322.1,772.7 309.9,781.3" stroke="#efe9e2" stroke-width="2.5" stroke-linecap="round" fill="none" opacity="0.40"/>
<path d="M324.9,756.8 Q315.0,766.2 304.1,774.3" stroke="#54473b" stroke-width="7.5" stroke-linecap="round" fill="none"/>
<path d="M324.9,756.8 Q315.0,766.2 304.1,774.3" stroke="rgb(190,178,164)" stroke-width="6.3" stroke-linecap="round" fill="none"/>
<path d="M324.9,756.8 Q315.0,766.2 304.1,774.3" stroke="#efe9e2" stroke-width="2.2" stroke-linecap="round" fill="none" opacity="0.40"/>
<path d="M358.4,720.8 Q352.1,731.8 345.1,742.5" stroke="#54473b" stroke-width="6.7" stroke-linecap="round" fill="none"/>
<path d="M358.4,720.8 Q352.1,731.8 345.1,742.5" stroke="rgb(187,175,162)" stroke-width="5.5" stroke-linecap="round" fill="none"/>
<path d="M358.4,720.8 Q352.1,731.8 345.1,742.5" stroke="#efe9e2" stroke-width="1.9" stroke-linecap="round" fill="none" opacity="0.41"/>
<path d="M402.9,779.9 Q390.7,782.6 378.2,782.9" stroke="#54473b" stroke-width="8.0" stroke-linecap="round" fill="none"/>
<path d="M402.9,779.9 Q390.7,782.6 378.2,782.9" stroke="rgb(187,175,162)" stroke-width="6.8" stroke-linecap="round" fill="none"/>
<path d="M402.9,779.9 Q390.7,782.6 378.2,782.9" stroke="#efe9e2" stroke-width="2.4" stroke-linecap="round" fill="none" opacity="0.41"/>
<path d="M358.9,748.2 Q352.6,755.5 343.1,753.5" stroke="#54473b" stroke-width="7.3" stroke-linecap="round" fill="none"/>
<path d="M358.9,748.2 Q352.6,755.5 343.1,753.5" stroke="rgb(178,166,153)" stroke-width="6.1" stroke-linecap="round" fill="none"/>
<path d="M358.9,748.2 Q352.6,755.5 343.1,753.5" stroke="#efe9e2" stroke-width="2.1" stroke-linecap="round" fill="none" opacity="0.41"/>
<path d="M341.3,686.3 Q350.2,702.2 355.0,719.8" stroke="#54473b" stroke-width="8.4" stroke-linecap="round" fill="none"/>
<path d="M341.3,686.3 Q350.2,702.2 355.0,719.8" stroke="rgb(184,172,158)" stroke-width="7.2" stroke-linecap="round" fill="none"/>
<path d="M341.3,686.3 Q350.2,702.2 355.0,719.8" stroke="#efe9e2" stroke-width="2.5" stroke-linecap="round" fill="none" opacity="0.42"/>
<path d="M405.2,769.3 Q422.5,777.9 441.2,782.8" stroke="#54473b" stroke-width="6.7" stroke-linecap="round" fill="none"/>
<path d="M405.2,769.3 Q422.5,777.9 441.2,782.8" stroke="rgb(184,172,159)" stroke-width="5.5" stroke-linecap="round" fill="none"/>
<path d="M405.2,769.3 Q422.5,777.9 441.2,782.8" stroke="#efe9e2" stroke-width="1.9" stroke-linecap="round" fill="none" opacity="0.42"/>
<path d="M312.8,672.3 Q315.4,684.9 326.1,692.0" stroke="#54473b" stroke-width="7.9" stroke-linecap="round" fill="none"/>
<path d="M312.8,672.3 Q315.4,684.9 326.1,692.0" stroke="rgb(181,169,156)" stroke-width="6.7" stroke-linecap="round" fill="none"/>
<path d="M312.8,672.3 Q315.4,684.9 326.1,692.0" stroke="#efe9e2" stroke-width="2.4" stroke-linecap="round" fill="none" opacity="0.42"/>
<path d="M422.3,743.2 Q404.0,747.3 385.5,744.1" stroke="#54473b" stroke-width="8.4" stroke-linecap="round" fill="none"/>
<path d="M422.3,743.2 Q404.0,747.3 385.5,744.1" stroke="rgb(193,181,168)" stroke-width="7.2" stroke-linecap="round" fill="none"/>
<path d="M422.3,743.2 Q404.0,747.3 385.5,744.1" stroke="#efe9e2" stroke-width="2.5" stroke-linecap="round" fill="none" opacity="0.43"/>
<path d="M407.6,711.7 Q399.7,715.6 395.4,723.2" stroke="#54473b" stroke-width="7.9" stroke-linecap="round" fill="none"/>
<path d="M407.6,711.7 Q399.7,715.6 395.4,723.2" stroke="rgb(194,182,168)" stroke-width="6.7" stroke-linecap="round" fill="none"/>
<path d="M407.6,711.7 Q399.7,715.6 395.4,723.2" stroke="#efe9e2" stroke-width="2.3" stroke-linecap="round" fill="none" opacity="0.43"/>
<path d="M415.8,673.4 Q396.3,673.3 377.6,678.8" stroke="#54473b" stroke-width="7.3" stroke-linecap="round" fill="none"/>
<path d="M415.8,673.4 Q396.3,673.3 377.6,678.8" stroke="rgb(198,186,172)" stroke-width="6.1" stroke-linecap="round" fill="none"/>
<path d="M415.8,673.4 Q396.3,673.3 377.6,678.8" stroke="#efe9e2" stroke-width="2.1" stroke-linecap="round" fill="none" opacity="0.43"/>
<path d="M371.3,702.3 Q358.3,710.4 347.8,721.7" stroke="#54473b" stroke-width="7.4" stroke-linecap="round" fill="none"/>
<path d="M371.3,702.3 Q358.3,710.4 347.8,721.7" stroke="rgb(199,187,173)" stroke-width="6.2" stroke-linecap="round" fill="none"/>
<path d="M371.3,702.3 Q358.3,710.4 347.8,721.7" stroke="#efe9e2" stroke-width="2.2" stroke-linecap="round" fill="none" opacity="0.44"/>
<path d="M355.3,773.1 Q353.4,782.6 349.6,791.6" stroke="#54473b" stroke-width="8.3" stroke-linecap="round" fill="none"/>
<path d="M355.3,773.1 Q353.4,782.6 349.6,791.6" stroke="rgb(186,174,161)" stroke-width="7.1" stroke-linecap="round" fill="none"/>
<path d="M355.3,773.1 Q353.4,782.6 349.6,791.6" stroke="#efe9e2" stroke-width="2.5" stroke-linecap="round" fill="none" opacity="0.44"/>
<path d="M337.3,703.2 Q339.7,715.7 344.0,727.7" stroke="#54473b" stroke-width="7.1" stroke-linecap="round" fill="none"/>
<path d="M337.3,703.2 Q339.7,715.7 344.0,727.7" stroke="rgb(186,174,160)" stroke-width="5.9" stroke-linecap="round" fill="none"/>
<path d="M337.3,703.2 Q339.7,715.7 344.0,727.7" stroke="#efe9e2" stroke-width="2.1" stroke-linecap="round" fill="none" opacity="0.44"/>
<path d="M326.5,713.4 Q336.7,729.6 351.1,742.2" stroke="#54473b" stroke-width="7.0" stroke-linecap="round" fill="none"/>
<path d="M326.5,713.4 Q336.7,729.6 351.1,742.2" stroke="rgb(193,181,167)" stroke-width="5.8" stroke-linecap="round" fill="none"/>
<path d="M326.5,713.4 Q336.7,729.6 351.1,742.2" stroke="#efe9e2" stroke-width="2.0" stroke-linecap="round" fill="none" opacity="0.45"/>
<path d="M325.6,780.6 Q318.4,788.8 317.1,799.6" stroke="#54473b" stroke-width="7.1" stroke-linecap="round" fill="none"/>
<path d="M325.6,780.6 Q318.4,788.8 317.1,799.6" stroke="rgb(189,177,164)" stroke-width="5.9" stroke-linecap="round" fill="none"/>
<path d="M325.6,780.6 Q318.4,788.8 317.1,799.6" stroke="#efe9e2" stroke-width="2.1" stroke-linecap="round" fill="none" opacity="0.45"/>
<path d="M374.5,754.7 Q383.0,768.8 392.9,781.9" stroke="#54473b" stroke-width="7.2" stroke-linecap="round" fill="none"/>
<path d="M374.5,754.7 Q383.0,768.8 392.9,781.9" stroke="rgb(193,181,167)" stroke-width="6.0" stroke-linecap="round" fill="none"/>
<path d="M374.5,754.7 Q383.0,768.8 392.9,781.9" stroke="#efe9e2" stroke-width="2.1" stroke-linecap="round" fill="none" opacity="0.45"/>
<path d="M385.4,679.1 Q394.2,676.0 402.9,679.3" stroke="#54473b" stroke-width="8.2" stroke-linecap="round" fill="none"/>
<path d="M385.4,679.1 Q394.2,676.0 402.9,679.3" stroke="rgb(198,186,172)" stroke-width="7.0" stroke-linecap="round" fill="none"/>
<path d="M385.4,679.1 Q394.2,676.0 402.9,679.3" stroke="#efe9e2" stroke-width="2.5" stroke-linecap="round" fill="none" opacity="0.46"/>
<path d="M376.4,780.5 Q360.8,784.3 348.8,795.1" stroke="#54473b" stroke-width="6.8" stroke-linecap="round" fill="none"/>
<path d="M376.4,780.5 Q360.8,784.3 348.8,795.1" stroke="rgb(191,179,165)" stroke-width="5.6" stroke-linecap="round" fill="none"/>
<path d="M376.4,780.5 Q360.8,784.3 348.8,795.1" stroke="#efe9e2" stroke-width="2.0" stroke-linecap="round" fill="none" opacity="0.46"/>
<path d="M316.8,766.4 Q312.3,776.3 306.8,785.6" stroke="#54473b" stroke-width="6.6" stroke-linecap="round" fill="none"/>
<path d="M316.8,766.4 Q312.3,776.3 306.8,785.6" stroke="rgb(193,181,168)" stroke-width="5.4" stroke-linecap="round" fill="none"/>
<path d="M316.8,766.4 Q312.3,776.3 306.8,785.6" stroke="#efe9e2" stroke-width="1.9" stroke-linecap="round" fill="none" opacity="0.46"/>
<path d="M372.7,769.0 Q360.4,767.6 350.7,775.3" stroke="#54473b" stroke-width="6.9" stroke-linecap="round" fill="none"/>
<path d="M372.7,769.0 Q360.4,767.6 350.7,775.3" stroke="rgb(190,178,165)" stroke-width="5.7" stroke-linecap="round" fill="none"/>
<path d="M372.7,769.0 Q360.4,767.6 350.7,775.3" stroke="#efe9e2" stroke-width="2.0" stroke-linecap="round" fill="none" opacity="0.47"/>
<path d="M404.2,777.7 Q387.7,780.7 375.3,792.1" stroke="#54473b" stroke-width="6.8" stroke-linecap="round" fill="none"/>
<path d="M404.2,777.7 Q387.7,780.7 375.3,792.1" stroke="rgb(186,174,160)" stroke-width="5.6" stroke-linecap="round" fill="none"/>
<path d="M404.2,777.7 Q387.7,780.7 375.3,792.1" stroke="#efe9e2" stroke-width="2.0" stroke-linecap="round" fill="none" opacity="0.47"/>
<path d="M400.8,758.8 Q385.8,768.6 378.2,784.8" stroke="#54473b" stroke-width="7.8" stroke-linecap="round" fill="none"/>
<path d="M400.8,758.8 Q385.8,768.6 378.2,784.8" stroke="rgb(190,178,164)" stroke-width="6.6" stroke-linecap="round" fill="none"/>
<path d="M400.8,758.8 Q385.8,768.6 378.2,784.8" stroke="#efe9e2" stroke-width="2.3" stroke-linecap="round" fill="none" opacity="0.47"/>
<path d="M417.0,759.4 Q421.7,769.2 419.4,779.9" stroke="#54473b" stroke-width="7.5" stroke-linecap="round" fill="none"/>
<path d="M417.0,759.4 Q421.7,769.2 419.4,779.9" stroke="rgb(202,190,176)" stroke-width="6.3" stroke-linecap="round" fill="none"/>
<path d="M417.0,759.4 Q421.7,769.2 419.4,779.9" stroke="#efe9e2" stroke-width="2.2" stroke-linecap="round" fill="none" opacity="0.48"/>
<path d="M417.0,756.5 Q409.8,761.4 405.9,769.2" stroke="#54473b" stroke-width="8.5" stroke-linecap="round" fill="none"/>
<path d="M417.0,756.5 Q409.8,761.4 405.9,769.2" stroke="rgb(202,190,176)" stroke-width="7.3" stroke-linecap="round" fill="none"/>
<path d="M417.0,756.5 Q409.8,761.4 405.9,769.2" stroke="#efe9e2" stroke-width="2.5" stroke-linecap="round" fill="none" opacity="0.48"/>
<path d="M414.5,743.3 Q425.8,755.9 434.1,770.8" stroke="#54473b" stroke-width="8.1" stroke-linecap="round" fill="none"/>
<path d="M414.5,743.3 Q425.8,755.9 434.1,770.8" stroke="rgb(192,180,167)" stroke-width="6.9" stroke-linecap="round" fill="none"/>
<path d="M414.5,743.3 Q425.8,755.9 434.1,770.8" stroke="#efe9e2" stroke-width="2.4" stroke-linecap="round" fill="none" opacity="0.48"/>
<path d="M339.5,704.8 Q348.3,706.2 354.5,712.5" stroke="#54473b" stroke-width="7.2" stroke-linecap="round" fill="none"/>
<path d="M339.5,704.8 Q348.3,706.2 354.5,712.5" stroke="rgb(188,176,162)" stroke-width="6.0" stroke-linecap="round" fill="none"/>
<path d="M339.5,704.8 Q348.3,706.2 354.5,712.5" stroke="#efe9e2" stroke-width="2.1" stroke-linecap="round" fill="none" opacity="0.49"/>
<path d="M404.2,762.6 Q400.5,774.9 389.4,781.4" stroke="#54473b" stroke-width="8.3" stroke-linecap="round" fill="none"/>
<path d="M404.2,762.6 Q400.5,774.9 389.4,781.4" stroke="rgb(199,187,174)" stroke-width="7.1" stroke-linecap="round" fill="none"/>
<path d="M404.2,762.6 Q400.5,774.9 389.4,781.4" stroke="#efe9e2" stroke-width="2.5" stroke-linecap="round" fill="none" opacity="0.49"/>
<path d="M394.3,681.1 Q378.7,691.6 363.5,702.7" stroke="#54473b" stroke-width="7.7" stroke-linecap="round" fill="none"/>
<path d="M394.3,681.1 Q378.7,691.6 363.5,702.7" stroke="rgb(202,190,176)" stroke-width="6.5" stroke-linecap="round" fill="none"/>
<path d="M394.3,681.1 Q378.7,691.6 363.5,702.7" stroke="#efe9e2" stroke-width="2.3" stroke-linecap="round" fill="none" opacity="0.49"/>
<path d="M305.3,766.6 Q313.2,778.5 321.8,789.9" stroke="#54473b" stroke-width="7.1" stroke-linecap="round" fill="none"/>
<path d="M305.3,766.6 Q313.2,778.5 321.8,789.9" stroke="rgb(191,179,165)" stroke-width="5.9" stroke-linecap="round" fill="none"/>
<path d="M305.3,766.6 Q313.2,778.5 321.8,789.9" stroke="#efe9e2" stroke-width="2.1" stroke-linecap="round" fill="none" opacity="0.50"/>
</g>
<circle cx="367.9" cy="732.1" r="55.3" fill="none" stroke="#0a0a0a" stroke-width="4.2"/>
<rect x="15.1" y="830.1" width="187.7" height="27.9" fill="#d0ccc3"/>
<rect x="22.2" y="841.3" width="52.7" height="5" fill="#000"/>
<text transform="translate(136.90 852.6) scale(0.8919 1) translate(-57.75 0)" style="font-size:27.5px;" fill="#111">promotes</text>
<clipPath id="rout"><rect x="500" y="190" width="190.1" height="210"/><rect x="817.5" y="190" width="190" height="210"/></clipPath>
<clipPath id="rin"><rect x="690.1" y="190" width="127.4" height="210"/></clipPath>
<g clip-path="url(#clipR)"><g clip-path="url(#rout)">
<path d="M546.3,401.0 C546.0,398.7 546.1,392.5 544.8,387.0 C543.5,381.5 539.9,373.2 538.5,368.0 C537.2,362.8 536.1,360.7 536.6,356.0 C537.1,351.3 539.4,346.0 541.4,340.0 C543.5,334.0 547.6,323.5 548.8,320.2" fill="none" stroke="#9a8262" stroke-width="6.3" stroke-linecap="round"/>
<path d="M546.3,401.0 C546.0,398.7 546.1,392.5 544.8,387.0 C543.5,381.5 539.9,373.2 538.5,368.0 C537.2,362.8 536.1,360.7 536.6,356.0 C537.1,351.3 539.4,346.0 541.4,340.0 C543.5,334.0 547.6,323.5 548.8,320.2" fill="none" stroke="#b59d7a" stroke-width="4.6" stroke-linecap="round"/>
<path d="M546.3,401.0 C546.4,397.5 546.7,387.7 547.3,380.0 C547.9,372.3 548.8,362.5 549.8,355.0 C550.8,347.5 551.5,342.1 553.3,335.0 C555.1,327.9 559.5,316.3 560.7,312.6" fill="none" stroke="#9a8262" stroke-width="6.3" stroke-linecap="round"/>
<path d="M546.3,401.0 C546.4,397.5 546.7,387.7 547.3,380.0 C547.9,372.3 548.8,362.5 549.8,355.0 C550.8,347.5 551.5,342.1 553.3,335.0 C555.1,327.9 559.5,316.3 560.7,312.6" fill="none" stroke="#b59d7a" stroke-width="4.6" stroke-linecap="round"/>
<path d="M575.2,401.0 C574.9,398.7 575.0,392.5 573.7,387.0 C572.4,381.5 568.8,373.2 567.4,368.0 C566.1,362.8 565.0,360.7 565.5,356.0 C566.0,351.3 568.3,345.4 570.3,340.0 C572.4,334.6 576.5,326.1 577.7,323.4" fill="none" stroke="#9a8262" stroke-width="6.3" stroke-linecap="round"/>
<path d="M575.2,401.0 C574.9,398.7 575.0,392.5 573.7,387.0 C572.4,381.5 568.8,373.2 567.4,368.0 C566.1,362.8 565.0,360.7 565.5,356.0 C566.0,351.3 568.3,345.4 570.3,340.0 C572.4,334.6 576.5,326.1 577.7,323.4" fill="none" stroke="#b59d7a" stroke-width="4.6" stroke-linecap="round"/>
<path d="M575.2,401.0 C574.9,398.7 575.0,392.5 573.7,387.0 C572.4,381.5 568.8,373.2 567.4,368.0 C566.1,362.8 565.0,360.7 565.5,356.0 C566.0,351.3 568.3,345.4 570.3,340.0 C572.4,334.6 576.5,326.1 577.7,323.4" pathLength="100" fill="none" stroke="#7ccb78" stroke-width="3.9999999999999996" stroke-dasharray="0 24 36 200" opacity="0.9"/>
<path d="M575.2,401.0 C575.3,397.5 575.6,387.7 576.2,380.0 C576.8,372.3 577.7,362.5 578.7,355.0 C579.7,347.5 580.6,342.6 582.2,335.0 C583.8,327.4 587.2,313.7 588.2,309.4" fill="none" stroke="#9a8262" stroke-width="6.3" stroke-linecap="round"/>
<path d="M575.2,401.0 C575.3,397.5 575.6,387.7 576.2,380.0 C576.8,372.3 577.7,362.5 578.7,355.0 C579.7,347.5 580.6,342.6 582.2,335.0 C583.8,327.4 587.2,313.7 588.2,309.4" fill="none" stroke="#b59d7a" stroke-width="4.6" stroke-linecap="round"/>
<path d="M575.2,401.0 C575.3,397.5 575.6,387.7 576.2,380.0 C576.8,372.3 577.7,362.5 578.7,355.0 C579.7,347.5 580.6,342.6 582.2,335.0 C583.8,327.4 587.2,313.7 588.2,309.4" pathLength="100" fill="none" stroke="#7ccb78" stroke-width="3.9999999999999996" stroke-dasharray="0 7 54 200" opacity="0.9"/>
<path d="M605.3,401.0 C605.0,398.7 605.2,392.5 603.8,387.0 C602.4,381.5 598.2,373.2 596.7,368.0 C595.1,362.8 594.0,360.7 594.5,356.0 C595.1,351.3 597.7,345.3 599.9,340.0 C602.1,334.7 606.5,327.0 607.8,324.4" fill="none" stroke="#9a8262" stroke-width="6.3" stroke-linecap="round"/>
<path d="M605.3,401.0 C605.0,398.7 605.2,392.5 603.8,387.0 C602.4,381.5 598.2,373.2 596.7,368.0 C595.1,362.8 594.0,360.7 594.5,356.0 C595.1,351.3 597.7,345.3 599.9,340.0 C602.1,334.7 606.5,327.0 607.8,324.4" fill="none" stroke="#b59d7a" stroke-width="4.6" stroke-linecap="round"/>
<path d="M605.3,401.0 C605.0,398.7 605.2,392.5 603.8,387.0 C602.4,381.5 598.2,373.2 596.7,368.0 C595.1,362.8 594.0,360.7 594.5,356.0 C595.1,351.3 597.7,345.3 599.9,340.0 C602.1,334.7 606.5,327.0 607.8,324.4" pathLength="100" fill="none" stroke="#7ccb78" stroke-width="3.9999999999999996" stroke-dasharray="0 3 42 200" opacity="0.9"/>
<path d="M605.3,401.0 C605.5,397.5 605.7,387.7 606.3,380.0 C606.9,372.3 607.8,362.5 608.8,355.0 C609.8,347.5 610.4,342.2 612.3,335.0 C614.2,327.8 618.8,315.7 620.2,311.9" fill="none" stroke="#9a8262" stroke-width="6.3" stroke-linecap="round"/>
<path d="M605.3,401.0 C605.5,397.5 605.7,387.7 606.3,380.0 C606.9,372.3 607.8,362.5 608.8,355.0 C609.8,347.5 610.4,342.2 612.3,335.0 C614.2,327.8 618.8,315.7 620.2,311.9" fill="none" stroke="#b59d7a" stroke-width="4.6" stroke-linecap="round"/>
<path d="M634.4,401.0 C634.1,398.7 634.5,392.5 632.9,387.0 C631.3,381.5 626.6,373.2 624.9,368.0 C623.2,362.8 621.9,360.7 622.5,356.0 C623.1,351.3 626.1,345.5 628.5,340.0 C630.9,334.5 635.5,325.6 636.9,322.7" fill="none" stroke="#9a8262" stroke-width="6.3" stroke-linecap="round"/>
<path d="M634.4,401.0 C634.1,398.7 634.5,392.5 632.9,387.0 C631.3,381.5 626.6,373.2 624.9,368.0 C623.2,362.8 621.9,360.7 622.5,356.0 C623.1,351.3 626.1,345.5 628.5,340.0 C630.9,334.5 635.5,325.6 636.9,322.7" fill="none" stroke="#b59d7a" stroke-width="4.6" stroke-linecap="round"/>
<path d="M634.4,401.0 C634.1,398.7 634.5,392.5 632.9,387.0 C631.3,381.5 626.6,373.2 624.9,368.0 C623.2,362.8 621.9,360.7 622.5,356.0 C623.1,351.3 626.1,345.5 628.5,340.0 C630.9,334.5 635.5,325.6 636.9,322.7" pathLength="100" fill="none" stroke="#7ccb78" stroke-width="3.9999999999999996" stroke-dasharray="0 17 46 200" opacity="0.9"/>
<path d="M634.4,401.0 C634.6,397.5 634.8,387.7 635.4,380.0 C636.0,372.3 636.9,362.5 637.9,355.0 C638.9,347.5 640.0,342.3 641.4,335.0 C642.8,327.7 645.6,315.0 646.4,311.0" fill="none" stroke="#9a8262" stroke-width="6.3" stroke-linecap="round"/>
<path d="M634.4,401.0 C634.6,397.5 634.8,387.7 635.4,380.0 C636.0,372.3 636.9,362.5 637.9,355.0 C638.9,347.5 640.0,342.3 641.4,335.0 C642.8,327.7 645.6,315.0 646.4,311.0" fill="none" stroke="#b59d7a" stroke-width="4.6" stroke-linecap="round"/>
<path d="M634.4,401.0 C634.6,397.5 634.8,387.7 635.4,380.0 C636.0,372.3 636.9,362.5 637.9,355.0 C638.9,347.5 640.0,342.3 641.4,335.0 C642.8,327.7 645.6,315.0 646.4,311.0" pathLength="100" fill="none" stroke="#7ccb78" stroke-width="3.9999999999999996" stroke-dasharray="0 4 47 200" opacity="0.9"/>
<path d="M663.7,401.0 C663.4,398.7 663.7,392.5 662.2,387.0 C660.7,381.5 656.4,373.2 654.7,368.0 C653.1,362.8 651.9,360.7 652.5,356.0 C653.1,351.3 655.8,345.2 658.1,340.0 C660.4,334.8 664.8,327.4 666.2,324.8" fill="none" stroke="#9a8262" stroke-width="6.3" stroke-linecap="round"/>
<path d="M663.7,401.0 C663.4,398.7 663.7,392.5 662.2,387.0 C660.7,381.5 656.4,373.2 654.7,368.0 C653.1,362.8 651.9,360.7 652.5,356.0 C653.1,351.3 655.8,345.2 658.1,340.0 C660.4,334.8 664.8,327.4 666.2,324.8" fill="none" stroke="#b59d7a" stroke-width="4.6" stroke-linecap="round"/>
<path d="M663.7,401.0 C663.9,397.5 664.1,387.7 664.7,380.0 C665.3,372.3 666.2,362.5 667.2,355.0 C668.2,347.5 669.1,340.9 670.7,335.0 C672.3,329.1 675.9,322.1 676.9,319.5" fill="none" stroke="#9a8262" stroke-width="6.3" stroke-linecap="round"/>
<path d="M663.7,401.0 C663.9,397.5 664.1,387.7 664.7,380.0 C665.3,372.3 666.2,362.5 667.2,355.0 C668.2,347.5 669.1,340.9 670.7,335.0 C672.3,329.1 675.9,322.1 676.9,319.5" fill="none" stroke="#b59d7a" stroke-width="4.6" stroke-linecap="round"/>
<path d="M663.7,401.0 C663.9,397.5 664.1,387.7 664.7,380.0 C665.3,372.3 666.2,362.5 667.2,355.0 C668.2,347.5 669.1,340.9 670.7,335.0 C672.3,329.1 675.9,322.1 676.9,319.5" pathLength="100" fill="none" stroke="#7ccb78" stroke-width="3.9999999999999996" stroke-dasharray="0 15 55 200" opacity="0.9"/>
<path d="M691.1,401.0 C690.9,398.7 691.1,392.5 689.6,387.0 C688.1,381.5 683.5,373.2 681.8,368.0 C680.2,362.8 678.9,360.7 679.5,356.0 C680.1,351.3 683.0,344.9 685.3,340.0 C687.7,335.1 692.2,328.9 693.6,326.6" fill="none" stroke="#9a8262" stroke-width="6.3" stroke-linecap="round"/>
<path d="M691.1,401.0 C690.9,398.7 691.1,392.5 689.6,387.0 C688.1,381.5 683.5,373.2 681.8,368.0 C680.2,362.8 678.9,360.7 679.5,356.0 C680.1,351.3 683.0,344.9 685.3,340.0 C687.7,335.1 692.2,328.9 693.6,326.6" fill="none" stroke="#b59d7a" stroke-width="4.6" stroke-linecap="round"/>
<path d="M691.1,401.0 C691.3,397.5 691.5,387.7 692.1,380.0 C692.7,372.3 693.6,362.5 694.6,355.0 C695.6,347.5 696.4,341.3 698.1,335.0 C699.8,328.7 703.5,320.0 704.6,317.0" fill="none" stroke="#9a8262" stroke-width="6.3" stroke-linecap="round"/>
<path d="M691.1,401.0 C691.3,397.5 691.5,387.7 692.1,380.0 C692.7,372.3 693.6,362.5 694.6,355.0 C695.6,347.5 696.4,341.3 698.1,335.0 C699.8,328.7 703.5,320.0 704.6,317.0" fill="none" stroke="#b59d7a" stroke-width="4.6" stroke-linecap="round"/>
<path d="M691.1,401.0 C691.3,397.5 691.5,387.7 692.1,380.0 C692.7,372.3 693.6,362.5 694.6,355.0 C695.6,347.5 696.4,341.3 698.1,335.0 C699.8,328.7 703.5,320.0 704.6,317.0" pathLength="100" fill="none" stroke="#7ccb78" stroke-width="3.9999999999999996" stroke-dasharray="0 1 59 200" opacity="0.9"/>
<path d="M719.5,401.0 C719.2,398.7 719.2,392.5 718.0,387.0 C716.7,381.5 713.1,373.2 711.7,368.0 C710.3,362.8 709.3,360.7 709.8,356.0 C710.2,351.3 712.6,345.6 714.6,340.0 C716.6,334.4 720.7,325.3 722.0,322.3" fill="none" stroke="#9a8262" stroke-width="6.3" stroke-linecap="round"/>
<path d="M719.5,401.0 C719.2,398.7 719.2,392.5 718.0,387.0 C716.7,381.5 713.1,373.2 711.7,368.0 C710.3,362.8 709.3,360.7 709.8,356.0 C710.2,351.3 712.6,345.6 714.6,340.0 C716.6,334.4 720.7,325.3 722.0,322.3" fill="none" stroke="#b59d7a" stroke-width="4.6" stroke-linecap="round"/>
<path d="M719.5,401.0 C719.2,398.7 719.2,392.5 718.0,387.0 C716.7,381.5 713.1,373.2 711.7,368.0 C710.3,362.8 709.3,360.7 709.8,356.0 C710.2,351.3 712.6,345.6 714.6,340.0 C716.6,334.4 720.7,325.3 722.0,322.3" pathLength="100" fill="none" stroke="#7ccb78" stroke-width="3.9999999999999996" stroke-dasharray="0 5 53 200" opacity="0.9"/>
<path d="M719.5,401.0 C719.6,397.5 719.9,387.7 720.5,380.0 C721.0,372.3 722.0,362.5 723.0,355.0 C724.0,347.5 725.3,342.5 726.5,335.0 C727.6,327.5 729.5,314.2 730.1,310.0" fill="none" stroke="#9a8262" stroke-width="6.3" stroke-linecap="round"/>
<path d="M719.5,401.0 C719.6,397.5 719.9,387.7 720.5,380.0 C721.0,372.3 722.0,362.5 723.0,355.0 C724.0,347.5 725.3,342.5 726.5,335.0 C727.6,327.5 729.5,314.2 730.1,310.0" fill="none" stroke="#b59d7a" stroke-width="4.6" stroke-linecap="round"/>
<path d="M747.7,401.0 C747.5,398.7 747.5,392.5 746.2,387.0 C744.9,381.5 741.3,373.2 739.9,368.0 C738.5,362.8 737.4,360.7 737.9,356.0 C738.4,351.3 740.8,345.5 742.8,340.0 C744.9,334.5 749.0,325.8 750.2,323.0" fill="none" stroke="#9a8262" stroke-width="6.3" stroke-linecap="round"/>
<path d="M747.7,401.0 C747.5,398.7 747.5,392.5 746.2,387.0 C744.9,381.5 741.3,373.2 739.9,368.0 C738.5,362.8 737.4,360.7 737.9,356.0 C738.4,351.3 740.8,345.5 742.8,340.0 C744.9,334.5 749.0,325.8 750.2,323.0" fill="none" stroke="#b59d7a" stroke-width="4.6" stroke-linecap="round"/>
<path d="M747.7,401.0 C747.9,397.5 748.1,387.7 748.7,380.0 C749.3,372.3 750.2,362.5 751.2,355.0 C752.2,347.5 752.7,342.2 754.7,335.0 C756.7,327.8 761.9,315.6 763.3,311.7" fill="none" stroke="#9a8262" stroke-width="6.3" stroke-linecap="round"/>
<path d="M747.7,401.0 C747.9,397.5 748.1,387.7 748.7,380.0 C749.3,372.3 750.2,362.5 751.2,355.0 C752.2,347.5 752.7,342.2 754.7,335.0 C756.7,327.8 761.9,315.6 763.3,311.7" fill="none" stroke="#b59d7a" stroke-width="4.6" stroke-linecap="round"/>
<path d="M776.3,401.0 C776.1,398.7 776.2,392.5 774.8,387.0 C773.5,381.5 769.7,373.2 768.2,368.0 C766.8,362.8 765.7,360.7 766.2,356.0 C766.7,351.3 769.2,345.0 771.3,340.0 C773.4,335.0 777.6,328.2 778.8,325.8" fill="none" stroke="#9a8262" stroke-width="6.3" stroke-linecap="round"/>
<path d="M776.3,401.0 C776.1,398.7 776.2,392.5 774.8,387.0 C773.5,381.5 769.7,373.2 768.2,368.0 C766.8,362.8 765.7,360.7 766.2,356.0 C766.7,351.3 769.2,345.0 771.3,340.0 C773.4,335.0 777.6,328.2 778.8,325.8" fill="none" stroke="#b59d7a" stroke-width="4.6" stroke-linecap="round"/>
<path d="M776.3,401.0 C776.5,397.5 776.8,387.7 777.3,380.0 C777.9,372.3 778.8,362.5 779.8,355.0 C780.8,347.5 781.3,342.3 783.3,335.0 C785.4,327.7 790.8,315.1 792.3,311.1" fill="none" stroke="#9a8262" stroke-width="6.3" stroke-linecap="round"/>
<path d="M776.3,401.0 C776.5,397.5 776.8,387.7 777.3,380.0 C777.9,372.3 778.8,362.5 779.8,355.0 C780.8,347.5 781.3,342.3 783.3,335.0 C785.4,327.7 790.8,315.1 792.3,311.1" fill="none" stroke="#b59d7a" stroke-width="4.6" stroke-linecap="round"/>
<path d="M805.4,401.0 C805.1,398.7 805.2,392.5 803.9,387.0 C802.6,381.5 799.0,373.2 797.6,368.0 C796.3,362.8 795.2,360.7 795.7,356.0 C796.2,351.3 798.5,344.9 800.5,340.0 C802.6,335.1 806.6,329.0 807.9,326.7" fill="none" stroke="#9a8262" stroke-width="6.3" stroke-linecap="round"/>
<path d="M805.4,401.0 C805.1,398.7 805.2,392.5 803.9,387.0 C802.6,381.5 799.0,373.2 797.6,368.0 C796.3,362.8 795.2,360.7 795.7,356.0 C796.2,351.3 798.5,344.9 800.5,340.0 C802.6,335.1 806.6,329.0 807.9,326.7" fill="none" stroke="#b59d7a" stroke-width="4.6" stroke-linecap="round"/>
<path d="M805.4,401.0 C805.1,398.7 805.2,392.5 803.9,387.0 C802.6,381.5 799.0,373.2 797.6,368.0 C796.3,362.8 795.2,360.7 795.7,356.0 C796.2,351.3 798.5,344.9 800.5,340.0 C802.6,335.1 806.6,329.0 807.9,326.7" pathLength="100" fill="none" stroke="#7ccb78" stroke-width="3.9999999999999996" stroke-dasharray="0 15 54 200" opacity="0.9"/>
<path d="M805.4,401.0 C805.5,397.5 805.8,387.7 806.4,380.0 C807.0,372.3 807.9,362.5 808.9,355.0 C809.9,347.5 811.3,341.0 812.4,335.0 C813.5,329.0 815.0,321.7 815.6,319.1" fill="none" stroke="#9a8262" stroke-width="6.3" stroke-linecap="round"/>
<path d="M805.4,401.0 C805.5,397.5 805.8,387.7 806.4,380.0 C807.0,372.3 807.9,362.5 808.9,355.0 C809.9,347.5 811.3,341.0 812.4,335.0 C813.5,329.0 815.0,321.7 815.6,319.1" fill="none" stroke="#b59d7a" stroke-width="4.6" stroke-linecap="round"/>
<path d="M805.4,401.0 C805.5,397.5 805.8,387.7 806.4,380.0 C807.0,372.3 807.9,362.5 808.9,355.0 C809.9,347.5 811.3,341.0 812.4,335.0 C813.5,329.0 815.0,321.7 815.6,319.1" pathLength="100" fill="none" stroke="#7ccb78" stroke-width="3.9999999999999996" stroke-dasharray="0 5 36 200" opacity="0.9"/>
<path d="M833.4,401.0 C833.2,398.7 833.2,392.5 831.9,387.0 C830.6,381.5 826.9,373.2 825.5,368.0 C824.1,362.8 823.0,360.7 823.5,356.0 C824.0,351.3 826.4,344.7 828.4,340.0 C830.5,335.3 834.7,329.6 835.9,327.5" fill="none" stroke="#9a8262" stroke-width="6.3" stroke-linecap="round"/>
<path d="M833.4,401.0 C833.2,398.7 833.2,392.5 831.9,387.0 C830.6,381.5 826.9,373.2 825.5,368.0 C824.1,362.8 823.0,360.7 823.5,356.0 C824.0,351.3 826.4,344.7 828.4,340.0 C830.5,335.3 834.7,329.6 835.9,327.5" fill="none" stroke="#b59d7a" stroke-width="4.6" stroke-linecap="round"/>
<path d="M833.4,401.0 C833.2,398.7 833.2,392.5 831.9,387.0 C830.6,381.5 826.9,373.2 825.5,368.0 C824.1,362.8 823.0,360.7 823.5,356.0 C824.0,351.3 826.4,344.7 828.4,340.0 C830.5,335.3 834.7,329.6 835.9,327.5" pathLength="100" fill="none" stroke="#7ccb78" stroke-width="3.9999999999999996" stroke-dasharray="0 3 52 200" opacity="0.9"/>
<path d="M833.4,401.0 C833.6,397.5 833.8,387.7 834.4,380.0 C835.0,372.3 835.9,362.5 836.9,355.0 C837.9,347.5 838.7,340.8 840.4,335.0 C842.2,329.2 846.2,322.8 847.4,320.4" fill="none" stroke="#9a8262" stroke-width="6.3" stroke-linecap="round"/>
<path d="M833.4,401.0 C833.6,397.5 833.8,387.7 834.4,380.0 C835.0,372.3 835.9,362.5 836.9,355.0 C837.9,347.5 838.7,340.8 840.4,335.0 C842.2,329.2 846.2,322.8 847.4,320.4" fill="none" stroke="#b59d7a" stroke-width="4.6" stroke-linecap="round"/>
<path d="M862.9,401.0 C862.7,398.7 862.8,392.5 861.4,387.0 C860.0,381.5 855.9,373.2 854.4,368.0 C852.8,362.8 851.7,360.7 852.2,356.0 C852.8,351.3 855.4,345.6 857.6,340.0 C859.8,334.4 864.1,325.1 865.4,322.1" fill="none" stroke="#9a8262" stroke-width="6.3" stroke-linecap="round"/>
<path d="M862.9,401.0 C862.7,398.7 862.8,392.5 861.4,387.0 C860.0,381.5 855.9,373.2 854.4,368.0 C852.8,362.8 851.7,360.7 852.2,356.0 C852.8,351.3 855.4,345.6 857.6,340.0 C859.8,334.4 864.1,325.1 865.4,322.1" fill="none" stroke="#b59d7a" stroke-width="4.6" stroke-linecap="round"/>
<path d="M862.9,401.0 C863.1,397.5 863.3,387.7 863.9,380.0 C864.5,372.3 865.4,362.5 866.4,355.0 C867.4,347.5 868.6,342.1 869.9,335.0 C871.3,327.9 873.7,316.0 874.5,312.2" fill="none" stroke="#9a8262" stroke-width="6.3" stroke-linecap="round"/>
<path d="M862.9,401.0 C863.1,397.5 863.3,387.7 863.9,380.0 C864.5,372.3 865.4,362.5 866.4,355.0 C867.4,347.5 868.6,342.1 869.9,335.0 C871.3,327.9 873.7,316.0 874.5,312.2" fill="none" stroke="#b59d7a" stroke-width="4.6" stroke-linecap="round"/>
<path d="M891.8,401.0 C891.5,398.7 891.7,392.5 890.3,387.0 C888.9,381.5 884.9,373.2 883.4,368.0 C881.9,362.8 880.7,360.7 881.3,356.0 C881.8,351.3 884.4,345.7 886.5,340.0 C888.7,334.3 893.0,324.8 894.3,321.8" fill="none" stroke="#9a8262" stroke-width="6.3" stroke-linecap="round"/>
<path d="M891.8,401.0 C891.5,398.7 891.7,392.5 890.3,387.0 C888.9,381.5 884.9,373.2 883.4,368.0 C881.9,362.8 880.7,360.7 881.3,356.0 C881.8,351.3 884.4,345.7 886.5,340.0 C888.7,334.3 893.0,324.8 894.3,321.8" fill="none" stroke="#b59d7a" stroke-width="4.6" stroke-linecap="round"/>
<path d="M891.8,401.0 C891.5,398.7 891.7,392.5 890.3,387.0 C888.9,381.5 884.9,373.2 883.4,368.0 C881.9,362.8 880.7,360.7 881.3,356.0 C881.8,351.3 884.4,345.7 886.5,340.0 C888.7,334.3 893.0,324.8 894.3,321.8" pathLength="100" fill="none" stroke="#7ccb78" stroke-width="3.9999999999999996" stroke-dasharray="0 16 32 200" opacity="0.9"/>
<path d="M891.8,401.0 C892.0,397.5 892.2,387.7 892.8,380.0 C893.4,372.3 894.3,362.5 895.3,355.0 C896.3,347.5 897.6,340.5 898.8,335.0 C900.0,329.5 901.8,324.1 902.3,322.0" fill="none" stroke="#9a8262" stroke-width="6.3" stroke-linecap="round"/>
<path d="M891.8,401.0 C892.0,397.5 892.2,387.7 892.8,380.0 C893.4,372.3 894.3,362.5 895.3,355.0 C896.3,347.5 897.6,340.5 898.8,335.0 C900.0,329.5 901.8,324.1 902.3,322.0" fill="none" stroke="#b59d7a" stroke-width="4.6" stroke-linecap="round"/>
<path d="M891.8,401.0 C892.0,397.5 892.2,387.7 892.8,380.0 C893.4,372.3 894.3,362.5 895.3,355.0 C896.3,347.5 897.6,340.5 898.8,335.0 C900.0,329.5 901.8,324.1 902.3,322.0" pathLength="100" fill="none" stroke="#7ccb78" stroke-width="3.9999999999999996" stroke-dasharray="0 6 28 200" opacity="0.9"/>
<path d="M920.3,401.0 C920.0,398.7 920.0,392.5 918.8,387.0 C917.5,381.5 914.2,373.2 912.9,368.0 C911.6,362.8 910.6,360.7 911.1,356.0 C911.5,351.3 913.7,344.9 915.7,340.0 C917.6,335.1 921.6,328.6 922.8,326.3" fill="none" stroke="#9a8262" stroke-width="6.3" stroke-linecap="round"/>
<path d="M920.3,401.0 C920.0,398.7 920.0,392.5 918.8,387.0 C917.5,381.5 914.2,373.2 912.9,368.0 C911.6,362.8 910.6,360.7 911.1,356.0 C911.5,351.3 913.7,344.9 915.7,340.0 C917.6,335.1 921.6,328.6 922.8,326.3" fill="none" stroke="#b59d7a" stroke-width="4.6" stroke-linecap="round"/>
<path d="M920.3,401.0 C920.4,397.5 920.7,387.7 921.3,380.0 C921.8,372.3 922.8,362.5 923.8,355.0 C924.8,347.5 925.8,341.8 927.3,335.0 C928.7,328.2 931.7,317.9 932.5,314.5" fill="none" stroke="#9a8262" stroke-width="6.3" stroke-linecap="round"/>
<path d="M920.3,401.0 C920.4,397.5 920.7,387.7 921.3,380.0 C921.8,372.3 922.8,362.5 923.8,355.0 C924.8,347.5 925.8,341.8 927.3,335.0 C928.7,328.2 931.7,317.9 932.5,314.5" fill="none" stroke="#b59d7a" stroke-width="4.6" stroke-linecap="round"/>
<path d="M950.9,401.0 C950.7,398.7 950.9,392.5 949.4,387.0 C948.0,381.5 943.6,373.2 942.0,368.0 C940.4,362.8 939.2,360.7 939.8,356.0 C940.3,351.3 943.1,344.9 945.4,340.0 C947.6,335.1 952.1,329.1 953.4,326.9" fill="none" stroke="#9a8262" stroke-width="6.3" stroke-linecap="round"/>
<path d="M950.9,401.0 C950.7,398.7 950.9,392.5 949.4,387.0 C948.0,381.5 943.6,373.2 942.0,368.0 C940.4,362.8 939.2,360.7 939.8,356.0 C940.3,351.3 943.1,344.9 945.4,340.0 C947.6,335.1 952.1,329.1 953.4,326.9" fill="none" stroke="#b59d7a" stroke-width="4.6" stroke-linecap="round"/>
<path d="M950.9,401.0 C951.1,397.5 951.4,387.7 951.9,380.0 C952.5,372.3 953.4,362.5 954.4,355.0 C955.4,347.5 956.2,342.6 957.9,335.0 C959.7,327.4 963.9,313.5 965.0,309.1" fill="none" stroke="#9a8262" stroke-width="6.3" stroke-linecap="round"/>
<path d="M950.9,401.0 C951.1,397.5 951.4,387.7 951.9,380.0 C952.5,372.3 953.4,362.5 954.4,355.0 C955.4,347.5 956.2,342.6 957.9,335.0 C959.7,327.4 963.9,313.5 965.0,309.1" fill="none" stroke="#b59d7a" stroke-width="4.6" stroke-linecap="round"/>
<path d="M950.9,401.0 C951.1,397.5 951.4,387.7 951.9,380.0 C952.5,372.3 953.4,362.5 954.4,355.0 C955.4,347.5 956.2,342.6 957.9,335.0 C959.7,327.4 963.9,313.5 965.0,309.1" pathLength="100" fill="none" stroke="#7ccb78" stroke-width="3.9999999999999996" stroke-dasharray="0 6 45 200" opacity="0.9"/>
<path d="M981.3,401.0 C981.0,398.7 981.2,392.5 979.8,387.0 C978.4,381.5 974.5,373.2 973.0,368.0 C971.5,362.8 970.4,360.7 970.9,356.0 C971.4,351.3 974.0,345.9 976.1,340.0 C978.2,334.1 982.5,324.1 983.8,320.9" fill="none" stroke="#9a8262" stroke-width="6.3" stroke-linecap="round"/>
<path d="M981.3,401.0 C981.0,398.7 981.2,392.5 979.8,387.0 C978.4,381.5 974.5,373.2 973.0,368.0 C971.5,362.8 970.4,360.7 970.9,356.0 C971.4,351.3 974.0,345.9 976.1,340.0 C978.2,334.1 982.5,324.1 983.8,320.9" fill="none" stroke="#b59d7a" stroke-width="4.6" stroke-linecap="round"/>
<path d="M981.3,401.0 C981.4,397.5 981.7,387.7 982.3,380.0 C982.9,372.3 983.8,362.5 984.8,355.0 C985.8,347.5 986.2,341.7 988.3,335.0 C990.3,328.3 995.6,318.0 997.0,314.7" fill="none" stroke="#9a8262" stroke-width="6.3" stroke-linecap="round"/>
<path d="M981.3,401.0 C981.4,397.5 981.7,387.7 982.3,380.0 C982.9,372.3 983.8,362.5 984.8,355.0 C985.8,347.5 986.2,341.7 988.3,335.0 C990.3,328.3 995.6,318.0 997.0,314.7" fill="none" stroke="#b59d7a" stroke-width="4.6" stroke-linecap="round"/>
<path d="M981.3,401.0 C981.4,397.5 981.7,387.7 982.3,380.0 C982.9,372.3 983.8,362.5 984.8,355.0 C985.8,347.5 986.2,341.7 988.3,335.0 C990.3,328.3 995.6,318.0 997.0,314.7" pathLength="100" fill="none" stroke="#7ccb78" stroke-width="3.9999999999999996" stroke-dasharray="0 13 50 200" opacity="0.9"/>
<path d="M546,399 L546.3,387" stroke="#c5bd9c" stroke-width="4.6" stroke-linecap="round"/>
<path d="M576,399 L576.3,387" stroke="#c5bd9c" stroke-width="4.6" stroke-linecap="round"/>
<path d="M605,399 L605.3,387" stroke="#c5bd9c" stroke-width="4.6" stroke-linecap="round"/>
<path d="M634,399 L634.3,387" stroke="#c5bd9c" stroke-width="4.6" stroke-linecap="round"/>
<path d="M663,399 L663.3,387" stroke="#c5bd9c" stroke-width="4.6" stroke-linecap="round"/>
<path d="M691,399 L691.3,387" stroke="#c5bd9c" stroke-width="4.6" stroke-linecap="round"/>
<path d="M720,399 L720.3,387" stroke="#c5bd9c" stroke-width="4.6" stroke-linecap="round"/>
<path d="M748,399 L748.3,387" stroke="#c5bd9c" stroke-width="4.6" stroke-linecap="round"/>
<path d="M777,399 L777.3,387" stroke="#c5bd9c" stroke-width="4.6" stroke-linecap="round"/>
<path d="M805,399 L805.3,387" stroke="#c5bd9c" stroke-width="4.6" stroke-linecap="round"/>
<path d="M834,399 L834.3,387" stroke="#c5bd9c" stroke-width="4.6" stroke-linecap="round"/>
<path d="M863,399 L863.3,387" stroke="#c5bd9c" stroke-width="4.6" stroke-linecap="round"/>
<path d="M892,399 L892.3,387" stroke="#c5bd9c" stroke-width="4.6" stroke-linecap="round"/>
<path d="M920,399 L920.3,387" stroke="#c5bd9c" stroke-width="4.6" stroke-linecap="round"/>
<path d="M950,399 L950.3,387" stroke="#c5bd9c" stroke-width="4.6" stroke-linecap="round"/>
<path d="M981,399 L981.3,387" stroke="#c5bd9c" stroke-width="4.6" stroke-linecap="round"/>
</g>
<g clip-path="url(#rin)">
<path d="M546.3,401.0 C546.0,398.7 546.1,392.5 544.8,387.0 C543.5,381.5 539.9,373.2 538.5,368.0 C537.2,362.8 536.1,360.7 536.6,356.0 C537.1,351.3 539.4,346.0 541.4,340.0 C543.5,334.0 547.6,323.5 548.8,320.2" fill="none" stroke="#3f7c9c" stroke-width="6.3" stroke-linecap="round"/>
<path d="M546.3,401.0 C546.0,398.7 546.1,392.5 544.8,387.0 C543.5,381.5 539.9,373.2 538.5,368.0 C537.2,362.8 536.1,360.7 536.6,356.0 C537.1,351.3 539.4,346.0 541.4,340.0 C543.5,334.0 547.6,323.5 548.8,320.2" fill="none" stroke="#4f8cae" stroke-width="4.6" stroke-linecap="round"/>
<path d="M546.3,401.0 C546.4,397.5 546.7,387.7 547.3,380.0 C547.9,372.3 548.8,362.5 549.8,355.0 C550.8,347.5 551.5,342.1 553.3,335.0 C555.1,327.9 559.5,316.3 560.7,312.6" fill="none" stroke="#3f7c9c" stroke-width="6.3" stroke-linecap="round"/>
<path d="M546.3,401.0 C546.4,397.5 546.7,387.7 547.3,380.0 C547.9,372.3 548.8,362.5 549.8,355.0 C550.8,347.5 551.5,342.1 553.3,335.0 C555.1,327.9 559.5,316.3 560.7,312.6" fill="none" stroke="#4f8cae" stroke-width="4.6" stroke-linecap="round"/>
<path d="M575.2,401.0 C574.9,398.7 575.0,392.5 573.7,387.0 C572.4,381.5 568.8,373.2 567.4,368.0 C566.1,362.8 565.0,360.7 565.5,356.0 C566.0,351.3 568.3,345.4 570.3,340.0 C572.4,334.6 576.5,326.1 577.7,323.4" fill="none" stroke="#3f7c9c" stroke-width="6.3" stroke-linecap="round"/>
<path d="M575.2,401.0 C574.9,398.7 575.0,392.5 573.7,387.0 C572.4,381.5 568.8,373.2 567.4,368.0 C566.1,362.8 565.0,360.7 565.5,356.0 C566.0,351.3 568.3,345.4 570.3,340.0 C572.4,334.6 576.5,326.1 577.7,323.4" fill="none" stroke="#4f8cae" stroke-width="4.6" stroke-linecap="round"/>
<path d="M575.2,401.0 C574.9,398.7 575.0,392.5 573.7,387.0 C572.4,381.5 568.8,373.2 567.4,368.0 C566.1,362.8 565.0,360.7 565.5,356.0 C566.0,351.3 568.3,345.4 570.3,340.0 C572.4,334.6 576.5,326.1 577.7,323.4" pathLength="100" fill="none" stroke="#3a9aa6" stroke-width="3.9999999999999996" stroke-dasharray="0 24 36 200" opacity="0.9"/>
<path d="M575.2,401.0 C575.3,397.5 575.6,387.7 576.2,380.0 C576.8,372.3 577.7,362.5 578.7,355.0 C579.7,347.5 580.6,342.6 582.2,335.0 C583.8,327.4 587.2,313.7 588.2,309.4" fill="none" stroke="#3f7c9c" stroke-width="6.3" stroke-linecap="round"/>
<path d="M575.2,401.0 C575.3,397.5 575.6,387.7 576.2,380.0 C576.8,372.3 577.7,362.5 578.7,355.0 C579.7,347.5 580.6,342.6 582.2,335.0 C583.8,327.4 587.2,313.7 588.2,309.4" fill="none" stroke="#4f8cae" stroke-width="4.6" stroke-linecap="round"/>
<path d="M575.2,401.0 C575.3,397.5 575.6,387.7 576.2,380.0 C576.8,372.3 577.7,362.5 578.7,355.0 C579.7,347.5 580.6,342.6 582.2,335.0 C583.8,327.4 587.2,313.7 588.2,309.4" pathLength="100" fill="none" stroke="#3a9aa6" stroke-width="3.9999999999999996" stroke-dasharray="0 7 54 200" opacity="0.9"/>
<path d="M605.3,401.0 C605.0,398.7 605.2,392.5 603.8,387.0 C602.4,381.5 598.2,373.2 596.7,368.0 C595.1,362.8 594.0,360.7 594.5,356.0 C595.1,351.3 597.7,345.3 599.9,340.0 C602.1,334.7 606.5,327.0 607.8,324.4" fill="none" stroke="#3f7c9c" stroke-width="6.3" stroke-linecap="round"/>
<path d="M605.3,401.0 C605.0,398.7 605.2,392.5 603.8,387.0 C602.4,381.5 598.2,373.2 596.7,368.0 C595.1,362.8 594.0,360.7 594.5,356.0 C595.1,351.3 597.7,345.3 599.9,340.0 C602.1,334.7 606.5,327.0 607.8,324.4" fill="none" stroke="#4f8cae" stroke-width="4.6" stroke-linecap="round"/>
<path d="M605.3,401.0 C605.0,398.7 605.2,392.5 603.8,387.0 C602.4,381.5 598.2,373.2 596.7,368.0 C595.1,362.8 594.0,360.7 594.5,356.0 C595.1,351.3 597.7,345.3 599.9,340.0 C602.1,334.7 606.5,327.0 607.8,324.4" pathLength="100" fill="none" stroke="#3a9aa6" stroke-width="3.9999999999999996" stroke-dasharray="0 3 42 200" opacity="0.9"/>
<path d="M605.3,401.0 C605.5,397.5 605.7,387.7 606.3,380.0 C606.9,372.3 607.8,362.5 608.8,355.0 C609.8,347.5 610.4,342.2 612.3,335.0 C614.2,327.8 618.8,315.7 620.2,311.9" fill="none" stroke="#3f7c9c" stroke-width="6.3" stroke-linecap="round"/>
<path d="M605.3,401.0 C605.5,397.5 605.7,387.7 606.3,380.0 C606.9,372.3 607.8,362.5 608.8,355.0 C609.8,347.5 610.4,342.2 612.3,335.0 C614.2,327.8 618.8,315.7 620.2,311.9" fill="none" stroke="#4f8cae" stroke-width="4.6" stroke-linecap="round"/>
<path d="M634.4,401.0 C634.1,398.7 634.5,392.5 632.9,387.0 C631.3,381.5 626.6,373.2 624.9,368.0 C623.2,362.8 621.9,360.7 622.5,356.0 C623.1,351.3 626.1,345.5 628.5,340.0 C630.9,334.5 635.5,325.6 636.9,322.7" fill="none" stroke="#3f7c9c" stroke-width="6.3" stroke-linecap="round"/>
<path d="M634.4,401.0 C634.1,398.7 634.5,392.5 632.9,387.0 C631.3,381.5 626.6,373.2 624.9,368.0 C623.2,362.8 621.9,360.7 622.5,356.0 C623.1,351.3 626.1,345.5 628.5,340.0 C630.9,334.5 635.5,325.6 636.9,322.7" fill="none" stroke="#4f8cae" stroke-width="4.6" stroke-linecap="round"/>
<path d="M634.4,401.0 C634.1,398.7 634.5,392.5 632.9,387.0 C631.3,381.5 626.6,373.2 624.9,368.0 C623.2,362.8 621.9,360.7 622.5,356.0 C623.1,351.3 626.1,345.5 628.5,340.0 C630.9,334.5 635.5,325.6 636.9,322.7" pathLength="100" fill="none" stroke="#3a9aa6" stroke-width="3.9999999999999996" stroke-dasharray="0 17 46 200" opacity="0.9"/>
<path d="M634.4,401.0 C634.6,397.5 634.8,387.7 635.4,380.0 C636.0,372.3 636.9,362.5 637.9,355.0 C638.9,347.5 640.0,342.3 641.4,335.0 C642.8,327.7 645.6,315.0 646.4,311.0" fill="none" stroke="#3f7c9c" stroke-width="6.3" stroke-linecap="round"/>
<path d="M634.4,401.0 C634.6,397.5 634.8,387.7 635.4,380.0 C636.0,372.3 636.9,362.5 637.9,355.0 C638.9,347.5 640.0,342.3 641.4,335.0 C642.8,327.7 645.6,315.0 646.4,311.0" fill="none" stroke="#4f8cae" stroke-width="4.6" stroke-linecap="round"/>
<path d="M634.4,401.0 C634.6,397.5 634.8,387.7 635.4,380.0 C636.0,372.3 636.9,362.5 637.9,355.0 C638.9,347.5 640.0,342.3 641.4,335.0 C642.8,327.7 645.6,315.0 646.4,311.0" pathLength="100" fill="none" stroke="#3a9aa6" stroke-width="3.9999999999999996" stroke-dasharray="0 4 47 200" opacity="0.9"/>
<path d="M663.7,401.0 C663.4,398.7 663.7,392.5 662.2,387.0 C660.7,381.5 656.4,373.2 654.7,368.0 C653.1,362.8 651.9,360.7 652.5,356.0 C653.1,351.3 655.8,345.2 658.1,340.0 C660.4,334.8 664.8,327.4 666.2,324.8" fill="none" stroke="#3f7c9c" stroke-width="6.3" stroke-linecap="round"/>
<path d="M663.7,401.0 C663.4,398.7 663.7,392.5 662.2,387.0 C660.7,381.5 656.4,373.2 654.7,368.0 C653.1,362.8 651.9,360.7 652.5,356.0 C653.1,351.3 655.8,345.2 658.1,340.0 C660.4,334.8 664.8,327.4 666.2,324.8" fill="none" stroke="#4f8cae" stroke-width="4.6" stroke-linecap="round"/>
<path d="M663.7,401.0 C663.9,397.5 664.1,387.7 664.7,380.0 C665.3,372.3 666.2,362.5 667.2,355.0 C668.2,347.5 669.1,340.9 670.7,335.0 C672.3,329.1 675.9,322.1 676.9,319.5" fill="none" stroke="#3f7c9c" stroke-width="6.3" stroke-linecap="round"/>
<path d="M663.7,401.0 C663.9,397.5 664.1,387.7 664.7,380.0 C665.3,372.3 666.2,362.5 667.2,355.0 C668.2,347.5 669.1,340.9 670.7,335.0 C672.3,329.1 675.9,322.1 676.9,319.5" fill="none" stroke="#4f8cae" stroke-width="4.6" stroke-linecap="round"/>
<path d="M663.7,401.0 C663.9,397.5 664.1,387.7 664.7,380.0 C665.3,372.3 666.2,362.5 667.2,355.0 C668.2,347.5 669.1,340.9 670.7,335.0 C672.3,329.1 675.9,322.1 676.9,319.5" pathLength="100" fill="none" stroke="#3a9aa6" stroke-width="3.9999999999999996" stroke-dasharray="0 15 55 200" opacity="0.9"/>
<path d="M691.1,401.0 C690.9,398.7 691.1,392.5 689.6,387.0 C688.1,381.5 683.5,373.2 681.8,368.0 C680.2,362.8 678.9,360.7 679.5,356.0 C680.1,351.3 683.0,344.9 685.3,340.0 C687.7,335.1 692.2,328.9 693.6,326.6" fill="none" stroke="#3f7c9c" stroke-width="6.3" stroke-linecap="round"/>
<path d="M691.1,401.0 C690.9,398.7 691.1,392.5 689.6,387.0 C688.1,381.5 683.5,373.2 681.8,368.0 C680.2,362.8 678.9,360.7 679.5,356.0 C680.1,351.3 683.0,344.9 685.3,340.0 C687.7,335.1 692.2,328.9 693.6,326.6" fill="none" stroke="#4f8cae" stroke-width="4.6" stroke-linecap="round"/>
<path d="M691.1,401.0 C691.3,397.5 691.5,387.7 692.1,380.0 C692.7,372.3 693.6,362.5 694.6,355.0 C695.6,347.5 696.4,341.3 698.1,335.0 C699.8,328.7 703.5,320.0 704.6,317.0" fill="none" stroke="#3f7c9c" stroke-width="6.3" stroke-linecap="round"/>
<path d="M691.1,401.0 C691.3,397.5 691.5,387.7 692.1,380.0 C692.7,372.3 693.6,362.5 694.6,355.0 C695.6,347.5 696.4,341.3 698.1,335.0 C699.8,328.7 703.5,320.0 704.6,317.0" fill="none" stroke="#4f8cae" stroke-width="4.6" stroke-linecap="round"/>
<path d="M691.1,401.0 C691.3,397.5 691.5,387.7 692.1,380.0 C692.7,372.3 693.6,362.5 694.6,355.0 C695.6,347.5 696.4,341.3 698.1,335.0 C699.8,328.7 703.5,320.0 704.6,317.0" pathLength="100" fill="none" stroke="#3a9aa6" stroke-width="3.9999999999999996" stroke-dasharray="0 1 59 200" opacity="0.9"/>
<path d="M719.5,401.0 C719.2,398.7 719.2,392.5 718.0,387.0 C716.7,381.5 713.1,373.2 711.7,368.0 C710.3,362.8 709.3,360.7 709.8,356.0 C710.2,351.3 712.6,345.6 714.6,340.0 C716.6,334.4 720.7,325.3 722.0,322.3" fill="none" stroke="#3f7c9c" stroke-width="6.3" stroke-linecap="round"/>
<path d="M719.5,401.0 C719.2,398.7 719.2,392.5 718.0,387.0 C716.7,381.5 713.1,373.2 711.7,368.0 C710.3,362.8 709.3,360.7 709.8,356.0 C710.2,351.3 712.6,345.6 714.6,340.0 C716.6,334.4 720.7,325.3 722.0,322.3" fill="none" stroke="#4f8cae" stroke-width="4.6" stroke-linecap="round"/>
<path d="M719.5,401.0 C719.2,398.7 719.2,392.5 718.0,387.0 C716.7,381.5 713.1,373.2 711.7,368.0 C710.3,362.8 709.3,360.7 709.8,356.0 C710.2,351.3 712.6,345.6 714.6,340.0 C716.6,334.4 720.7,325.3 722.0,322.3" pathLength="100" fill="none" stroke="#3a9aa6" stroke-width="3.9999999999999996" stroke-dasharray="0 5 53 200" opacity="0.9"/>
<path d="M719.5,401.0 C719.6,397.5 719.9,387.7 720.5,380.0 C721.0,372.3 722.0,362.5 723.0,355.0 C724.0,347.5 725.3,342.5 726.5,335.0 C727.6,327.5 729.5,314.2 730.1,310.0" fill="none" stroke="#3f7c9c" stroke-width="6.3" stroke-linecap="round"/>
<path d="M719.5,401.0 C719.6,397.5 719.9,387.7 720.5,380.0 C721.0,372.3 722.0,362.5 723.0,355.0 C724.0,347.5 725.3,342.5 726.5,335.0 C727.6,327.5 729.5,314.2 730.1,310.0" fill="none" stroke="#4f8cae" stroke-width="4.6" stroke-linecap="round"/>
<path d="M747.7,401.0 C747.5,398.7 747.5,392.5 746.2,387.0 C744.9,381.5 741.3,373.2 739.9,368.0 C738.5,362.8 737.4,360.7 737.9,356.0 C738.4,351.3 740.8,345.5 742.8,340.0 C744.9,334.5 749.0,325.8 750.2,323.0" fill="none" stroke="#3f7c9c" stroke-width="6.3" stroke-linecap="round"/>
<path d="M747.7,401.0 C747.5,398.7 747.5,392.5 746.2,387.0 C744.9,381.5 741.3,373.2 739.9,368.0 C738.5,362.8 737.4,360.7 737.9,356.0 C738.4,351.3 740.8,345.5 742.8,340.0 C744.9,334.5 749.0,325.8 750.2,323.0" fill="none" stroke="#4f8cae" stroke-width="4.6" stroke-linecap="round"/>
<path d="M747.7,401.0 C747.9,397.5 748.1,387.7 748.7,380.0 C749.3,372.3 750.2,362.5 751.2,355.0 C752.2,347.5 752.7,342.2 754.7,335.0 C756.7,327.8 761.9,315.6 763.3,311.7" fill="none" stroke="#3f7c9c" stroke-width="6.3" stroke-linecap="round"/>
<path d="M747.7,401.0 C747.9,397.5 748.1,387.7 748.7,380.0 C749.3,372.3 750.2,362.5 751.2,355.0 C752.2,347.5 752.7,342.2 754.7,335.0 C756.7,327.8 761.9,315.6 763.3,311.7" fill="none" stroke="#4f8cae" stroke-width="4.6" stroke-linecap="round"/>
<path d="M776.3,401.0 C776.1,398.7 776.2,392.5 774.8,387.0 C773.5,381.5 769.7,373.2 768.2,368.0 C766.8,362.8 765.7,360.7 766.2,356.0 C766.7,351.3 769.2,345.0 771.3,340.0 C773.4,335.0 777.6,328.2 778.8,325.8" fill="none" stroke="#3f7c9c" stroke-width="6.3" stroke-linecap="round"/>
<path d="M776.3,401.0 C776.1,398.7 776.2,392.5 774.8,387.0 C773.5,381.5 769.7,373.2 768.2,368.0 C766.8,362.8 765.7,360.7 766.2,356.0 C766.7,351.3 769.2,345.0 771.3,340.0 C773.4,335.0 777.6,328.2 778.8,325.8" fill="none" stroke="#4f8cae" stroke-width="4.6" stroke-linecap="round"/>
<path d="M776.3,401.0 C776.5,397.5 776.8,387.7 777.3,380.0 C777.9,372.3 778.8,362.5 779.8,355.0 C780.8,347.5 781.3,342.3 783.3,335.0 C785.4,327.7 790.8,315.1 792.3,311.1" fill="none" stroke="#3f7c9c" stroke-width="6.3" stroke-linecap="round"/>
<path d="M776.3,401.0 C776.5,397.5 776.8,387.7 777.3,380.0 C777.9,372.3 778.8,362.5 779.8,355.0 C780.8,347.5 781.3,342.3 783.3,335.0 C785.4,327.7 790.8,315.1 792.3,311.1" fill="none" stroke="#4f8cae" stroke-width="4.6" stroke-linecap="round"/>
<path d="M805.4,401.0 C805.1,398.7 805.2,392.5 803.9,387.0 C802.6,381.5 799.0,373.2 797.6,368.0 C796.3,362.8 795.2,360.7 795.7,356.0 C796.2,351.3 798.5,344.9 800.5,340.0 C802.6,335.1 806.6,329.0 807.9,326.7" fill="none" stroke="#3f7c9c" stroke-width="6.3" stroke-linecap="round"/>
<path d="M805.4,401.0 C805.1,398.7 805.2,392.5 803.9,387.0 C802.6,381.5 799.0,373.2 797.6,368.0 C796.3,362.8 795.2,360.7 795.7,356.0 C796.2,351.3 798.5,344.9 800.5,340.0 C802.6,335.1 806.6,329.0 807.9,326.7" fill="none" stroke="#4f8cae" stroke-width="4.6" stroke-linecap="round"/>
<path d="M805.4,401.0 C805.1,398.7 805.2,392.5 803.9,387.0 C802.6,381.5 799.0,373.2 797.6,368.0 C796.3,362.8 795.2,360.7 795.7,356.0 C796.2,351.3 798.5,344.9 800.5,340.0 C802.6,335.1 806.6,329.0 807.9,326.7" pathLength="100" fill="none" stroke="#3a9aa6" stroke-width="3.9999999999999996" stroke-dasharray="0 15 54 200" opacity="0.9"/>
<path d="M805.4,401.0 C805.5,397.5 805.8,387.7 806.4,380.0 C807.0,372.3 807.9,362.5 808.9,355.0 C809.9,347.5 811.3,341.0 812.4,335.0 C813.5,329.0 815.0,321.7 815.6,319.1" fill="none" stroke="#3f7c9c" stroke-width="6.3" stroke-linecap="round"/>
<path d="M805.4,401.0 C805.5,397.5 805.8,387.7 806.4,380.0 C807.0,372.3 807.9,362.5 808.9,355.0 C809.9,347.5 811.3,341.0 812.4,335.0 C813.5,329.0 815.0,321.7 815.6,319.1" fill="none" stroke="#4f8cae" stroke-width="4.6" stroke-linecap="round"/>
<path d="M805.4,401.0 C805.5,397.5 805.8,387.7 806.4,380.0 C807.0,372.3 807.9,362.5 808.9,355.0 C809.9,347.5 811.3,341.0 812.4,335.0 C813.5,329.0 815.0,321.7 815.6,319.1" pathLength="100" fill="none" stroke="#3a9aa6" stroke-width="3.9999999999999996" stroke-dasharray="0 5 36 200" opacity="0.9"/>
<path d="M833.4,401.0 C833.2,398.7 833.2,392.5 831.9,387.0 C830.6,381.5 826.9,373.2 825.5,368.0 C824.1,362.8 823.0,360.7 823.5,356.0 C824.0,351.3 826.4,344.7 828.4,340.0 C830.5,335.3 834.7,329.6 835.9,327.5" fill="none" stroke="#3f7c9c" stroke-width="6.3" stroke-linecap="round"/>
<path d="M833.4,401.0 C833.2,398.7 833.2,392.5 831.9,387.0 C830.6,381.5 826.9,373.2 825.5,368.0 C824.1,362.8 823.0,360.7 823.5,356.0 C824.0,351.3 826.4,344.7 828.4,340.0 C830.5,335.3 834.7,329.6 835.9,327.5" fill="none" stroke="#4f8cae" stroke-width="4.6" stroke-linecap="round"/>
<path d="M833.4,401.0 C833.2,398.7 833.2,392.5 831.9,387.0 C830.6,381.5 826.9,373.2 825.5,368.0 C824.1,362.8 823.0,360.7 823.5,356.0 C824.0,351.3 826.4,344.7 828.4,340.0 C830.5,335.3 834.7,329.6 835.9,327.5" pathLength="100" fill="none" stroke="#3a9aa6" stroke-width="3.9999999999999996" stroke-dasharray="0 3 52 200" opacity="0.9"/>
<path d="M833.4,401.0 C833.6,397.5 833.8,387.7 834.4,380.0 C835.0,372.3 835.9,362.5 836.9,355.0 C837.9,347.5 838.7,340.8 840.4,335.0 C842.2,329.2 846.2,322.8 847.4,320.4" fill="none" stroke="#3f7c9c" stroke-width="6.3" stroke-linecap="round"/>
<path d="M833.4,401.0 C833.6,397.5 833.8,387.7 834.4,380.0 C835.0,372.3 835.9,362.5 836.9,355.0 C837.9,347.5 838.7,340.8 840.4,335.0 C842.2,329.2 846.2,322.8 847.4,320.4" fill="none" stroke="#4f8cae" stroke-width="4.6" stroke-linecap="round"/>
<path d="M862.9,401.0 C862.7,398.7 862.8,392.5 861.4,387.0 C860.0,381.5 855.9,373.2 854.4,368.0 C852.8,362.8 851.7,360.7 852.2,356.0 C852.8,351.3 855.4,345.6 857.6,340.0 C859.8,334.4 864.1,325.1 865.4,322.1" fill="none" stroke="#3f7c9c" stroke-width="6.3" stroke-linecap="round"/>
<path d="M862.9,401.0 C862.7,398.7 862.8,392.5 861.4,387.0 C860.0,381.5 855.9,373.2 854.4,368.0 C852.8,362.8 851.7,360.7 852.2,356.0 C852.8,351.3 855.4,345.6 857.6,340.0 C859.8,334.4 864.1,325.1 865.4,322.1" fill="none" stroke="#4f8cae" stroke-width="4.6" stroke-linecap="round"/>
<path d="M862.9,401.0 C863.1,397.5 863.3,387.7 863.9,380.0 C864.5,372.3 865.4,362.5 866.4,355.0 C867.4,347.5 868.6,342.1 869.9,335.0 C871.3,327.9 873.7,316.0 874.5,312.2" fill="none" stroke="#3f7c9c" stroke-width="6.3" stroke-linecap="round"/>
<path d="M862.9,401.0 C863.1,397.5 863.3,387.7 863.9,380.0 C864.5,372.3 865.4,362.5 866.4,355.0 C867.4,347.5 868.6,342.1 869.9,335.0 C871.3,327.9 873.7,316.0 874.5,312.2" fill="none" stroke="#4f8cae" stroke-width="4.6" stroke-linecap="round"/>
<path d="M891.8,401.0 C891.5,398.7 891.7,392.5 890.3,387.0 C888.9,381.5 884.9,373.2 883.4,368.0 C881.9,362.8 880.7,360.7 881.3,356.0 C881.8,351.3 884.4,345.7 886.5,340.0 C888.7,334.3 893.0,324.8 894.3,321.8" fill="none" stroke="#3f7c9c" stroke-width="6.3" stroke-linecap="round"/>
<path d="M891.8,401.0 C891.5,398.7 891.7,392.5 890.3,387.0 C888.9,381.5 884.9,373.2 883.4,368.0 C881.9,362.8 880.7,360.7 881.3,356.0 C881.8,351.3 884.4,345.7 886.5,340.0 C888.7,334.3 893.0,324.8 894.3,321.8" fill="none" stroke="#4f8cae" stroke-width="4.6" stroke-linecap="round"/>
<path d="M891.8,401.0 C891.5,398.7 891.7,392.5 890.3,387.0 C888.9,381.5 884.9,373.2 883.4,368.0 C881.9,362.8 880.7,360.7 881.3,356.0 C881.8,351.3 884.4,345.7 886.5,340.0 C888.7,334.3 893.0,324.8 894.3,321.8" pathLength="100" fill="none" stroke="#3a9aa6" stroke-width="3.9999999999999996" stroke-dasharray="0 16 32 200" opacity="0.9"/>
<path d="M891.8,401.0 C892.0,397.5 892.2,387.7 892.8,380.0 C893.4,372.3 894.3,362.5 895.3,355.0 C896.3,347.5 897.6,340.5 898.8,335.0 C900.0,329.5 901.8,324.1 902.3,322.0" fill="none" stroke="#3f7c9c" stroke-width="6.3" stroke-linecap="round"/>
<path d="M891.8,401.0 C892.0,397.5 892.2,387.7 892.8,380.0 C893.4,372.3 894.3,362.5 895.3,355.0 C896.3,347.5 897.6,340.5 898.8,335.0 C900.0,329.5 901.8,324.1 902.3,322.0" fill="none" stroke="#4f8cae" stroke-width="4.6" stroke-linecap="round"/>
<path d="M891.8,401.0 C892.0,397.5 892.2,387.7 892.8,380.0 C893.4,372.3 894.3,362.5 895.3,355.0 C896.3,347.5 897.6,340.5 898.8,335.0 C900.0,329.5 901.8,324.1 902.3,322.0" pathLength="100" fill="none" stroke="#3a9aa6" stroke-width="3.9999999999999996" stroke-dasharray="0 6 28 200" opacity="0.9"/>
<path d="M920.3,401.0 C920.0,398.7 920.0,392.5 918.8,387.0 C917.5,381.5 914.2,373.2 912.9,368.0 C911.6,362.8 910.6,360.7 911.1,356.0 C911.5,351.3 913.7,344.9 915.7,340.0 C917.6,335.1 921.6,328.6 922.8,326.3" fill="none" stroke="#3f7c9c" stroke-width="6.3" stroke-linecap="round"/>
<path d="M920.3,401.0 C920.0,398.7 920.0,392.5 918.8,387.0 C917.5,381.5 914.2,373.2 912.9,368.0 C911.6,362.8 910.6,360.7 911.1,356.0 C911.5,351.3 913.7,344.9 915.7,340.0 C917.6,335.1 921.6,328.6 922.8,326.3" fill="none" stroke="#4f8cae" stroke-width="4.6" stroke-linecap="round"/>
<path d="M920.3,401.0 C920.4,397.5 920.7,387.7 921.3,380.0 C921.8,372.3 922.8,362.5 923.8,355.0 C924.8,347.5 925.8,341.8 927.3,335.0 C928.7,328.2 931.7,317.9 932.5,314.5" fill="none" stroke="#3f7c9c" stroke-width="6.3" stroke-linecap="round"/>
<path d="M920.3,401.0 C920.4,397.5 920.7,387.7 921.3,380.0 C921.8,372.3 922.8,362.5 923.8,355.0 C924.8,347.5 925.8,341.8 927.3,335.0 C928.7,328.2 931.7,317.9 932.5,314.5" fill="none" stroke="#4f8cae" stroke-width="4.6" stroke-linecap="round"/>
<path d="M950.9,401.0 C950.7,398.7 950.9,392.5 949.4,387.0 C948.0,381.5 943.6,373.2 942.0,368.0 C940.4,362.8 939.2,360.7 939.8,356.0 C940.3,351.3 943.1,344.9 945.4,340.0 C947.6,335.1 952.1,329.1 953.4,326.9" fill="none" stroke="#3f7c9c" stroke-width="6.3" stroke-linecap="round"/>
<path d="M950.9,401.0 C950.7,398.7 950.9,392.5 949.4,387.0 C948.0,381.5 943.6,373.2 942.0,368.0 C940.4,362.8 939.2,360.7 939.8,356.0 C940.3,351.3 943.1,344.9 945.4,340.0 C947.6,335.1 952.1,329.1 953.4,326.9" fill="none" stroke="#4f8cae" stroke-width="4.6" stroke-linecap="round"/>
<path d="M950.9,401.0 C951.1,397.5 951.4,387.7 951.9,380.0 C952.5,372.3 953.4,362.5 954.4,355.0 C955.4,347.5 956.2,342.6 957.9,335.0 C959.7,327.4 963.9,313.5 965.0,309.1" fill="none" stroke="#3f7c9c" stroke-width="6.3" stroke-linecap="round"/>
<path d="M950.9,401.0 C951.1,397.5 951.4,387.7 951.9,380.0 C952.5,372.3 953.4,362.5 954.4,355.0 C955.4,347.5 956.2,342.6 957.9,335.0 C959.7,327.4 963.9,313.5 965.0,309.1" fill="none" stroke="#4f8cae" stroke-width="4.6" stroke-linecap="round"/>
<path d="M950.9,401.0 C951.1,397.5 951.4,387.7 951.9,380.0 C952.5,372.3 953.4,362.5 954.4,355.0 C955.4,347.5 956.2,342.6 957.9,335.0 C959.7,327.4 963.9,313.5 965.0,309.1" pathLength="100" fill="none" stroke="#3a9aa6" stroke-width="3.9999999999999996" stroke-dasharray="0 6 45 200" opacity="0.9"/>
<path d="M981.3,401.0 C981.0,398.7 981.2,392.5 979.8,387.0 C978.4,381.5 974.5,373.2 973.0,368.0 C971.5,362.8 970.4,360.7 970.9,356.0 C971.4,351.3 974.0,345.9 976.1,340.0 C978.2,334.1 982.5,324.1 983.8,320.9" fill="none" stroke="#3f7c9c" stroke-width="6.3" stroke-linecap="round"/>
<path d="M981.3,401.0 C981.0,398.7 981.2,392.5 979.8,387.0 C978.4,381.5 974.5,373.2 973.0,368.0 C971.5,362.8 970.4,360.7 970.9,356.0 C971.4,351.3 974.0,345.9 976.1,340.0 C978.2,334.1 982.5,324.1 983.8,320.9" fill="none" stroke="#4f8cae" stroke-width="4.6" stroke-linecap="round"/>
<path d="M981.3,401.0 C981.4,397.5 981.7,387.7 982.3,380.0 C982.9,372.3 983.8,362.5 984.8,355.0 C985.8,347.5 986.2,341.7 988.3,335.0 C990.3,328.3 995.6,318.0 997.0,314.7" fill="none" stroke="#3f7c9c" stroke-width="6.3" stroke-linecap="round"/>
<path d="M981.3,401.0 C981.4,397.5 981.7,387.7 982.3,380.0 C982.9,372.3 983.8,362.5 984.8,355.0 C985.8,347.5 986.2,341.7 988.3,335.0 C990.3,328.3 995.6,318.0 997.0,314.7" fill="none" stroke="#4f8cae" stroke-width="4.6" stroke-linecap="round"/>
<path d="M981.3,401.0 C981.4,397.5 981.7,387.7 982.3,380.0 C982.9,372.3 983.8,362.5 984.8,355.0 C985.8,347.5 986.2,341.7 988.3,335.0 C990.3,328.3 995.6,318.0 997.0,314.7" pathLength="100" fill="none" stroke="#3a9aa6" stroke-width="3.9999999999999996" stroke-dasharray="0 13 50 200" opacity="0.9"/>
</g></g>
<g clip-path="url(#clipR)">
<path d="M532.4,406 Q523.0,421.5 521.9,436.1 M525.1,427.1 l-5.8,11.1 M524.3,406 Q520.6,419.4 523.0,431.9 M518.4,406 Q512.4,414.7 511.0,422.4 M513.4,417.0 l-2.4,6.9 M534.1,406 Q537.4,418.3 537.4,429.5 M536.1,420.3 l-0.0,11.2 M547.5,406 Q544.3,415.9 549.8,424.8 M540.9,406 Q537.4,424.0 532.3,440.9 M547.2,406 Q547.9,418.1 541.2,429.1 M543.4,420.6 l-8.0,11.5 M566.2,406 Q562.7,416.5 566.3,426.0 M566.2,417.0 l-8.6,13.2 M560.8,406 Q561.1,416.7 566.4,426.4 M563.6,416.3 l-4.7,9.4 M558.7,406 Q560.1,423.4 568.1,439.8 M562.9,421.2 l3.3,13.8 M555.9,406 Q554.8,417.5 563.4,428.0 M576.4,406 Q572.1,418.6 568.9,430.2 M572.1,420.0 l-4.2,6.8 M570.8,406 Q563.9,419.7 559.8,432.4 M603.1,406 Q593.4,414.7 590.9,422.3 M596.1,415.3 l4.9,8.8 M602.9,406 Q593.0,422.9 589.0,438.7 M588.0,406 Q599.4,422.1 601.0,437.2 M593.9,420.1 l9.4,9.5 M588.8,406 Q590.0,419.5 591.7,431.9 M590.1,417.3 l1.6,9.6 M614.1,406 Q616.0,419.2 620.1,431.4 M616.9,417.9 l-6.0,9.6 M604.2,406 Q608.5,421.6 610.5,436.2 M607.4,421.4 l-1.4,6.7 M618.0,406 Q623.6,419.5 625.1,432.1 M621.3,418.2 l0.5,12.0 M631.5,406 Q641.5,421.9 642.9,436.9 M625.2,406 Q627.1,420.0 619.5,432.9 M621.3,424.4 l7.0,10.1 M653.2,406 Q647.3,423.0 647.5,438.9 M649.3,428.6 l6.9,8.5 M645.3,406 Q648.7,422.9 648.5,438.9 M652.3,406 Q655.4,420.5 661.3,434.1 M657.2,421.4 l0.6,12.7 M645.0,406 Q636.6,421.8 632.9,436.7 M639.7,419.3 l6.6,8.2 M665.0,406 Q661.1,423.4 658.8,439.8 M660.7,429.3 l5.8,12.0 M661.0,406 Q668.7,420.5 669.8,433.9 M666.5,423.7 l5.9,9.1 M667.5,406 Q675.6,424.4 675.3,441.9 M659.2,406 Q656.6,421.4 662.3,435.7 M661.2,425.6 l8.1,13.4 M685.6,406 Q683.1,417.7 689.8,428.4 M685.5,406 Q690.9,418.2 689.8,429.3 M683.3,406 Q682.7,417.7 686.1,428.4 M684.7,417.1 l0.4,6.9 M694.1,406 Q689.9,418.4 687.2,429.8 M693.1,406 Q686.0,417.4 685.3,427.9 M693.2,406 Q689.3,420.1 680.7,433.1 M724.1,406 Q728.0,419.3 730.7,431.6 M725.9,406 Q730.2,415.8 738.0,424.7 M731.4,414.4 l5.2,6.5 M724.2,406 Q724.5,420.6 726.6,434.3 M743.4,406 Q745.9,424.3 748.7,441.7 M746.9,429.3 l0.6,8.5 M739.5,406 Q742.5,415.8 738.8,424.6 M739.0,418.8 l0.7,13.5 M733.2,406 Q731.9,419.8 725.3,432.5 M739.0,406 Q729.0,418.4 728.4,429.9 M731.8,422.3 l-3.1,11.6 M758.6,406 Q753.5,416.3 746.8,425.7 M750.5,419.6 l-1.5,11.0 M763.0,406 Q752.9,424.5 752.0,442.0 M772.5,406 Q778.6,421.0 785.1,435.0 M778.4,419.7 l-2.7,8.8 M772.8,406 Q778.4,418.2 781.4,429.5 M776.6,416.4 l4.2,13.1 M771.8,406 Q763.9,416.8 758.7,426.7 M764.4,417.7 l-4.0,11.2 M779.4,406 Q784.2,421.9 787.3,436.8 M784.6,426.1 l-4.2,12.9 M792.4,406 Q795.3,417.9 796.7,428.8 M790.2,406 Q791.3,419.1 793.0,431.1 M791.8,420.2 l4.2,7.4 M786.7,406 Q794.2,415.4 795.8,423.8 M804.2,406 Q805.7,416.5 814.9,425.9 M810.8,418.3 l-5.8,8.5 M815.8,406 Q819.8,421.9 822.4,436.8 M800.3,406 Q808.2,417.8 809.1,428.6 M806.2,421.2 l-10.0,13.8 M822.6,406 Q834.2,421.7 836.2,436.3 M821.7,406 Q818.9,416.0 811.8,424.9 M825.5,406 Q825.0,420.5 821.2,433.9 M822.9,423.0 l-6.0,6.2 M840.6,406 Q838.6,418.5 832.9,429.9 M836.3,419.3 l2.1,9.2 M832.8,406 Q832.3,421.5 838.1,436.0 M839.9,406 Q845.0,422.3 850.2,437.6 M847.2,406 Q848.9,419.6 842.9,432.1 M860.5,406 Q866.8,424.2 870.8,441.4 M853.4,406 Q850.6,422.5 845.6,437.9 M849.7,421.1 l-5.6,11.8 M875.7,406 Q876.0,417.2 877.5,427.3 M867.0,406 Q866.7,420.4 859.6,433.9 M871.1,406 Q873.7,415.7 878.6,424.4 M893.6,406 Q897.3,420.0 893.3,433.0 M887.2,406 Q891.9,423.9 894.4,440.9 M890.9,423.9 l-0.3,10.6 M893.8,406 Q886.2,424.5 883.0,442.0 M888.8,422.5 l2.6,6.6 M905.7,406 Q905.4,416.1 905.4,425.2 M910.8,406 Q917.1,424.0 923.9,441.0 M919.0,428.0 l7.6,10.3 M911.4,406 Q914.1,419.6 916.7,432.3 M914.2,420.0 l-0.5,12.4 M930.8,406 Q935.1,421.5 931.1,435.9 M925.1,406 Q930.9,420.7 937.7,434.5 M930.7,418.8 l5.8,13.2 M943.7,406 Q949.3,417.3 946.7,427.5 M945.5,419.2 l3.8,9.5 M944.1,406 Q941.2,420.0 935.4,433.0 M937.5,406 Q929.3,415.5 928.6,424.0 M932.7,415.8 l1.4,11.6 M950.8,406 Q948.9,415.7 946.6,424.4 M948.4,416.6 l-1.1,8.9 M955.6,406 Q950.0,416.4 944.6,425.9 M950.9,414.5 l6.9,6.2 M952.4,406 Q951.8,417.8 950.9,428.7 M959.9,406 Q965.6,419.2 967.8,431.4 M963.4,417.1 l-8.5,7.5 M976.9,406 Q975.7,423.7 981.6,440.4 M967.9,406 Q972.0,424.3 978.8,441.7 M976.0,406 Q981.3,423.1 977.7,439.1 M976.8,421.4 l8.3,10.7" fill="none" stroke="#9e7c58" stroke-width="1.15" opacity="0.95"/>
<path d="M550,408 Q564.5,412.0 575,420" fill="none" stroke="#c4873a" stroke-width="3.6" stroke-linecap="round"/>
<path d="M630,408 Q644.5,412.0 655,420" fill="none" stroke="#c4873a" stroke-width="3.6" stroke-linecap="round"/>
<path d="M820,408 Q834.5,411.0 845,418" fill="none" stroke="#c4873a" stroke-width="3.6" stroke-linecap="round"/>
<path d="M900,408 Q912.0,412.0 920,420" fill="none" stroke="#c4873a" stroke-width="3.6" stroke-linecap="round"/>
<path d="M505.0,403.5 C508.3,403.5 518.5,403.2 524.7,403.2 C530.9,403.1 537.1,402.5 542.3,403.0 C547.6,403.5 551.7,406.0 556.3,406.3 C560.9,406.6 565.1,405.3 570.0,405.0 C574.9,404.7 580.4,404.6 585.7,404.3 C590.9,404.1 595.9,403.6 601.6,403.4 C607.4,403.2 614.8,403.1 620.3,403.0 C625.7,402.9 629.5,402.6 634.1,402.8 C638.8,403.0 642.7,404.0 648.3,404.2 C653.8,404.4 662.1,404.2 667.5,404.1 C672.8,404.0 674.9,403.8 680.4,403.6 C685.9,403.4 694.2,402.9 700.3,402.9 C706.5,403.0 711.6,403.9 717.3,404.1 C723.0,404.2 728.8,403.8 734.6,403.9 C740.4,404.0 746.3,404.2 752.1,404.5 C757.9,404.8 763.7,406.2 769.3,405.9 C775.0,405.7 781.1,403.2 786.0,403.2 C790.8,403.2 793.7,406.1 798.5,406.1 C803.2,406.1 808.5,403.6 814.4,403.4 C820.3,403.2 827.7,404.4 834.0,404.8 C840.2,405.2 846.4,406.0 851.8,405.9 C857.1,405.7 860.5,404.4 866.1,404.0 C871.6,403.5 878.9,403.3 885.1,403.2 C891.3,403.0 897.3,402.7 903.2,403.1 C909.2,403.4 914.5,404.8 920.7,405.2 C926.9,405.7 934.4,406.0 940.3,405.7 C946.3,405.4 951.5,403.6 956.4,403.4 C961.2,403.2 964.7,404.7 969.6,404.6 C974.4,404.5 979.8,403.0 985.6,403.0 C991.5,402.9 1001.7,404.3 1004.9,404.5" fill="none" stroke="#c4873a" stroke-width="7.2" stroke-linecap="round"/>
</g>
<line x1="631.8" y1="559.6" x2="707.7" y2="505.5" stroke="#000" stroke-width="5.5"/>
<line x1="698.7" y1="501.1" x2="716.7" y2="509.9" stroke="#000" stroke-width="4.2"/>
<line x1="725.7" y1="492.9" x2="783.4" y2="453.6" stroke="#000" stroke-width="5.5"/>
<polygon points="802.4,440.6 788.8,465.0 774.7,444.4" fill="#000"/>
<line x1="716.7" y1="488.5" x2="734.7" y2="497.3" stroke="#000" stroke-width="4.2"/>
<line x1="822.7" y1="458.4" x2="751.4" y2="508.8" stroke="#000" stroke-width="5.5"/>
<line x1="742.4" y1="504.4" x2="760.4" y2="513.2" stroke="#000" stroke-width="4.2"/>
<line x1="734.0" y1="521.0" x2="684.4" y2="553.8" stroke="#000" stroke-width="5.5"/>
<polygon points="665.2,566.5 679.2,542.3 692.9,563.1" fill="#000"/>
<line x1="725.0" y1="516.6" x2="743.0" y2="525.4" stroke="#000" stroke-width="4.2"/>
<rect x="893.5" y="444.6" width="9.9" height="192" fill="#000"/>
<polygon points="879.7,635.4 917.2,635.4 898.4,671.6" fill="#000"/>
<rect x="849.8" y="481" width="10.4" height="21.8" fill="#000"/>
<rect x="849.8" y="514" width="10.4" height="20.3" fill="#000"/>
<rect x="849.8" y="545.7" width="10.4" height="20.7" fill="#000"/>
<rect x="849.8" y="577.5" width="10.4" height="20.7" fill="#000"/>
<rect x="849.8" y="609" width="10.4" height="20.7" fill="#000"/>
<rect x="849.8" y="640.5" width="10.4" height="20.6" fill="#000"/>
<polygon points="854.8,445 836.2,481.8 873.4,481.8" fill="#000"/>
<polygon points="854.8,456.8 844.6,477 865,477" fill="#b2aea3"/>
<text transform="translate(833.85 660.92) rotate(-90)" style="font-size:27.3px;" fill="#111">Sulfide toxicity</text>
<text transform="translate(932.65 631.17) rotate(-90)" style="font-size:27.3px;" fill="#111">Organic matter</text>
<g transform="translate(510 0)">
<path d="M117.4,568.5 C121.1,568.8 125.2,571.2 128.4,572.8 C131.7,574.4 132.4,576.3 136.9,577.9 C141.4,579.5 149.7,580.1 155.6,582.1 C161.5,584.1 167.2,586.7 172.6,589.8 C178.0,592.9 183.7,597.0 187.9,600.8 C192.2,604.6 195.8,608.7 198.1,612.7 C200.4,616.7 201.1,620.1 201.5,624.6 C201.9,629.1 201.5,634.2 200.7,639.9 C199.8,645.6 198.5,652.6 196.4,658.6 C194.3,664.6 191.3,670.5 187.9,675.6 C184.5,680.7 180.8,685.0 176.0,689.2 C171.2,693.5 165.2,697.7 159.0,701.1 C152.8,704.5 145.4,707.6 138.6,709.6 C131.8,711.6 125.0,712.7 118.2,713.0 C111.4,713.3 104.3,712.7 97.8,711.3 C91.3,709.9 85.0,707.9 79.1,704.5 C73.1,701.1 66.8,696.3 62.1,690.9 C57.4,685.5 53.7,678.7 51.1,672.2 C48.5,665.7 47.4,658.6 46.8,651.8 C46.2,645.0 46.6,638.2 47.7,631.4 C48.8,624.6 50.6,617.2 53.6,611.0 C56.6,604.8 61.0,598.7 65.5,594.0 C70.0,589.3 76.0,585.8 80.8,583.0 C85.6,580.2 90.2,579.0 94.4,577.0 C98.7,575.0 102.5,572.4 106.3,571.0 C110.1,569.6 113.7,568.2 117.4,568.5Z" fill="url(#shellg)"/>
<path d="M117.4,568.5 C121.1,568.8 125.2,571.2 128.4,572.8 C131.7,574.4 132.4,576.3 136.9,577.9 C141.4,579.5 149.7,580.1 155.6,582.1 C161.5,584.1 167.2,586.7 172.6,589.8 C178.0,592.9 183.7,597.0 187.9,600.8 C192.2,604.6 195.8,608.7 198.1,612.7 C200.4,616.7 201.1,620.1 201.5,624.6 C201.9,629.1 201.5,634.2 200.7,639.9 C199.8,645.6 198.5,652.6 196.4,658.6 C194.3,664.6 191.3,670.5 187.9,675.6 C184.5,680.7 180.8,685.0 176.0,689.2 C171.2,693.5 165.2,697.7 159.0,701.1 C152.8,704.5 145.4,707.6 138.6,709.6 C131.8,711.6 125.0,712.7 118.2,713.0 C111.4,713.3 104.3,712.7 97.8,711.3 C91.3,709.9 85.0,707.9 79.1,704.5 C73.1,701.1 66.8,696.3 62.1,690.9 C57.4,685.5 53.7,678.7 51.1,672.2 C48.5,665.7 47.4,658.6 46.8,651.8 C46.2,645.0 46.6,638.2 47.7,631.4 C48.8,624.6 50.6,617.2 53.6,611.0 C56.6,604.8 61.0,598.7 65.5,594.0 C70.0,589.3 76.0,585.8 80.8,583.0 C85.6,580.2 90.2,579.0 94.4,577.0 C98.7,575.0 102.5,572.4 106.3,571.0 C110.1,569.6 113.7,568.2 117.4,568.5Z" fill="url(#shellside)"/>
<clipPath id="shcR"><path d="M117.4,568.5 C121.1,568.8 125.2,571.2 128.4,572.8 C131.7,574.4 132.4,576.3 136.9,577.9 C141.4,579.5 149.7,580.1 155.6,582.1 C161.5,584.1 167.2,586.7 172.6,589.8 C178.0,592.9 183.7,597.0 187.9,600.8 C192.2,604.6 195.8,608.7 198.1,612.7 C200.4,616.7 201.1,620.1 201.5,624.6 C201.9,629.1 201.5,634.2 200.7,639.9 C199.8,645.6 198.5,652.6 196.4,658.6 C194.3,664.6 191.3,670.5 187.9,675.6 C184.5,680.7 180.8,685.0 176.0,689.2 C171.2,693.5 165.2,697.7 159.0,701.1 C152.8,704.5 145.4,707.6 138.6,709.6 C131.8,711.6 125.0,712.7 118.2,713.0 C111.4,713.3 104.3,712.7 97.8,711.3 C91.3,709.9 85.0,707.9 79.1,704.5 C73.1,701.1 66.8,696.3 62.1,690.9 C57.4,685.5 53.7,678.7 51.1,672.2 C48.5,665.7 47.4,658.6 46.8,651.8 C46.2,645.0 46.6,638.2 47.7,631.4 C48.8,624.6 50.6,617.2 53.6,611.0 C56.6,604.8 61.0,598.7 65.5,594.0 C70.0,589.3 76.0,585.8 80.8,583.0 C85.6,580.2 90.2,579.0 94.4,577.0 C98.7,575.0 102.5,572.4 106.3,571.0 C110.1,569.6 113.7,568.2 117.4,568.5Z"/></clipPath>
<g clip-path="url(#shcR)" fill="none">
<ellipse cx="119.0" cy="570.0" rx="12.2" ry="9.5" stroke="#9aa6b4" stroke-width="1.7" opacity="0.22"/>
<ellipse cx="119.2" cy="570.3" rx="16.0" ry="13.9" stroke="#9aa6b4" stroke-width="1.2" opacity="0.12"/>
<ellipse cx="119.5" cy="570.6" rx="19.9" ry="17.5" stroke="#9aa6b4" stroke-width="0.7" opacity="0.24"/>
<ellipse cx="119.8" cy="570.9" rx="22.4" ry="20.8" stroke="#9aa6b4" stroke-width="1.3" opacity="0.19"/>
<ellipse cx="120.0" cy="571.2" rx="25.0" ry="24.8" stroke="#9aa6b4" stroke-width="1.7" opacity="0.16"/>
<ellipse cx="120.2" cy="571.5" rx="30.0" ry="28.8" stroke="#9aa6b4" stroke-width="0.8" opacity="0.22"/>
<ellipse cx="120.5" cy="571.8" rx="33.2" ry="32.9" stroke="#9aa6b4" stroke-width="1.6" opacity="0.12"/>
<ellipse cx="120.8" cy="572.1" rx="35.9" ry="37.1" stroke="#9aa6b4" stroke-width="1.6" opacity="0.25"/>
<ellipse cx="121.0" cy="572.4" rx="39.6" ry="42.7" stroke="#9aa6b4" stroke-width="1.4" opacity="0.19"/>
<ellipse cx="121.2" cy="572.7" rx="42.9" ry="46.8" stroke="#9aa6b4" stroke-width="1.8" opacity="0.21"/>
<ellipse cx="121.5" cy="573.0" rx="47.8" ry="49.6" stroke="#9aa6b4" stroke-width="0.8" opacity="0.17"/>
<ellipse cx="121.8" cy="573.3" rx="49.8" ry="53.2" stroke="#9aa6b4" stroke-width="1.3" opacity="0.16"/>
<ellipse cx="122.0" cy="573.6" rx="53.0" ry="58.6" stroke="#f2e4d8" stroke-width="1.0" opacity="0.17"/>
<ellipse cx="122.2" cy="573.9" rx="57.1" ry="62.7" stroke="#d9a47a" stroke-width="1.4" opacity="0.29"/>
<ellipse cx="122.5" cy="574.2" rx="60.1" ry="67.4" stroke="#c98a55" stroke-width="1.0" opacity="0.43"/>
<ellipse cx="122.8" cy="574.5" rx="64.3" ry="70.6" stroke="#c78f60" stroke-width="1.3" opacity="0.26"/>
<ellipse cx="123.0" cy="574.8" rx="67.0" ry="73.7" stroke="#d9a47a" stroke-width="1.7" opacity="0.34"/>
<ellipse cx="123.2" cy="575.1" rx="70.7" ry="78.2" stroke="#c78f60" stroke-width="1.0" opacity="0.25"/>
<ellipse cx="123.5" cy="575.4" rx="75.0" ry="83.4" stroke="#c98a55" stroke-width="1.5" opacity="0.33"/>
<ellipse cx="123.8" cy="575.7" rx="78.2" ry="86.5" stroke="#c78f60" stroke-width="0.7" opacity="0.43"/>
<ellipse cx="124.0" cy="576.0" rx="81.7" ry="91.2" stroke="#d9a47a" stroke-width="1.7" opacity="0.25"/>
<ellipse cx="124.2" cy="576.3" rx="85.6" ry="94.7" stroke="#f2e4d8" stroke-width="1.6" opacity="0.24"/>
<ellipse cx="124.5" cy="576.6" rx="89.3" ry="99.6" stroke="#f2e4d8" stroke-width="0.8" opacity="0.45"/>
<ellipse cx="124.8" cy="576.9" rx="91.6" ry="104.3" stroke="#f4ece6" stroke-width="0.6" opacity="0.43"/>
<ellipse cx="125.0" cy="577.2" rx="96.5" ry="107.1" stroke="#f2e4d8" stroke-width="1.1" opacity="0.29"/>
<ellipse cx="125.2" cy="577.5" rx="98.6" ry="112.3" stroke="#c98a55" stroke-width="1.0" opacity="0.39"/>
<ellipse cx="125.5" cy="577.8" rx="102.4" ry="116.6" stroke="#f4ece6" stroke-width="1.4" opacity="0.43"/>
<ellipse cx="125.8" cy="578.1" rx="107.1" ry="118.9" stroke="#c78f60" stroke-width="0.7" opacity="0.26"/>
<ellipse cx="126.0" cy="578.4" rx="109.8" ry="123.1" stroke="#f4ece6" stroke-width="1.8" opacity="0.41"/>
<ellipse cx="126.2" cy="578.7" rx="113.4" ry="127.9" stroke="#f2e4d8" stroke-width="0.9" opacity="0.29"/>
</g>
<path d="M117.4,568.5 C121.1,568.8 125.2,571.2 128.4,572.8 C131.7,574.4 132.4,576.3 136.9,577.9 C141.4,579.5 149.7,580.1 155.6,582.1 C161.5,584.1 167.2,586.7 172.6,589.8 C178.0,592.9 183.7,597.0 187.9,600.8 C192.2,604.6 195.8,608.7 198.1,612.7 C200.4,616.7 201.1,620.1 201.5,624.6 C201.9,629.1 201.5,634.2 200.7,639.9 C199.8,645.6 198.5,652.6 196.4,658.6 C194.3,664.6 191.3,670.5 187.9,675.6 C184.5,680.7 180.8,685.0 176.0,689.2 C171.2,693.5 165.2,697.7 159.0,701.1 C152.8,704.5 145.4,707.6 138.6,709.6 C131.8,711.6 125.0,712.7 118.2,713.0 C111.4,713.3 104.3,712.7 97.8,711.3 C91.3,709.9 85.0,707.9 79.1,704.5 C73.1,701.1 66.8,696.3 62.1,690.9 C57.4,685.5 53.7,678.7 51.1,672.2 C48.5,665.7 47.4,658.6 46.8,651.8 C46.2,645.0 46.6,638.2 47.7,631.4 C48.8,624.6 50.6,617.2 53.6,611.0 C56.6,604.8 61.0,598.7 65.5,594.0 C70.0,589.3 76.0,585.8 80.8,583.0 C85.6,580.2 90.2,579.0 94.4,577.0 C98.7,575.0 102.5,572.4 106.3,571.0 C110.1,569.6 113.7,568.2 117.4,568.5Z" fill="none" stroke="#111" stroke-width="1.7"/>
</g>
<clipPath id="semcR"><circle cx="659.2" cy="651.6" r="34.6"/></clipPath>
<g clip-path="url(#semcR)">
<circle cx="659.2" cy="651.6" r="34.6" fill="#858585"/>
<circle cx="637.2" cy="666.6" r="6.5" fill="#2e2e2e"/>
<circle cx="651.2" cy="633.6" r="3" fill="#2e2e2e"/>
<circle cx="677.2" cy="673.6" r="4" fill="#2e2e2e"/>
<circle cx="684.2" cy="646.6" r="3" fill="#2e2e2e"/>
<circle cx="631.2" cy="643.6" r="3.5" fill="#2e2e2e"/>
<circle cx="664.2" cy="656.6" r="2.5" fill="#2e2e2e"/>
<rect x="647.2" y="621.6" width="34" height="10" rx="5" fill="#8e8e8e" stroke="#3a3a3a" stroke-width="0.8" transform="rotate(4 659.2 626.6)"/>
<circle cx="653.2" cy="649.6" r="7.5" fill="rgb(150,150,150)" stroke="#3a3a3a" stroke-width="0.8"/>
<circle cx="671.2" cy="647.6" r="6" fill="rgb(160,160,160)" stroke="#3a3a3a" stroke-width="0.8"/>
<circle cx="641.2" cy="647.6" r="6.5" fill="rgb(140,140,140)" stroke="#3a3a3a" stroke-width="0.8"/>
<circle cx="679.2" cy="661.6" r="6" fill="rgb(135,135,135)" stroke="#3a3a3a" stroke-width="0.8"/>
<rect x="623.2" y="632.1" width="16" height="9" rx="4.5" fill="rgb(120,120,120)" stroke="#3a3a3a" stroke-width="0.8" transform="rotate(70 631.2 636.6)"/>
<rect x="648.2" y="667.6" width="22" height="8" rx="4.0" fill="rgb(150,150,150)" stroke="#3a3a3a" stroke-width="0.8" transform="rotate(100 659.2 671.6)"/>
<rect x="670.2" y="674.6" width="14" height="10" rx="5.0" fill="rgb(170,170,170)" stroke="#3a3a3a" stroke-width="0.8" transform="rotate(20 677.2 679.6)"/>
<rect x="637.2" y="671.1" width="14" height="11" rx="5.5" fill="rgb(130,130,130)" stroke="#3a3a3a" stroke-width="0.8" transform="rotate(80 644.2 676.6)"/>
<circle cx="634.2" cy="656.6" r="5" fill="rgb(160,160,160)" stroke="#3a3a3a" stroke-width="0.8"/>
<rect x="679.2" y="662.6" width="16" height="8" rx="4.0" fill="rgb(120,120,120)" stroke="#3a3a3a" stroke-width="0.8" transform="rotate(60 687.2 666.6)"/>
<circle cx="664.2" cy="636.6" r="4.5" fill="rgb(175,175,175)" stroke="#3a3a3a" stroke-width="0.8"/>
<rect x="645.2" y="660.1" width="18" height="7" rx="3.5" fill="rgb(145,145,145)" stroke="#3a3a3a" stroke-width="0.8" transform="rotate(10 654.2 663.6)"/>
<circle cx="689.2" cy="633.6" r="5" fill="rgb(130,130,130)" stroke="#3a3a3a" stroke-width="0.8"/>
<circle cx="647.2" cy="625.6" r="5" fill="rgb(155,155,155)" stroke="#3a3a3a" stroke-width="0.8"/>
<circle cx="636.0" cy="664.7" r="1.6" fill="#ececec" opacity="0.85"/>
<circle cx="657.8" cy="631.9" r="1.8" fill="#ececec" opacity="0.85"/>
<circle cx="680.5" cy="652.5" r="1.4" fill="#ececec" opacity="0.85"/>
<circle cx="640.9" cy="617.2" r="1.2" fill="#ececec" opacity="0.85"/>
<circle cx="665.1" cy="621.8" r="1.8" fill="#ececec" opacity="0.85"/>
<circle cx="640.7" cy="633.1" r="0.9" fill="#ececec" opacity="0.85"/>
<circle cx="693.6" cy="668.1" r="1.9" fill="#ececec" opacity="0.85"/>
<circle cx="667.2" cy="619.4" r="1.2" fill="#ececec" opacity="0.85"/>
<circle cx="659.0" cy="625.0" r="1.9" fill="#ececec" opacity="0.85"/>
<circle cx="650.1" cy="627.7" r="1.8" fill="#ececec" opacity="0.85"/>
<circle cx="633.2" cy="681.2" r="1.3" fill="#ececec" opacity="0.85"/>
<circle cx="662.8" cy="640.7" r="1.4" fill="#ececec" opacity="0.85"/>
<circle cx="637.5" cy="619.6" r="1.8" fill="#ececec" opacity="0.85"/>
<circle cx="640.9" cy="671.0" r="1.1" fill="#ececec" opacity="0.85"/>
<circle cx="691.6" cy="678.9" r="1.7" fill="#ececec" opacity="0.85"/>
<circle cx="677.4" cy="657.2" r="1.7" fill="#ececec" opacity="0.85"/>
<circle cx="633.1" cy="650.0" r="1.8" fill="#ececec" opacity="0.85"/>
<circle cx="638.5" cy="680.9" r="1.9" fill="#ececec" opacity="0.85"/>
<circle cx="652.9" cy="642.3" r="1.3" fill="#ececec" opacity="0.85"/>
<circle cx="651.3" cy="685.8" r="1.3" fill="#ececec" opacity="0.85"/>
<circle cx="626.5" cy="623.5" r="1.7" fill="#ececec" opacity="0.85"/>
<circle cx="693.3" cy="651.3" r="1.4" fill="#ececec" opacity="0.85"/>
</g>
<circle cx="659.2" cy="651.6" r="34.6" fill="none" stroke="#0a0a0a" stroke-width="2.0"/>
<clipPath id="sembR"><circle cx="876.8" cy="731.6" r="55.3"/></clipPath>
<g clip-path="url(#sembR)">
<circle cx="876.8" cy="731.6" r="55.3" fill="#6a5c4f"/>
<path d="M874.0,734.2 Q882.4,750.3 896.9,761.4" stroke="#54473b" stroke-width="7.9" stroke-linecap="round" fill="none"/>
<path d="M874.0,734.2 Q882.4,750.3 896.9,761.4" stroke="rgb(156,144,131)" stroke-width="6.7" stroke-linecap="round" fill="none"/>
<path d="M874.0,734.2 Q882.4,750.3 896.9,761.4" stroke="#efe9e2" stroke-width="2.3" stroke-linecap="round" fill="none" opacity="0.15"/>
<path d="M838.5,734.8 Q838.1,750.2 838.2,765.6" stroke="#54473b" stroke-width="8.5" stroke-linecap="round" fill="none"/>
<path d="M838.5,734.8 Q838.1,750.2 838.2,765.6" stroke="rgb(147,135,122)" stroke-width="7.3" stroke-linecap="round" fill="none"/>
<path d="M838.5,734.8 Q838.1,750.2 838.2,765.6" stroke="#efe9e2" stroke-width="2.6" stroke-linecap="round" fill="none" opacity="0.15"/>
<path d="M924.6,738.6 Q934.9,745.7 937.7,757.8" stroke="#54473b" stroke-width="7.6" stroke-linecap="round" fill="none"/>
<path d="M924.6,738.6 Q934.9,745.7 937.7,757.8" stroke="rgb(151,139,126)" stroke-width="6.4" stroke-linecap="round" fill="none"/>
<path d="M924.6,738.6 Q934.9,745.7 937.7,757.8" stroke="#efe9e2" stroke-width="2.2" stroke-linecap="round" fill="none" opacity="0.16"/>
<path d="M923.4,718.5 Q905.3,720.8 888.0,726.6" stroke="#54473b" stroke-width="7.7" stroke-linecap="round" fill="none"/>
<path d="M923.4,718.5 Q905.3,720.8 888.0,726.6" stroke="rgb(141,129,117)" stroke-width="6.5" stroke-linecap="round" fill="none"/>
<path d="M923.4,718.5 Q905.3,720.8 888.0,726.6" stroke="#efe9e2" stroke-width="2.3" stroke-linecap="round" fill="none" opacity="0.16"/>
<path d="M813.4,783.4 Q820.8,792.4 831.3,797.5" stroke="#54473b" stroke-width="8.4" stroke-linecap="round" fill="none"/>
<path d="M813.4,783.4 Q820.8,792.4 831.3,797.5" stroke="rgb(142,130,117)" stroke-width="7.2" stroke-linecap="round" fill="none"/>
<path d="M813.4,783.4 Q820.8,792.4 831.3,797.5" stroke="#efe9e2" stroke-width="2.5" stroke-linecap="round" fill="none" opacity="0.16"/>
<path d="M843.7,699.8 Q855.0,698.1 866.2,700.3" stroke="#54473b" stroke-width="7.6" stroke-linecap="round" fill="none"/>
<path d="M843.7,699.8 Q855.0,698.1 866.2,700.3" stroke="rgb(148,136,123)" stroke-width="6.4" stroke-linecap="round" fill="none"/>
<path d="M843.7,699.8 Q855.0,698.1 866.2,700.3" stroke="#efe9e2" stroke-width="2.3" stroke-linecap="round" fill="none" opacity="0.17"/>
<path d="M846.0,680.5 Q838.0,683.2 830.5,687.1" stroke="#54473b" stroke-width="8.1" stroke-linecap="round" fill="none"/>
<path d="M846.0,680.5 Q838.0,683.2 830.5,687.1" stroke="rgb(143,131,118)" stroke-width="6.9" stroke-linecap="round" fill="none"/>
<path d="M846.0,680.5 Q838.0,683.2 830.5,687.1" stroke="#efe9e2" stroke-width="2.4" stroke-linecap="round" fill="none" opacity="0.17"/>
<path d="M822.2,682.8 Q834.3,682.0 845.4,687.1" stroke="#54473b" stroke-width="7.2" stroke-linecap="round" fill="none"/>
<path d="M822.2,682.8 Q834.3,682.0 845.4,687.1" stroke="rgb(145,133,120)" stroke-width="6.0" stroke-linecap="round" fill="none"/>
<path d="M822.2,682.8 Q834.3,682.0 845.4,687.1" stroke="#efe9e2" stroke-width="2.1" stroke-linecap="round" fill="none" opacity="0.17"/>
<path d="M889.7,714.1 Q893.1,727.7 901.5,738.8" stroke="#54473b" stroke-width="7.7" stroke-linecap="round" fill="none"/>
<path d="M889.7,714.1 Q893.1,727.7 901.5,738.8" stroke="rgb(148,136,123)" stroke-width="6.5" stroke-linecap="round" fill="none"/>
<path d="M889.7,714.1 Q893.1,727.7 901.5,738.8" stroke="#efe9e2" stroke-width="2.3" stroke-linecap="round" fill="none" opacity="0.18"/>
<path d="M833.8,721.3 Q821.7,726.4 814.4,737.3" stroke="#54473b" stroke-width="6.8" stroke-linecap="round" fill="none"/>
<path d="M833.8,721.3 Q821.7,726.4 814.4,737.3" stroke="rgb(142,130,118)" stroke-width="5.6" stroke-linecap="round" fill="none"/>
<path d="M833.8,721.3 Q821.7,726.4 814.4,737.3" stroke="#efe9e2" stroke-width="2.0" stroke-linecap="round" fill="none" opacity="0.18"/>
<path d="M893.1,720.7 Q883.1,727.8 870.9,728.7" stroke="#54473b" stroke-width="8.0" stroke-linecap="round" fill="none"/>
<path d="M893.1,720.7 Q883.1,727.8 870.9,728.7" stroke="rgb(152,140,128)" stroke-width="6.8" stroke-linecap="round" fill="none"/>
<path d="M893.1,720.7 Q883.1,727.8 870.9,728.7" stroke="#efe9e2" stroke-width="2.4" stroke-linecap="round" fill="none" opacity="0.18"/>
<path d="M893.4,665.8 Q890.9,674.5 887.7,683.0" stroke="#54473b" stroke-width="8.1" stroke-linecap="round" fill="none"/>
<path d="M893.4,665.8 Q890.9,674.5 887.7,683.0" stroke="rgb(151,139,127)" stroke-width="6.9" stroke-linecap="round" fill="none"/>
<path d="M893.4,665.8 Q890.9,674.5 887.7,683.0" stroke="#efe9e2" stroke-width="2.4" stroke-linecap="round" fill="none" opacity="0.19"/>
<path d="M896.0,700.0 Q878.2,707.0 859.3,704.5" stroke="#54473b" stroke-width="7.6" stroke-linecap="round" fill="none"/>
<path d="M896.0,700.0 Q878.2,707.0 859.3,704.5" stroke="rgb(151,139,127)" stroke-width="6.4" stroke-linecap="round" fill="none"/>
<path d="M896.0,700.0 Q878.2,707.0 859.3,704.5" stroke="#efe9e2" stroke-width="2.2" stroke-linecap="round" fill="none" opacity="0.19"/>
<path d="M906.2,705.0 Q913.3,711.2 921.7,715.2" stroke="#54473b" stroke-width="8.0" stroke-linecap="round" fill="none"/>
<path d="M906.2,705.0 Q913.3,711.2 921.7,715.2" stroke="rgb(150,138,125)" stroke-width="6.8" stroke-linecap="round" fill="none"/>
<path d="M906.2,705.0 Q913.3,711.2 921.7,715.2" stroke="#efe9e2" stroke-width="2.4" stroke-linecap="round" fill="none" opacity="0.19"/>
<path d="M908.9,753.7 Q890.4,760.9 875.0,773.5" stroke="#54473b" stroke-width="7.5" stroke-linecap="round" fill="none"/>
<path d="M908.9,753.7 Q890.4,760.9 875.0,773.5" stroke="rgb(163,151,138)" stroke-width="6.3" stroke-linecap="round" fill="none"/>
<path d="M908.9,753.7 Q890.4,760.9 875.0,773.5" stroke="#efe9e2" stroke-width="2.2" stroke-linecap="round" fill="none" opacity="0.20"/>
<path d="M922.6,747.3 Q920.8,762.3 921.5,777.3" stroke="#54473b" stroke-width="8.3" stroke-linecap="round" fill="none"/>
<path d="M922.6,747.3 Q920.8,762.3 921.5,777.3" stroke="rgb(159,147,134)" stroke-width="7.1" stroke-linecap="round" fill="none"/>
<path d="M922.6,747.3 Q920.8,762.3 921.5,777.3" stroke="#efe9e2" stroke-width="2.5" stroke-linecap="round" fill="none" opacity="0.20"/>
<path d="M846.4,670.7 Q846.4,682.4 840.5,692.5" stroke="#54473b" stroke-width="7.7" stroke-linecap="round" fill="none"/>
<path d="M846.4,670.7 Q846.4,682.4 840.5,692.5" stroke="rgb(149,137,125)" stroke-width="6.5" stroke-linecap="round" fill="none"/>
<path d="M846.4,670.7 Q846.4,682.4 840.5,692.5" stroke="#efe9e2" stroke-width="2.3" stroke-linecap="round" fill="none" opacity="0.20"/>
<path d="M946.4,666.5 Q928.7,675.3 917.6,691.6" stroke="#54473b" stroke-width="7.7" stroke-linecap="round" fill="none"/>
<path d="M946.4,666.5 Q928.7,675.3 917.6,691.6" stroke="rgb(160,148,135)" stroke-width="6.5" stroke-linecap="round" fill="none"/>
<path d="M946.4,666.5 Q928.7,675.3 917.6,691.6" stroke="#efe9e2" stroke-width="2.3" stroke-linecap="round" fill="none" opacity="0.21"/>
<path d="M828.9,782.1 Q817.3,788.9 803.8,788.8" stroke="#54473b" stroke-width="8.2" stroke-linecap="round" fill="none"/>
<path d="M828.9,782.1 Q817.3,788.9 803.8,788.8" stroke="rgb(147,135,123)" stroke-width="7.0" stroke-linecap="round" fill="none"/>
<path d="M828.9,782.1 Q817.3,788.9 803.8,788.8" stroke="#efe9e2" stroke-width="2.5" stroke-linecap="round" fill="none" opacity="0.21"/>
<path d="M804.9,754.5 Q818.9,765.0 831.2,777.5" stroke="#54473b" stroke-width="6.8" stroke-linecap="round" fill="none"/>
<path d="M804.9,754.5 Q818.9,765.0 831.2,777.5" stroke="rgb(163,151,138)" stroke-width="5.6" stroke-linecap="round" fill="none"/>
<path d="M804.9,754.5 Q818.9,765.0 831.2,777.5" stroke="#efe9e2" stroke-width="2.0" stroke-linecap="round" fill="none" opacity="0.21"/>
<path d="M920.4,762.9 Q909.7,780.1 892.2,790.3" stroke="#54473b" stroke-width="8.3" stroke-linecap="round" fill="none"/>
<path d="M920.4,762.9 Q909.7,780.1 892.2,790.3" stroke="rgb(148,136,123)" stroke-width="7.1" stroke-linecap="round" fill="none"/>
<path d="M920.4,762.9 Q909.7,780.1 892.2,790.3" stroke="#efe9e2" stroke-width="2.5" stroke-linecap="round" fill="none" opacity="0.22"/>
<path d="M910.3,741.5 Q921.9,744.7 932.2,750.8" stroke="#54473b" stroke-width="7.3" stroke-linecap="round" fill="none"/>
<path d="M910.3,741.5 Q921.9,744.7 932.2,750.8" stroke="rgb(158,146,133)" stroke-width="6.1" stroke-linecap="round" fill="none"/>
<path d="M910.3,741.5 Q921.9,744.7 932.2,750.8" stroke="#efe9e2" stroke-width="2.1" stroke-linecap="round" fill="none" opacity="0.22"/>
<path d="M863.4,689.7 Q873.0,691.9 877.9,700.4" stroke="#54473b" stroke-width="6.9" stroke-linecap="round" fill="none"/>
<path d="M863.4,689.7 Q873.0,691.9 877.9,700.4" stroke="rgb(157,145,132)" stroke-width="5.7" stroke-linecap="round" fill="none"/>
<path d="M863.4,689.7 Q873.0,691.9 877.9,700.4" stroke="#efe9e2" stroke-width="2.0" stroke-linecap="round" fill="none" opacity="0.22"/>
<path d="M829.6,754.0 Q834.1,768.1 833.3,782.8" stroke="#54473b" stroke-width="7.9" stroke-linecap="round" fill="none"/>
<path d="M829.6,754.0 Q834.1,768.1 833.3,782.8" stroke="rgb(149,137,125)" stroke-width="6.7" stroke-linecap="round" fill="none"/>
<path d="M829.6,754.0 Q834.1,768.1 833.3,782.8" stroke="#efe9e2" stroke-width="2.3" stroke-linecap="round" fill="none" opacity="0.23"/>
<path d="M816.5,702.8 Q822.8,714.0 833.8,720.4" stroke="#54473b" stroke-width="7.2" stroke-linecap="round" fill="none"/>
<path d="M816.5,702.8 Q822.8,714.0 833.8,720.4" stroke="rgb(150,138,125)" stroke-width="6.0" stroke-linecap="round" fill="none"/>
<path d="M816.5,702.8 Q822.8,714.0 833.8,720.4" stroke="#efe9e2" stroke-width="2.1" stroke-linecap="round" fill="none" opacity="0.23"/>
<path d="M877.9,708.6 Q874.0,720.2 863.2,725.9" stroke="#54473b" stroke-width="7.0" stroke-linecap="round" fill="none"/>
<path d="M877.9,708.6 Q874.0,720.2 863.2,725.9" stroke="rgb(153,141,128)" stroke-width="5.8" stroke-linecap="round" fill="none"/>
<path d="M877.9,708.6 Q874.0,720.2 863.2,725.9" stroke="#efe9e2" stroke-width="2.0" stroke-linecap="round" fill="none" opacity="0.23"/>
<path d="M944.8,711.8 Q935.0,708.1 926.1,713.6" stroke="#54473b" stroke-width="7.9" stroke-linecap="round" fill="none"/>
<path d="M944.8,711.8 Q935.0,708.1 926.1,713.6" stroke="rgb(157,145,132)" stroke-width="6.7" stroke-linecap="round" fill="none"/>
<path d="M944.8,711.8 Q935.0,708.1 926.1,713.6" stroke="#efe9e2" stroke-width="2.3" stroke-linecap="round" fill="none" opacity="0.24"/>
<path d="M923.5,668.8 Q913.1,673.1 906.1,681.9" stroke="#54473b" stroke-width="7.6" stroke-linecap="round" fill="none"/>
<path d="M923.5,668.8 Q913.1,673.1 906.1,681.9" stroke="rgb(159,147,134)" stroke-width="6.4" stroke-linecap="round" fill="none"/>
<path d="M923.5,668.8 Q913.1,673.1 906.1,681.9" stroke="#efe9e2" stroke-width="2.3" stroke-linecap="round" fill="none" opacity="0.24"/>
<path d="M910.1,671.2 Q920.8,683.0 935.8,688.5" stroke="#54473b" stroke-width="7.0" stroke-linecap="round" fill="none"/>
<path d="M910.1,671.2 Q920.8,683.0 935.8,688.5" stroke="rgb(160,148,135)" stroke-width="5.8" stroke-linecap="round" fill="none"/>
<path d="M910.1,671.2 Q920.8,683.0 935.8,688.5" stroke="#efe9e2" stroke-width="2.0" stroke-linecap="round" fill="none" opacity="0.24"/>
<path d="M931.2,700.3 Q915.9,707.7 899.1,709.9" stroke="#54473b" stroke-width="7.9" stroke-linecap="round" fill="none"/>
<path d="M931.2,700.3 Q915.9,707.7 899.1,709.9" stroke="rgb(165,153,140)" stroke-width="6.7" stroke-linecap="round" fill="none"/>
<path d="M931.2,700.3 Q915.9,707.7 899.1,709.9" stroke="#efe9e2" stroke-width="2.3" stroke-linecap="round" fill="none" opacity="0.25"/>
<path d="M927.9,755.9 Q929.5,769.4 936.2,781.2" stroke="#54473b" stroke-width="6.8" stroke-linecap="round" fill="none"/>
<path d="M927.9,755.9 Q929.5,769.4 936.2,781.2" stroke="rgb(156,144,131)" stroke-width="5.6" stroke-linecap="round" fill="none"/>
<path d="M927.9,755.9 Q929.5,769.4 936.2,781.2" stroke="#efe9e2" stroke-width="2.0" stroke-linecap="round" fill="none" opacity="0.25"/>
<path d="M838.7,665.0 Q845.3,673.2 845.8,683.7" stroke="#54473b" stroke-width="7.6" stroke-linecap="round" fill="none"/>
<path d="M838.7,665.0 Q845.3,673.2 845.8,683.7" stroke="rgb(161,149,136)" stroke-width="6.4" stroke-linecap="round" fill="none"/>
<path d="M838.7,665.0 Q845.3,673.2 845.8,683.7" stroke="#efe9e2" stroke-width="2.2" stroke-linecap="round" fill="none" opacity="0.25"/>
<path d="M909.1,672.6 Q904.3,681.9 907.8,691.8" stroke="#54473b" stroke-width="8.4" stroke-linecap="round" fill="none"/>
<path d="M909.1,672.6 Q904.3,681.9 907.8,691.8" stroke="rgb(165,153,140)" stroke-width="7.2" stroke-linecap="round" fill="none"/>
<path d="M909.1,672.6 Q904.3,681.9 907.8,691.8" stroke="#efe9e2" stroke-width="2.5" stroke-linecap="round" fill="none" opacity="0.26"/>
<path d="M845.7,771.2 Q827.1,778.5 807.8,783.6" stroke="#54473b" stroke-width="7.7" stroke-linecap="round" fill="none"/>
<path d="M845.7,771.2 Q827.1,778.5 807.8,783.6" stroke="rgb(166,154,140)" stroke-width="6.5" stroke-linecap="round" fill="none"/>
<path d="M845.7,771.2 Q827.1,778.5 807.8,783.6" stroke="#efe9e2" stroke-width="2.3" stroke-linecap="round" fill="none" opacity="0.26"/>
<path d="M912.7,778.3 Q912.0,792.2 912.1,806.1" stroke="#54473b" stroke-width="7.2" stroke-linecap="round" fill="none"/>
<path d="M912.7,778.3 Q912.0,792.2 912.1,806.1" stroke="rgb(165,153,140)" stroke-width="6.0" stroke-linecap="round" fill="none"/>
<path d="M912.7,778.3 Q912.0,792.2 912.1,806.1" stroke="#efe9e2" stroke-width="2.1" stroke-linecap="round" fill="none" opacity="0.26"/>
<path d="M836.2,713.7 Q851.5,725.0 864.2,739.3" stroke="#54473b" stroke-width="7.1" stroke-linecap="round" fill="none"/>
<path d="M836.2,713.7 Q851.5,725.0 864.2,739.3" stroke="rgb(172,160,147)" stroke-width="5.9" stroke-linecap="round" fill="none"/>
<path d="M836.2,713.7 Q851.5,725.0 864.2,739.3" stroke="#efe9e2" stroke-width="2.1" stroke-linecap="round" fill="none" opacity="0.27"/>
<path d="M870.4,764.4 Q853.8,774.5 835.0,779.0" stroke="#54473b" stroke-width="8.2" stroke-linecap="round" fill="none"/>
<path d="M870.4,764.4 Q853.8,774.5 835.0,779.0" stroke="rgb(164,152,139)" stroke-width="7.0" stroke-linecap="round" fill="none"/>
<path d="M870.4,764.4 Q853.8,774.5 835.0,779.0" stroke="#efe9e2" stroke-width="2.5" stroke-linecap="round" fill="none" opacity="0.27"/>
<path d="M930.4,694.4 Q917.0,701.8 902.4,706.4" stroke="#54473b" stroke-width="8.5" stroke-linecap="round" fill="none"/>
<path d="M930.4,694.4 Q917.0,701.8 902.4,706.4" stroke="rgb(158,146,133)" stroke-width="7.3" stroke-linecap="round" fill="none"/>
<path d="M930.4,694.4 Q917.0,701.8 902.4,706.4" stroke="#efe9e2" stroke-width="2.5" stroke-linecap="round" fill="none" opacity="0.27"/>
<path d="M810.0,697.9 Q818.1,710.1 828.6,720.4" stroke="#54473b" stroke-width="8.2" stroke-linecap="round" fill="none"/>
<path d="M810.0,697.9 Q818.1,710.1 828.6,720.4" stroke="rgb(169,157,144)" stroke-width="7.0" stroke-linecap="round" fill="none"/>
<path d="M810.0,697.9 Q818.1,710.1 828.6,720.4" stroke="#efe9e2" stroke-width="2.5" stroke-linecap="round" fill="none" opacity="0.28"/>
<path d="M909.7,696.5 Q920.3,708.8 924.0,724.7" stroke="#54473b" stroke-width="7.2" stroke-linecap="round" fill="none"/>
<path d="M909.7,696.5 Q920.3,708.8 924.0,724.7" stroke="rgb(173,161,147)" stroke-width="6.0" stroke-linecap="round" fill="none"/>
<path d="M909.7,696.5 Q920.3,708.8 924.0,724.7" stroke="#efe9e2" stroke-width="2.1" stroke-linecap="round" fill="none" opacity="0.28"/>
<path d="M909.6,670.9 Q926.2,672.3 942.2,677.4" stroke="#54473b" stroke-width="7.4" stroke-linecap="round" fill="none"/>
<path d="M909.6,670.9 Q926.2,672.3 942.2,677.4" stroke="rgb(175,163,150)" stroke-width="6.2" stroke-linecap="round" fill="none"/>
<path d="M909.6,670.9 Q926.2,672.3 942.2,677.4" stroke="#efe9e2" stroke-width="2.2" stroke-linecap="round" fill="none" opacity="0.28"/>
<path d="M860.0,724.1 Q871.7,729.9 877.1,741.7" stroke="#54473b" stroke-width="7.1" stroke-linecap="round" fill="none"/>
<path d="M860.0,724.1 Q871.7,729.9 877.1,741.7" stroke="rgb(158,146,133)" stroke-width="5.9" stroke-linecap="round" fill="none"/>
<path d="M860.0,724.1 Q871.7,729.9 877.1,741.7" stroke="#efe9e2" stroke-width="2.1" stroke-linecap="round" fill="none" opacity="0.29"/>
<path d="M871.9,749.2 Q886.0,757.9 894.0,772.5" stroke="#54473b" stroke-width="8.6" stroke-linecap="round" fill="none"/>
<path d="M871.9,749.2 Q886.0,757.9 894.0,772.5" stroke="rgb(167,155,142)" stroke-width="7.4" stroke-linecap="round" fill="none"/>
<path d="M871.9,749.2 Q886.0,757.9 894.0,772.5" stroke="#efe9e2" stroke-width="2.6" stroke-linecap="round" fill="none" opacity="0.29"/>
<path d="M868.6,677.1 Q858.9,694.3 844.2,707.5" stroke="#54473b" stroke-width="6.9" stroke-linecap="round" fill="none"/>
<path d="M868.6,677.1 Q858.9,694.3 844.2,707.5" stroke="rgb(175,163,150)" stroke-width="5.7" stroke-linecap="round" fill="none"/>
<path d="M868.6,677.1 Q858.9,694.3 844.2,707.5" stroke="#efe9e2" stroke-width="2.0" stroke-linecap="round" fill="none" opacity="0.29"/>
<path d="M855.1,697.4 Q862.8,706.3 867.2,717.1" stroke="#54473b" stroke-width="7.8" stroke-linecap="round" fill="none"/>
<path d="M855.1,697.4 Q862.8,706.3 867.2,717.1" stroke="rgb(171,159,146)" stroke-width="6.6" stroke-linecap="round" fill="none"/>
<path d="M855.1,697.4 Q862.8,706.3 867.2,717.1" stroke="#efe9e2" stroke-width="2.3" stroke-linecap="round" fill="none" opacity="0.30"/>
<path d="M815.2,723.3 Q819.7,738.2 831.3,748.6" stroke="#54473b" stroke-width="8.3" stroke-linecap="round" fill="none"/>
<path d="M815.2,723.3 Q819.7,738.2 831.3,748.6" stroke="rgb(173,161,148)" stroke-width="7.1" stroke-linecap="round" fill="none"/>
<path d="M815.2,723.3 Q819.7,738.2 831.3,748.6" stroke="#efe9e2" stroke-width="2.5" stroke-linecap="round" fill="none" opacity="0.30"/>
<path d="M856.4,678.4 Q865.7,690.8 875.5,702.9" stroke="#54473b" stroke-width="6.9" stroke-linecap="round" fill="none"/>
<path d="M856.4,678.4 Q865.7,690.8 875.5,702.9" stroke="rgb(164,152,139)" stroke-width="5.7" stroke-linecap="round" fill="none"/>
<path d="M856.4,678.4 Q865.7,690.8 875.5,702.9" stroke="#efe9e2" stroke-width="2.0" stroke-linecap="round" fill="none" opacity="0.30"/>
<path d="M897.2,756.0 Q895.4,764.1 890.6,770.9" stroke="#54473b" stroke-width="7.0" stroke-linecap="round" fill="none"/>
<path d="M897.2,756.0 Q895.4,764.1 890.6,770.9" stroke="rgb(175,163,150)" stroke-width="5.8" stroke-linecap="round" fill="none"/>
<path d="M897.2,756.0 Q895.4,764.1 890.6,770.9" stroke="#efe9e2" stroke-width="2.0" stroke-linecap="round" fill="none" opacity="0.31"/>
<path d="M926.0,693.7 Q936.7,707.3 941.7,723.9" stroke="#54473b" stroke-width="8.5" stroke-linecap="round" fill="none"/>
<path d="M926.0,693.7 Q936.7,707.3 941.7,723.9" stroke="rgb(175,163,149)" stroke-width="7.3" stroke-linecap="round" fill="none"/>
<path d="M926.0,693.7 Q936.7,707.3 941.7,723.9" stroke="#efe9e2" stroke-width="2.5" stroke-linecap="round" fill="none" opacity="0.31"/>
<path d="M842.0,734.4 Q825.5,738.5 809.4,743.5" stroke="#54473b" stroke-width="8.1" stroke-linecap="round" fill="none"/>
<path d="M842.0,734.4 Q825.5,738.5 809.4,743.5" stroke="rgb(170,158,145)" stroke-width="6.9" stroke-linecap="round" fill="none"/>
<path d="M842.0,734.4 Q825.5,738.5 809.4,743.5" stroke="#efe9e2" stroke-width="2.4" stroke-linecap="round" fill="none" opacity="0.31"/>
<path d="M902.3,737.8 Q889.3,747.1 883.2,761.8" stroke="#54473b" stroke-width="8.1" stroke-linecap="round" fill="none"/>
<path d="M902.3,737.8 Q889.3,747.1 883.2,761.8" stroke="rgb(175,163,149)" stroke-width="6.9" stroke-linecap="round" fill="none"/>
<path d="M902.3,737.8 Q889.3,747.1 883.2,761.8" stroke="#efe9e2" stroke-width="2.4" stroke-linecap="round" fill="none" opacity="0.32"/>
<path d="M933.1,753.8 Q921.0,758.4 912.7,768.4" stroke="#54473b" stroke-width="7.3" stroke-linecap="round" fill="none"/>
<path d="M933.1,753.8 Q921.0,758.4 912.7,768.4" stroke="rgb(180,168,155)" stroke-width="6.1" stroke-linecap="round" fill="none"/>
<path d="M933.1,753.8 Q921.0,758.4 912.7,768.4" stroke="#efe9e2" stroke-width="2.1" stroke-linecap="round" fill="none" opacity="0.32"/>
<path d="M925.4,765.6 Q924.1,781.9 925.5,798.2" stroke="#54473b" stroke-width="7.2" stroke-linecap="round" fill="none"/>
<path d="M925.4,765.6 Q924.1,781.9 925.5,798.2" stroke="rgb(181,169,156)" stroke-width="6.0" stroke-linecap="round" fill="none"/>
<path d="M925.4,765.6 Q924.1,781.9 925.5,798.2" stroke="#efe9e2" stroke-width="2.1" stroke-linecap="round" fill="none" opacity="0.32"/>
<path d="M875.9,691.3 Q860.5,699.6 843.1,700.9" stroke="#54473b" stroke-width="7.0" stroke-linecap="round" fill="none"/>
<path d="M875.9,691.3 Q860.5,699.6 843.1,700.9" stroke="rgb(166,154,141)" stroke-width="5.8" stroke-linecap="round" fill="none"/>
<path d="M875.9,691.3 Q860.5,699.6 843.1,700.9" stroke="#efe9e2" stroke-width="2.0" stroke-linecap="round" fill="none" opacity="0.33"/>
<path d="M891.9,765.6 Q884.9,774.6 874.5,779.0" stroke="#54473b" stroke-width="6.7" stroke-linecap="round" fill="none"/>
<path d="M891.9,765.6 Q884.9,774.6 874.5,779.0" stroke="rgb(175,163,150)" stroke-width="5.5" stroke-linecap="round" fill="none"/>
<path d="M891.9,765.6 Q884.9,774.6 874.5,779.0" stroke="#efe9e2" stroke-width="1.9" stroke-linecap="round" fill="none" opacity="0.33"/>
<path d="M901.5,716.1 Q908.2,730.9 915.4,745.5" stroke="#54473b" stroke-width="7.4" stroke-linecap="round" fill="none"/>
<path d="M901.5,716.1 Q908.2,730.9 915.4,745.5" stroke="rgb(165,153,140)" stroke-width="6.2" stroke-linecap="round" fill="none"/>
<path d="M901.5,716.1 Q908.2,730.9 915.4,745.5" stroke="#efe9e2" stroke-width="2.2" stroke-linecap="round" fill="none" opacity="0.33"/>
<path d="M827.1,704.1 Q837.2,717.3 853.0,722.5" stroke="#54473b" stroke-width="7.1" stroke-linecap="round" fill="none"/>
<path d="M827.1,704.1 Q837.2,717.3 853.0,722.5" stroke="rgb(178,166,153)" stroke-width="5.9" stroke-linecap="round" fill="none"/>
<path d="M827.1,704.1 Q837.2,717.3 853.0,722.5" stroke="#efe9e2" stroke-width="2.1" stroke-linecap="round" fill="none" opacity="0.34"/>
<path d="M879.8,757.3 Q865.2,765.3 852.0,775.3" stroke="#54473b" stroke-width="7.7" stroke-linecap="round" fill="none"/>
<path d="M879.8,757.3 Q865.2,765.3 852.0,775.3" stroke="rgb(168,156,143)" stroke-width="6.5" stroke-linecap="round" fill="none"/>
<path d="M879.8,757.3 Q865.2,765.3 852.0,775.3" stroke="#efe9e2" stroke-width="2.3" stroke-linecap="round" fill="none" opacity="0.34"/>
<path d="M863.5,708.3 Q870.6,717.3 872.6,728.5" stroke="#54473b" stroke-width="8.4" stroke-linecap="round" fill="none"/>
<path d="M863.5,708.3 Q870.6,717.3 872.6,728.5" stroke="rgb(168,156,143)" stroke-width="7.2" stroke-linecap="round" fill="none"/>
<path d="M863.5,708.3 Q870.6,717.3 872.6,728.5" stroke="#efe9e2" stroke-width="2.5" stroke-linecap="round" fill="none" opacity="0.34"/>
<path d="M864.5,688.8 Q857.8,695.6 848.6,693.3" stroke="#54473b" stroke-width="7.7" stroke-linecap="round" fill="none"/>
<path d="M864.5,688.8 Q857.8,695.6 848.6,693.3" stroke="rgb(177,165,152)" stroke-width="6.5" stroke-linecap="round" fill="none"/>
<path d="M864.5,688.8 Q857.8,695.6 848.6,693.3" stroke="#efe9e2" stroke-width="2.3" stroke-linecap="round" fill="none" opacity="0.35"/>
<path d="M856.1,728.2 Q836.7,726.7 817.6,730.9" stroke="#54473b" stroke-width="7.4" stroke-linecap="round" fill="none"/>
<path d="M856.1,728.2 Q836.7,726.7 817.6,730.9" stroke="rgb(177,165,152)" stroke-width="6.2" stroke-linecap="round" fill="none"/>
<path d="M856.1,728.2 Q836.7,726.7 817.6,730.9" stroke="#efe9e2" stroke-width="2.2" stroke-linecap="round" fill="none" opacity="0.35"/>
<path d="M838.9,708.0 Q822.2,715.7 811.8,730.8" stroke="#54473b" stroke-width="8.0" stroke-linecap="round" fill="none"/>
<path d="M838.9,708.0 Q822.2,715.7 811.8,730.8" stroke="rgb(175,163,150)" stroke-width="6.8" stroke-linecap="round" fill="none"/>
<path d="M838.9,708.0 Q822.2,715.7 811.8,730.8" stroke="#efe9e2" stroke-width="2.4" stroke-linecap="round" fill="none" opacity="0.35"/>
<path d="M919.2,763.1 Q902.3,772.1 884.1,778.2" stroke="#54473b" stroke-width="8.3" stroke-linecap="round" fill="none"/>
<path d="M919.2,763.1 Q902.3,772.1 884.1,778.2" stroke="rgb(176,164,150)" stroke-width="7.1" stroke-linecap="round" fill="none"/>
<path d="M919.2,763.1 Q902.3,772.1 884.1,778.2" stroke="#efe9e2" stroke-width="2.5" stroke-linecap="round" fill="none" opacity="0.36"/>
<path d="M886.7,674.3 Q894.3,683.8 896.0,695.7" stroke="#54473b" stroke-width="7.0" stroke-linecap="round" fill="none"/>
<path d="M886.7,674.3 Q894.3,683.8 896.0,695.7" stroke="rgb(182,170,156)" stroke-width="5.8" stroke-linecap="round" fill="none"/>
<path d="M886.7,674.3 Q894.3,683.8 896.0,695.7" stroke="#efe9e2" stroke-width="2.0" stroke-linecap="round" fill="none" opacity="0.36"/>
<path d="M870.8,674.3 Q853.1,675.5 836.1,680.3" stroke="#54473b" stroke-width="7.0" stroke-linecap="round" fill="none"/>
<path d="M870.8,674.3 Q853.1,675.5 836.1,680.3" stroke="rgb(171,159,146)" stroke-width="5.8" stroke-linecap="round" fill="none"/>
<path d="M870.8,674.3 Q853.1,675.5 836.1,680.3" stroke="#efe9e2" stroke-width="2.0" stroke-linecap="round" fill="none" opacity="0.36"/>
<path d="M845.4,675.0 Q841.0,690.2 839.7,705.9" stroke="#54473b" stroke-width="8.2" stroke-linecap="round" fill="none"/>
<path d="M845.4,675.0 Q841.0,690.2 839.7,705.9" stroke="rgb(185,173,159)" stroke-width="7.0" stroke-linecap="round" fill="none"/>
<path d="M845.4,675.0 Q841.0,690.2 839.7,705.9" stroke="#efe9e2" stroke-width="2.5" stroke-linecap="round" fill="none" opacity="0.37"/>
<path d="M913.4,736.6 Q921.2,744.6 932.1,747.1" stroke="#54473b" stroke-width="8.3" stroke-linecap="round" fill="none"/>
<path d="M913.4,736.6 Q921.2,744.6 932.1,747.1" stroke="rgb(183,171,158)" stroke-width="7.1" stroke-linecap="round" fill="none"/>
<path d="M913.4,736.6 Q921.2,744.6 932.1,747.1" stroke="#efe9e2" stroke-width="2.5" stroke-linecap="round" fill="none" opacity="0.37"/>
<path d="M921.5,762.4 Q929.9,773.0 942.9,776.6" stroke="#54473b" stroke-width="7.5" stroke-linecap="round" fill="none"/>
<path d="M921.5,762.4 Q929.9,773.0 942.9,776.6" stroke="rgb(188,176,163)" stroke-width="6.3" stroke-linecap="round" fill="none"/>
<path d="M921.5,762.4 Q929.9,773.0 942.9,776.6" stroke="#efe9e2" stroke-width="2.2" stroke-linecap="round" fill="none" opacity="0.37"/>
<path d="M829.1,667.5 Q815.3,668.0 803.4,674.9" stroke="#54473b" stroke-width="8.4" stroke-linecap="round" fill="none"/>
<path d="M829.1,667.5 Q815.3,668.0 803.4,674.9" stroke="rgb(173,161,147)" stroke-width="7.2" stroke-linecap="round" fill="none"/>
<path d="M829.1,667.5 Q815.3,668.0 803.4,674.9" stroke="#efe9e2" stroke-width="2.5" stroke-linecap="round" fill="none" opacity="0.38"/>
<path d="M833.6,754.0 Q844.8,762.6 847.9,776.4" stroke="#54473b" stroke-width="8.5" stroke-linecap="round" fill="none"/>
<path d="M833.6,754.0 Q844.8,762.6 847.9,776.4" stroke="rgb(181,169,156)" stroke-width="7.3" stroke-linecap="round" fill="none"/>
<path d="M833.6,754.0 Q844.8,762.6 847.9,776.4" stroke="#efe9e2" stroke-width="2.6" stroke-linecap="round" fill="none" opacity="0.38"/>
<path d="M911.4,742.1 Q920.1,759.4 935.9,770.3" stroke="#54473b" stroke-width="7.7" stroke-linecap="round" fill="none"/>
<path d="M911.4,742.1 Q920.1,759.4 935.9,770.3" stroke="rgb(175,163,149)" stroke-width="6.5" stroke-linecap="round" fill="none"/>
<path d="M911.4,742.1 Q920.1,759.4 935.9,770.3" stroke="#efe9e2" stroke-width="2.3" stroke-linecap="round" fill="none" opacity="0.38"/>
<path d="M875.8,785.4 Q869.8,793.7 860.7,798.3" stroke="#54473b" stroke-width="8.1" stroke-linecap="round" fill="none"/>
<path d="M875.8,785.4 Q869.8,793.7 860.7,798.3" stroke="rgb(192,180,167)" stroke-width="6.9" stroke-linecap="round" fill="none"/>
<path d="M875.8,785.4 Q869.8,793.7 860.7,798.3" stroke="#efe9e2" stroke-width="2.4" stroke-linecap="round" fill="none" opacity="0.39"/>
<path d="M929.8,679.3 Q912.9,690.9 892.7,693.6" stroke="#54473b" stroke-width="7.6" stroke-linecap="round" fill="none"/>
<path d="M929.8,679.3 Q912.9,690.9 892.7,693.6" stroke="rgb(189,177,163)" stroke-width="6.4" stroke-linecap="round" fill="none"/>
<path d="M929.8,679.3 Q912.9,690.9 892.7,693.6" stroke="#efe9e2" stroke-width="2.2" stroke-linecap="round" fill="none" opacity="0.39"/>
<path d="M886.6,752.6 Q884.9,761.7 887.8,770.5" stroke="#54473b" stroke-width="8.2" stroke-linecap="round" fill="none"/>
<path d="M886.6,752.6 Q884.9,761.7 887.8,770.5" stroke="rgb(177,165,152)" stroke-width="7.0" stroke-linecap="round" fill="none"/>
<path d="M886.6,752.6 Q884.9,761.7 887.8,770.5" stroke="#efe9e2" stroke-width="2.5" stroke-linecap="round" fill="none" opacity="0.39"/>
<path d="M869.4,725.5 Q856.1,731.0 842.4,726.4" stroke="#54473b" stroke-width="8.5" stroke-linecap="round" fill="none"/>
<path d="M869.4,725.5 Q856.1,731.0 842.4,726.4" stroke="rgb(187,175,161)" stroke-width="7.3" stroke-linecap="round" fill="none"/>
<path d="M869.4,725.5 Q856.1,731.0 842.4,726.4" stroke="#efe9e2" stroke-width="2.5" stroke-linecap="round" fill="none" opacity="0.40"/>
<path d="M846.0,771.8 Q831.0,772.2 818.8,780.8" stroke="#54473b" stroke-width="8.4" stroke-linecap="round" fill="none"/>
<path d="M846.0,771.8 Q831.0,772.2 818.8,780.8" stroke="rgb(178,166,153)" stroke-width="7.2" stroke-linecap="round" fill="none"/>
<path d="M846.0,771.8 Q831.0,772.2 818.8,780.8" stroke="#efe9e2" stroke-width="2.5" stroke-linecap="round" fill="none" opacity="0.40"/>
<path d="M833.8,756.3 Q823.9,765.7 813.0,773.8" stroke="#54473b" stroke-width="7.5" stroke-linecap="round" fill="none"/>
<path d="M833.8,756.3 Q823.9,765.7 813.0,773.8" stroke="rgb(190,178,164)" stroke-width="6.3" stroke-linecap="round" fill="none"/>
<path d="M833.8,756.3 Q823.9,765.7 813.0,773.8" stroke="#efe9e2" stroke-width="2.2" stroke-linecap="round" fill="none" opacity="0.40"/>
<path d="M867.3,720.3 Q861.0,731.3 854.0,742.0" stroke="#54473b" stroke-width="6.7" stroke-linecap="round" fill="none"/>
<path d="M867.3,720.3 Q861.0,731.3 854.0,742.0" stroke="rgb(187,175,162)" stroke-width="5.5" stroke-linecap="round" fill="none"/>
<path d="M867.3,720.3 Q861.0,731.3 854.0,742.0" stroke="#efe9e2" stroke-width="1.9" stroke-linecap="round" fill="none" opacity="0.41"/>
<path d="M911.8,779.4 Q899.6,782.1 887.1,782.4" stroke="#54473b" stroke-width="8.0" stroke-linecap="round" fill="none"/>
<path d="M911.8,779.4 Q899.6,782.1 887.1,782.4" stroke="rgb(187,175,162)" stroke-width="6.8" stroke-linecap="round" fill="none"/>
<path d="M911.8,779.4 Q899.6,782.1 887.1,782.4" stroke="#efe9e2" stroke-width="2.4" stroke-linecap="round" fill="none" opacity="0.41"/>
<path d="M867.8,747.7 Q861.5,755.0 852.0,753.0" stroke="#54473b" stroke-width="7.3" stroke-linecap="round" fill="none"/>
<path d="M867.8,747.7 Q861.5,755.0 852.0,753.0" stroke="rgb(178,166,153)" stroke-width="6.1" stroke-linecap="round" fill="none"/>
<path d="M867.8,747.7 Q861.5,755.0 852.0,753.0" stroke="#efe9e2" stroke-width="2.1" stroke-linecap="round" fill="none" opacity="0.41"/>
<path d="M850.2,685.8 Q859.1,701.7 863.9,719.3" stroke="#54473b" stroke-width="8.4" stroke-linecap="round" fill="none"/>
<path d="M850.2,685.8 Q859.1,701.7 863.9,719.3" stroke="rgb(184,172,158)" stroke-width="7.2" stroke-linecap="round" fill="none"/>
<path d="M850.2,685.8 Q859.1,701.7 863.9,719.3" stroke="#efe9e2" stroke-width="2.5" stroke-linecap="round" fill="none" opacity="0.42"/>
<path d="M914.1,768.8 Q931.4,777.4 950.1,782.3" stroke="#54473b" stroke-width="6.7" stroke-linecap="round" fill="none"/>
<path d="M914.1,768.8 Q931.4,777.4 950.1,782.3" stroke="rgb(184,172,159)" stroke-width="5.5" stroke-linecap="round" fill="none"/>
<path d="M914.1,768.8 Q931.4,777.4 950.1,782.3" stroke="#efe9e2" stroke-width="1.9" stroke-linecap="round" fill="none" opacity="0.42"/>
<path d="M821.7,671.8 Q824.3,684.4 835.0,691.5" stroke="#54473b" stroke-width="7.9" stroke-linecap="round" fill="none"/>
<path d="M821.7,671.8 Q824.3,684.4 835.0,691.5" stroke="rgb(181,169,156)" stroke-width="6.7" stroke-linecap="round" fill="none"/>
<path d="M821.7,671.8 Q824.3,684.4 835.0,691.5" stroke="#efe9e2" stroke-width="2.4" stroke-linecap="round" fill="none" opacity="0.42"/>
<path d="M931.2,742.7 Q912.9,746.8 894.4,743.6" stroke="#54473b" stroke-width="8.4" stroke-linecap="round" fill="none"/>
<path d="M931.2,742.7 Q912.9,746.8 894.4,743.6" stroke="rgb(193,181,168)" stroke-width="7.2" stroke-linecap="round" fill="none"/>
<path d="M931.2,742.7 Q912.9,746.8 894.4,743.6" stroke="#efe9e2" stroke-width="2.5" stroke-linecap="round" fill="none" opacity="0.43"/>
<path d="M916.5,711.2 Q908.6,715.1 904.3,722.7" stroke="#54473b" stroke-width="7.9" stroke-linecap="round" fill="none"/>
<path d="M916.5,711.2 Q908.6,715.1 904.3,722.7" stroke="rgb(194,182,168)" stroke-width="6.7" stroke-linecap="round" fill="none"/>
<path d="M916.5,711.2 Q908.6,715.1 904.3,722.7" stroke="#efe9e2" stroke-width="2.3" stroke-linecap="round" fill="none" opacity="0.43"/>
<path d="M924.7,672.9 Q905.2,672.8 886.5,678.3" stroke="#54473b" stroke-width="7.3" stroke-linecap="round" fill="none"/>
<path d="M924.7,672.9 Q905.2,672.8 886.5,678.3" stroke="rgb(198,186,172)" stroke-width="6.1" stroke-linecap="round" fill="none"/>
<path d="M924.7,672.9 Q905.2,672.8 886.5,678.3" stroke="#efe9e2" stroke-width="2.1" stroke-linecap="round" fill="none" opacity="0.43"/>
<path d="M880.2,701.8 Q867.2,709.9 856.7,721.2" stroke="#54473b" stroke-width="7.4" stroke-linecap="round" fill="none"/>
<path d="M880.2,701.8 Q867.2,709.9 856.7,721.2" stroke="rgb(199,187,173)" stroke-width="6.2" stroke-linecap="round" fill="none"/>
<path d="M880.2,701.8 Q867.2,709.9 856.7,721.2" stroke="#efe9e2" stroke-width="2.2" stroke-linecap="round" fill="none" opacity="0.44"/>
<path d="M864.2,772.6 Q862.3,782.1 858.5,791.1" stroke="#54473b" stroke-width="8.3" stroke-linecap="round" fill="none"/>
<path d="M864.2,772.6 Q862.3,782.1 858.5,791.1" stroke="rgb(186,174,161)" stroke-width="7.1" stroke-linecap="round" fill="none"/>
<path d="M864.2,772.6 Q862.3,782.1 858.5,791.1" stroke="#efe9e2" stroke-width="2.5" stroke-linecap="round" fill="none" opacity="0.44"/>
<path d="M846.2,702.7 Q848.6,715.2 852.9,727.2" stroke="#54473b" stroke-width="7.1" stroke-linecap="round" fill="none"/>
<path d="M846.2,702.7 Q848.6,715.2 852.9,727.2" stroke="rgb(186,174,160)" stroke-width="5.9" stroke-linecap="round" fill="none"/>
<path d="M846.2,702.7 Q848.6,715.2 852.9,727.2" stroke="#efe9e2" stroke-width="2.1" stroke-linecap="round" fill="none" opacity="0.44"/>
<path d="M835.4,712.9 Q845.6,729.1 860.0,741.7" stroke="#54473b" stroke-width="7.0" stroke-linecap="round" fill="none"/>
<path d="M835.4,712.9 Q845.6,729.1 860.0,741.7" stroke="rgb(193,181,167)" stroke-width="5.8" stroke-linecap="round" fill="none"/>
<path d="M835.4,712.9 Q845.6,729.1 860.0,741.7" stroke="#efe9e2" stroke-width="2.0" stroke-linecap="round" fill="none" opacity="0.45"/>
<path d="M834.5,780.1 Q827.3,788.3 826.0,799.1" stroke="#54473b" stroke-width="7.1" stroke-linecap="round" fill="none"/>
<path d="M834.5,780.1 Q827.3,788.3 826.0,799.1" stroke="rgb(189,177,164)" stroke-width="5.9" stroke-linecap="round" fill="none"/>
<path d="M834.5,780.1 Q827.3,788.3 826.0,799.1" stroke="#efe9e2" stroke-width="2.1" stroke-linecap="round" fill="none" opacity="0.45"/>
<path d="M883.4,754.2 Q891.9,768.3 901.8,781.4" stroke="#54473b" stroke-width="7.2" stroke-linecap="round" fill="none"/>
<path d="M883.4,754.2 Q891.9,768.3 901.8,781.4" stroke="rgb(193,181,167)" stroke-width="6.0" stroke-linecap="round" fill="none"/>
<path d="M883.4,754.2 Q891.9,768.3 901.8,781.4" stroke="#efe9e2" stroke-width="2.1" stroke-linecap="round" fill="none" opacity="0.45"/>
<path d="M894.3,678.6 Q903.1,675.5 911.8,678.8" stroke="#54473b" stroke-width="8.2" stroke-linecap="round" fill="none"/>
<path d="M894.3,678.6 Q903.1,675.5 911.8,678.8" stroke="rgb(198,186,172)" stroke-width="7.0" stroke-linecap="round" fill="none"/>
<path d="M894.3,678.6 Q903.1,675.5 911.8,678.8" stroke="#efe9e2" stroke-width="2.5" stroke-linecap="round" fill="none" opacity="0.46"/>
<path d="M885.3,780.0 Q869.7,783.8 857.7,794.6" stroke="#54473b" stroke-width="6.8" stroke-linecap="round" fill="none"/>
<path d="M885.3,780.0 Q869.7,783.8 857.7,794.6" stroke="rgb(191,179,165)" stroke-width="5.6" stroke-linecap="round" fill="none"/>
<path d="M885.3,780.0 Q869.7,783.8 857.7,794.6" stroke="#efe9e2" stroke-width="2.0" stroke-linecap="round" fill="none" opacity="0.46"/>
<path d="M825.7,765.9 Q821.2,775.8 815.7,785.1" stroke="#54473b" stroke-width="6.6" stroke-linecap="round" fill="none"/>
<path d="M825.7,765.9 Q821.2,775.8 815.7,785.1" stroke="rgb(193,181,168)" stroke-width="5.4" stroke-linecap="round" fill="none"/>
<path d="M825.7,765.9 Q821.2,775.8 815.7,785.1" stroke="#efe9e2" stroke-width="1.9" stroke-linecap="round" fill="none" opacity="0.46"/>
<path d="M881.6,768.5 Q869.3,767.1 859.6,774.8" stroke="#54473b" stroke-width="6.9" stroke-linecap="round" fill="none"/>
<path d="M881.6,768.5 Q869.3,767.1 859.6,774.8" stroke="rgb(190,178,165)" stroke-width="5.7" stroke-linecap="round" fill="none"/>
<path d="M881.6,768.5 Q869.3,767.1 859.6,774.8" stroke="#efe9e2" stroke-width="2.0" stroke-linecap="round" fill="none" opacity="0.47"/>
<path d="M913.1,777.2 Q896.6,780.2 884.2,791.6" stroke="#54473b" stroke-width="6.8" stroke-linecap="round" fill="none"/>
<path d="M913.1,777.2 Q896.6,780.2 884.2,791.6" stroke="rgb(186,174,160)" stroke-width="5.6" stroke-linecap="round" fill="none"/>
<path d="M913.1,777.2 Q896.6,780.2 884.2,791.6" stroke="#efe9e2" stroke-width="2.0" stroke-linecap="round" fill="none" opacity="0.47"/>
<path d="M909.7,758.3 Q894.7,768.1 887.1,784.3" stroke="#54473b" stroke-width="7.8" stroke-linecap="round" fill="none"/>
<path d="M909.7,758.3 Q894.7,768.1 887.1,784.3" stroke="rgb(190,178,164)" stroke-width="6.6" stroke-linecap="round" fill="none"/>
<path d="M909.7,758.3 Q894.7,768.1 887.1,784.3" stroke="#efe9e2" stroke-width="2.3" stroke-linecap="round" fill="none" opacity="0.47"/>
<path d="M925.9,758.9 Q930.6,768.7 928.3,779.4" stroke="#54473b" stroke-width="7.5" stroke-linecap="round" fill="none"/>
<path d="M925.9,758.9 Q930.6,768.7 928.3,779.4" stroke="rgb(202,190,176)" stroke-width="6.3" stroke-linecap="round" fill="none"/>
<path d="M925.9,758.9 Q930.6,768.7 928.3,779.4" stroke="#efe9e2" stroke-width="2.2" stroke-linecap="round" fill="none" opacity="0.48"/>
<path d="M925.9,756.0 Q918.7,760.9 914.8,768.7" stroke="#54473b" stroke-width="8.5" stroke-linecap="round" fill="none"/>
<path d="M925.9,756.0 Q918.7,760.9 914.8,768.7" stroke="rgb(202,190,176)" stroke-width="7.3" stroke-linecap="round" fill="none"/>
<path d="M925.9,756.0 Q918.7,760.9 914.8,768.7" stroke="#efe9e2" stroke-width="2.5" stroke-linecap="round" fill="none" opacity="0.48"/>
<path d="M923.4,742.8 Q934.7,755.4 943.0,770.3" stroke="#54473b" stroke-width="8.1" stroke-linecap="round" fill="none"/>
<path d="M923.4,742.8 Q934.7,755.4 943.0,770.3" stroke="rgb(192,180,167)" stroke-width="6.9" stroke-linecap="round" fill="none"/>
<path d="M923.4,742.8 Q934.7,755.4 943.0,770.3" stroke="#efe9e2" stroke-width="2.4" stroke-linecap="round" fill="none" opacity="0.48"/>
<path d="M848.4,704.3 Q857.2,705.7 863.4,712.0" stroke="#54473b" stroke-width="7.2" stroke-linecap="round" fill="none"/>
<path d="M848.4,704.3 Q857.2,705.7 863.4,712.0" stroke="rgb(188,176,162)" stroke-width="6.0" stroke-linecap="round" fill="none"/>
<path d="M848.4,704.3 Q857.2,705.7 863.4,712.0" stroke="#efe9e2" stroke-width="2.1" stroke-linecap="round" fill="none" opacity="0.49"/>
<path d="M913.1,762.1 Q909.4,774.4 898.3,780.9" stroke="#54473b" stroke-width="8.3" stroke-linecap="round" fill="none"/>
<path d="M913.1,762.1 Q909.4,774.4 898.3,780.9" stroke="rgb(199,187,174)" stroke-width="7.1" stroke-linecap="round" fill="none"/>
<path d="M913.1,762.1 Q909.4,774.4 898.3,780.9" stroke="#efe9e2" stroke-width="2.5" stroke-linecap="round" fill="none" opacity="0.49"/>
<path d="M903.2,680.6 Q887.6,691.1 872.4,702.2" stroke="#54473b" stroke-width="7.7" stroke-linecap="round" fill="none"/>
<path d="M903.2,680.6 Q887.6,691.1 872.4,702.2" stroke="rgb(202,190,176)" stroke-width="6.5" stroke-linecap="round" fill="none"/>
<path d="M903.2,680.6 Q887.6,691.1 872.4,702.2" stroke="#efe9e2" stroke-width="2.3" stroke-linecap="round" fill="none" opacity="0.49"/>
<path d="M814.2,766.1 Q822.1,778.0 830.7,789.4" stroke="#54473b" stroke-width="7.1" stroke-linecap="round" fill="none"/>
<path d="M814.2,766.1 Q822.1,778.0 830.7,789.4" stroke="rgb(191,179,165)" stroke-width="5.9" stroke-linecap="round" fill="none"/>
<path d="M814.2,766.1 Q822.1,778.0 830.7,789.4" stroke="#efe9e2" stroke-width="2.1" stroke-linecap="round" fill="none" opacity="0.50"/>
</g>
<circle cx="876.8" cy="731.6" r="55.3" fill="none" stroke="#0a0a0a" stroke-width="4.2"/>
<rect x="529.3" y="830.1" width="155.8" height="27.9" fill="#d0ccc3"/>
<rect x="534.8" y="841.5" width="1.6" height="4.6" fill="#000"/>
<rect x="541.2" y="841.3" width="8.6" height="5" fill="#000"/>
<rect x="553.2" y="841.3" width="8.6" height="5" fill="#000"/>
<rect x="565.2" y="841.3" width="8.6" height="5" fill="#000"/>
<rect x="577.2" y="841.3" width="8.6" height="5" fill="#000"/>
<text transform="translate(636.60 854.4) scale(0.9398 1) translate(-45.10 0)" style="font-size:28.7px;" fill="#111">inhibits</text>
<text transform="translate(236.35 355.60) rotate(-90)" style="font-size:27.3px;" fill="#d9f3fa">Low-tide</text>
<text transform="translate(263.75 374.60) rotate(-90)" style="font-size:27.3px;" fill="#d9f3fa">evaporation</text>
<text transform="translate(745.10 356.00) rotate(-90)" style="font-size:27.3px;" fill="#d9f3fa">Low-tide</text>
<text transform="translate(772.65 374.60) rotate(-90)" style="font-size:27.3px;" fill="#d9f3fa">evaporation</text>
<rect x="6.65" y="193.15" width="477.7" height="673.2" rx="8" fill="none" stroke="#3aa169" stroke-width="9.3"/>
<rect x="516.45" y="193.15" width="476.5" height="673.2" rx="8" fill="none" stroke="#db343a" stroke-width="9.3"/>
</svg></body></html>
